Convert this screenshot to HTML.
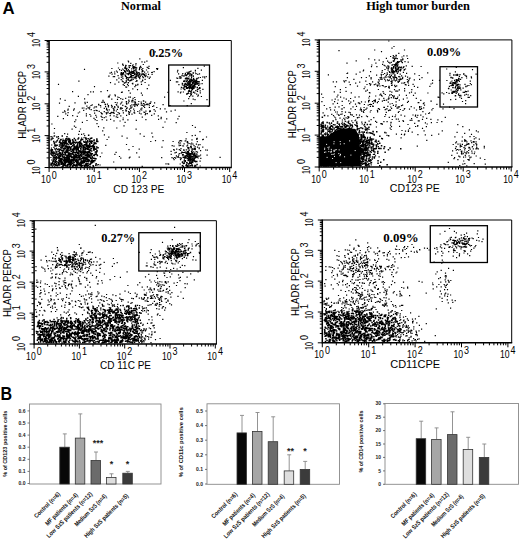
<!DOCTYPE html>
<html><head><meta charset="utf-8"><style>
html,body{margin:0;padding:0;background:#fff;width:520px;height:540px;overflow:hidden}
svg{display:block}
</style></head><body>
<svg width="520" height="540" viewBox="0 0 520 540" font-family='"Liberation Sans", sans-serif'><text x="2.4" y="14.3" font-size="16.8" font-weight="bold">A</text>
<text x="141" y="10.3" font-size="12.2" font-family='"Liberation Serif", serif' font-weight="bold" text-anchor="middle">Normal</text>
<text x="418" y="10.3" font-size="12.4" font-family='"Liberation Serif", serif' font-weight="bold" text-anchor="middle">High tumor burden</text>
<text x="0.5" y="399.9" font-size="18" font-weight="bold" textLength="11.6" lengthAdjust="spacingAndGlyphs">B</text>
<path d="M55.1 149.9h1.2M54.1 145.9h1.2M52.9 160.1h1.2M55.8 159.7h1.2M54.3 162.4h1.2M55.9 148.3h1.2M55.4 151.3h1.2M50.3 157.5h1.2M50.5 164.9h1.2M52.7 155.2h1.2M50.7 150.6h1.2M53.5 157.6h1.2M55.6 165.5h1.2M51.8 163.5h1.2M50.4 165.4h1.2M54.3 153.4h1.2M51.1 151.4h1.2M51 163.4h1.2M54.5 161.5h1.2M55.4 165h1.2M53.4 154.1h1.2M52 152.7h1.2M53.3 151.9h1.2M55.8 163.7h1.2M54.9 164.7h1.2M50.6 152.6h1.2M52.1 162.8h1.2M50.2 153.7h1.2M54.3 153.3h1.2M52.5 158.2h1.2M50.9 152.1h1.2M52 150.1h1.2M52.8 151.8h1.2M55.6 152.1h1.2M54.6 155.7h1.2M53.3 147.3h1.2M54.4 160.2h1.2M50.1 150.1h1.2M52.1 155.3h1.2M53.5 158.1h1.2M55.4 148.8h1.2M52.1 155.1h1.2M54.6 157.3h1.2M55.6 157.7h1.2M55.5 165h1.2M52.2 161.9h1.2M54 148.9h1.2M53.4 163.6h1.2M53.2 157.9h1.2M52.9 160.8h1.2M71.5 129.2h1.2M96.1 151.1h1.2M50.9 148h1.2M56.1 165.1h1.2M81 134.3h1.2M81.8 146h1.2M106.5 139.5h1.2M51.1 150.7h1.2M65.7 145.8h1.2M50.7 154.3h1.2M102.1 130.9h1.2M93.1 144.3h1.2M114.3 154.4h1.2M68.6 161.1h1.2M81.5 144.1h1.2M84.8 144.9h1.2M50.8 164.6h1.2M65.7 143.9h1.2M78.1 134.4h1.2M51.1 145h1.2M62.6 150.7h1.2M92.2 145.3h1.2M80.9 156h1.2M52.5 152.3h1.2M55 160.6h1.2M80.2 150.2h1.2M50.6 151.2h1.2M58.2 157.1h1.2M69.9 141.9h1.2M88.7 157.2h1.2M61.3 161.6h1.2M66.6 146.9h1.2M74.2 142.5h1.2M64.1 148.4h1.2M99.5 165h1.2M67.3 166.1h1.2M71.2 153.8h1.2M87.9 152.9h1.2M115.5 152.4h1.2M50.4 163.1h1.2M64.6 147h1.2M51.6 160h1.2M86.7 158h1.2M89.6 164.5h1.2M71.2 159.4h1.2M58.6 146.5h1.2M91 153.9h1.2M51.6 153.6h1.2M68.7 141.8h1.2M79.8 146h1.2M51.7 138.9h1.2M103.8 134.9h1.2M76 156.1h1.2M83.5 137.7h1.2M66.2 151.4h1.2M86.4 143.6h1.2M51.1 160h1.2M91.9 153.7h1.2M61 154.1h1.2M74 158.4h1.2M51.4 151.2h1.2M69.1 138.9h1.2M75.9 150.3h1.2M64.6 154h1.2M51.9 149.5h1.2M79.8 152.8h1.2M91.4 138h1.2M50.7 152.4h1.2M80.2 164.8h1.2M83.1 141.3h1.2M86.5 141.5h1.2M51.1 164.3h1.2M77.9 157.1h1.2M82.1 165.4h1.2M77.1 162.2h1.2M53.5 136.1h1.2M97.7 164.7h1.2M81.2 152.3h1.2M75 143.1h1.2M99.7 156.6h1.2M81.1 153.8h1.2M90.9 155.1h1.2M85.4 138.3h1.2M81.2 166.1h1.2M62.7 148.7h1.2M88.1 159.6h1.2M83.2 133.8h1.2M81 138.2h1.2M57.2 155.5h1.2M66.7 158.1h1.2M128.7 157.8h1.2M85 141h1.2M60.4 139.4h1.2M62.4 139.1h1.2M60.1 147.9h1.2M54 135.8h1.2M50.5 154.5h1.2M73.1 160.3h1.2M90.8 146.6h1.2M84.1 135.6h1.2M113.1 162h1.2M68.1 138.4h1.2M78.8 131.3h1.2M58 157.5h1.2M73.4 145.1h1.2M89.1 139.6h1.2M77.1 145h1.2M56.7 154.6h1.2M54.1 166.1h1.2M61.5 166.5h1.2M52.3 156.1h1.2M50.4 136.6h1.2M74.9 156.8h1.2M52 161.8h1.2M57.6 151.3h1.2M78.8 155.9h1.2M51.8 166.2h1.2M82.1 145.7h1.2M53.6 133.1h1.2M51.3 155.4h1.2M65.9 138.7h1.2M62.5 165.6h1.2M66 144.2h1.2M96.3 154.6h1.2M72.8 143.9h1.2M52.5 138.3h1.2M63.4 147.8h1.2M78.4 155.5h1.2M76 152.2h1.2M53.9 128.5h1.2M62.6 140.5h1.2M60.3 147.3h1.2M50.7 138.9h1.2M70.2 151.2h1.2M60.2 155h1.2M68 139.8h1.2M72.7 165.6h1.2M59.9 161.7h1.2M96.8 165h1.2M57.2 165.3h1.2M74.1 147.5h1.2M67.9 156h1.2M72.9 148.2h1.2M95.1 142.8h1.2M53.2 157.9h1.2M84.7 160.9h1.2M52.7 160.8h1.2M80.7 166.5h1.2M50.6 152.2h1.2M67 134.1h1.2M59.1 161.3h1.2M63.6 142.8h1.2M87.6 159.9h1.2M89.8 142.1h1.2M71 160.3h1.2M60.2 142.5h1.2M86.9 165.6h1.2M51.3 124h1.2M50.5 139.9h1.2M69.5 156.2h1.2M69.4 143h1.2M74.8 140.4h1.2M71.2 143.6h1.2M120.2 158.2h1.2M57 140h1.2M64.1 133.6h1.2M58.9 142.6h1.2M87.9 145.7h1.2M57.8 136.6h1.2M50.8 149.3h1.2M68.1 161.3h1.2M60.7 160.6h1.2M76.6 150h1.2M51.6 137.1h1.2M85.3 164h1.2M75.7 157.6h1.2M64.7 146.3h1.2M60.1 159.7h1.2M78.2 147.7h1.2M66.1 155.6h1.2M151.1 72.5h1.2M139.2 58.8h1.2M133.4 71.9h1.2M138.8 74.5h1.2M120.6 79.7h1.2M138.9 77.6h1.2M142.1 80.6h1.2M131.8 65.9h1.2M118.2 82.1h1.2M139.1 74.6h1.2M127.7 74.2h1.2M132.2 72h1.2M125 87h1.2M134.3 70.4h1.2M119 69.6h1.2M139.2 78.6h1.2M129.8 74.3h1.2M128.9 67.4h1.2M145 76.2h1.2M156.8 69.5h1.2M130.6 79.3h1.2M129.5 65.7h1.2M122.5 74.6h1.2M135.4 73.4h1.2M142 80h1.2M135.2 74.2h1.2M129.5 77.3h1.2M141.2 74.4h1.2M136.5 72.1h1.2M117.9 68h1.2M139.7 76.7h1.2M147.9 74.3h1.2M140.6 81.9h1.2M141.9 70.3h1.2M130.2 74.8h1.2M122.1 76.8h1.2M142.2 71.1h1.2M151.7 72.3h1.2M130 72.6h1.2M124.9 76.5h1.2M132.2 84h1.2M138.1 77.2h1.2M129.8 65.5h1.2M131.1 68.9h1.2M141.5 73.8h1.2M148.7 78.4h1.2M140.4 75.4h1.2M134.1 77.9h1.2M141.2 69.7h1.2M136.9 89.7h1.2M131.1 72.5h1.2M125.1 65.3h1.2M143.9 74.4h1.2M135 85.1h1.2M157.1 68.7h1.2M142.5 77.7h1.2M136 76.9h1.2M131.8 83.5h1.2M138.2 76.1h1.2M144.5 79.4h1.2M136.6 76h1.2M149.6 77.1h1.2M131.1 68.9h1.2M128.6 67.7h1.2M133.1 75.6h1.2M111.5 74.1h1.2M138.5 75h1.2M122.5 81.6h1.2M125.1 66.6h1.2M121.2 73.9h1.2M141.9 81h1.2M134.1 66.9h1.2M125.5 68.6h1.2M130.2 63.4h1.2M133.1 77.9h1.2M130.5 76.8h1.2M122.6 65.3h1.2M125.6 80.9h1.2M142.3 71.3h1.2M144 72.1h1.2M147.1 76.9h1.2M127.5 78.8h1.2M124.3 68.4h1.2M117.5 75.6h1.2M131.5 73.5h1.2M127.9 82.6h1.2M127.8 69.7h1.2M144.5 82.5h1.2M135.4 63.6h1.2M126 77.7h1.2M132.2 83.3h1.2M118.3 78.1h1.2M125.7 81.9h1.2M131.2 80.2h1.2M125.5 65.5h1.2M120.9 70.4h1.2M121.8 81.2h1.2M145.4 75.6h1.2M121.7 73.3h1.2M125.1 82.7h1.2M135.2 76.9h1.2M128 61.9h1.2M124.3 67.3h1.2M135.7 74.6h1.2M124 71.7h1.2M147.7 68.2h1.2M122.8 72.6h1.2M125 71.4h1.2M137.3 84.4h1.2M114.2 73.9h1.2M132.4 73.5h1.2M130.1 72h1.2M142 71.2h1.2M130.7 74h1.2M133.1 73h1.2M142 73.9h1.2M133.7 73.7h1.2M122 69h1.2M121.5 75.2h1.2M124.9 67.6h1.2M134.4 77.2h1.2M114.4 84.1h1.2M132.3 73.4h1.2M142.7 74.4h1.2M126 87.2h1.2M121.3 73.4h1.2M140.5 67.6h1.2M131 76.3h1.2M156 68.6h1.2M131.5 78h1.2M132.8 66.8h1.2M136.1 74.6h1.2M136.5 80.8h1.2M142.1 76.4h1.2M135.1 67.4h1.2M130.7 75.3h1.2M128 74.6h1.2M123.7 83.2h1.2M153.5 71.7h1.2M136 72.6h1.2M144.6 76.6h1.2M132.8 72.7h1.2M133.3 68h1.2M138.8 69.7h1.2M137.3 74.8h1.2M142.9 73.9h1.2M142.2 68.5h1.2M138.1 72.7h1.2M133.9 74.4h1.2M141.4 61.9h1.2M135.2 65h1.2M144.1 62.2h1.2M122 64h1.2M148.4 66.3h1.2M133.1 70.8h1.2M114 72h1.2M138.6 72.9h1.2M141.4 71.8h1.2M132.1 71.7h1.2M135.4 85.4h1.2M135.6 75.2h1.2M125.8 69.5h1.2M146.6 67.3h1.2M122.9 73.4h1.2M127.7 85.7h1.2M108.3 76.2h1.2M139.1 67.3h1.2M125.6 76.6h1.2M148.3 68.5h1.2M116.2 79.8h1.2M147.2 72h1.2M109.9 82.7h1.2M130 80.7h1.2M131.6 71.7h1.2M127.5 82.8h1.2M146.3 61.2h1.2M122.6 84.7h1.2M128.3 65.8h1.2M132 73.3h1.2M131 71.1h1.2M128.9 71.3h1.2M135.3 69.1h1.2M129.1 73.1h1.2M145.1 76.2h1.2M130.9 77.2h1.2M136.1 80.5h1.2M137.1 84.8h1.2M145.4 73.8h1.2M127.9 79.3h1.2M137.2 73.4h1.2M117.2 63h1.2M135.5 78.6h1.2M140 66.3h1.2M142.4 70.8h1.2M135.9 76.5h1.2M124 70.5h1.2M111.3 68.5h1.2M114 76.6h1.2M132.6 79.5h1.2M135.6 70.2h1.2M135.5 71.7h1.2M138.1 75.9h1.2M122.1 74h1.2M132.6 72.2h1.2M140.9 84.3h1.2M128.3 71.9h1.2M109.5 73.2h1.2M127.6 61h1.2M134.9 77.5h1.2M124.7 71.8h1.2M122.3 78.6h1.2M116.8 72.1h1.2M151.5 74.3h1.2M136.7 73.1h1.2M120.3 73.8h1.2M136.1 67.9h1.2M135.4 81.5h1.2M142.7 64.5h1.2M122.2 64.3h1.2M142.7 77.7h1.2M139 68.7h1.2M120.3 74.5h1.2M133 68.9h1.2M133.4 77.9h1.2M134.3 67.8h1.2M110.9 72.4h1.2M133.6 72.4h1.2M127.7 69.9h1.2M139.2 73.7h1.2M133.2 68.2h1.2M124.9 75.7h1.2M123 70h1.2M126.4 79.8h1.2M129 80.8h1.2M127.3 73.8h1.2M121 72.7h1.2M135.2 76.3h1.2M131.7 77.8h1.2M128 74.2h1.2M128.6 77.7h1.2M130.3 77h1.2M128.8 71.9h1.2M126.7 71.2h1.2M133 66.6h1.2M126.9 84.5h1.2M126.3 70.5h1.2M127.9 80.2h1.2M127.2 77.5h1.2M128.5 73.5h1.2M143.8 75.3h1.2M125.3 73h1.2M129.9 76.6h1.2M131.9 75.6h1.2M120.8 77.1h1.2M126.5 73.9h1.2M120.6 72.7h1.2M124.4 74.9h1.2M120.7 75.2h1.2M128.6 70.5h1.2M124.9 71.6h1.2M132.5 64.9h1.2M126.3 68.4h1.2M125.8 78.4h1.2M124.8 75.6h1.2M123.8 82.8h1.2M140.5 113.8h1.2M102.4 100.4h1.2M143.4 105.8h1.2M120.6 109h1.2M103.7 111.6h1.2M125.3 109.9h1.2M113.6 110.1h1.2M113 112.7h1.2M144.2 112.5h1.2M133.8 110.8h1.2M79 112h1.2M120.3 107.6h1.2M120.2 98.7h1.2M115.8 111h1.2M149.1 103.3h1.2M109.6 115.7h1.2M110 119.4h1.2M125.9 101.7h1.2M141.7 117.2h1.2M100.6 116.4h1.2M120.2 115.9h1.2M118.5 97.5h1.2M133.5 112.6h1.2M160.6 117.3h1.2M136.8 105.6h1.2M116.1 105.2h1.2M110.9 105.4h1.2M81.7 108.1h1.2M124.5 122.4h1.2M137.9 104.1h1.2M134.6 99.6h1.2M114.8 95.8h1.2M149.4 110.6h1.2M105 106.6h1.2M141.1 110h1.2M131.5 101.9h1.2M114.2 107.6h1.2M140.6 102h1.2M105.9 113.9h1.2M109.2 113.5h1.2M129.1 112.3h1.2M154.7 111.1h1.2M138.2 101.5h1.2M113.2 110.9h1.2M151.1 115.4h1.2M164.4 108.9h1.2M128.4 113h1.2M125.3 106.6h1.2M107.2 112.9h1.2M106.8 110.1h1.2M100.9 113.6h1.2M107.5 112.1h1.2M98 104.4h1.2M145 102.2h1.2M126.1 104.1h1.2M85.7 108.8h1.2M132.3 100.4h1.2M134.8 102.2h1.2M107.9 107h1.2M113.4 120.8h1.2M98.6 111.4h1.2M141.8 95.1h1.2M95.5 110.4h1.2M116.8 109.3h1.2M144.4 104.8h1.2M106.9 90.6h1.2M128.5 101.4h1.2M130.3 108.4h1.2M101.5 117.3h1.2M143.4 112.1h1.2M104.9 104.6h1.2M115.7 104.5h1.2M105.9 109.6h1.2M128.9 109.2h1.2M116.4 114.7h1.2M128.2 90.6h1.2M114.1 106.7h1.2M141.4 105.2h1.2M120.7 103h1.2M136.3 104.3h1.2M114.7 102.5h1.2M134.5 103.8h1.2M96.5 110.7h1.2M113.1 109.1h1.2M131.4 114.2h1.2M142.8 103.5h1.2M122.2 99.3h1.2M153.5 109.6h1.2M148.7 105.1h1.2M90.2 116.2h1.2M126.6 107.8h1.2M125.9 110.9h1.2M134.1 97.5h1.2M143.5 103.8h1.2M117.1 117.4h1.2M140.6 105h1.2M93.4 108h1.2M134.2 106.5h1.2M103.8 102.3h1.2M103.7 108.3h1.2M138.9 113.2h1.2M112.6 108.4h1.2M134.4 103.9h1.2M122.5 119.7h1.2M128.5 112.3h1.2M117.6 107.3h1.2M95.9 106.8h1.2M145.3 119.6h1.2M145.3 111.1h1.2M125.9 103.4h1.2M122.3 110.7h1.2M111.7 112.6h1.2M108.3 96.3h1.2M107.8 97h1.2M101.7 113.8h1.2M121.6 108.3h1.2M144.7 114.6h1.2M116.4 115h1.2M131.5 107h1.2M132.5 98.4h1.2M111.6 106.4h1.2M135.4 104.8h1.2M122.8 112.8h1.2M149 111.6h1.2M146.6 104.6h1.2M119.8 108.9h1.2M119.9 104h1.2M153.1 105.8h1.2M108.6 109.9h1.2M156.2 107.5h1.2M145.9 104.4h1.2M116.6 102.9h1.2M122.6 118h1.2M105.4 116.8h1.2M107.9 105.6h1.2M139.2 110.8h1.2M129.8 97.1h1.2M131.2 100.9h1.2M168.7 105.7h1.2M128.2 100.1h1.2M116.9 99.3h1.2M141.7 105.4h1.2M134.6 102.9h1.2M116.5 114.7h1.2M108.5 96.2h1.2M131.9 100.2h1.2M117.5 112.5h1.2M111.1 112.3h1.2M113.4 115.9h1.2M147.5 104.2h1.2M121.4 102h1.2M128.4 113.9h1.2M100.4 112.5h1.2M102.5 101.8h1.2M94.6 119.6h1.2M126 108.5h1.2M113.5 113.4h1.2M89.2 107.2h1.2M162.5 104.7h1.2M125.3 111h1.2M111.2 107.1h1.2M141.3 108.2h1.2M131.3 104.9h1.2M130.4 107.3h1.2M149.7 111.3h1.2M120.9 92.3h1.2M137.2 111.5h1.2M109.4 95h1.2M105.6 112.6h1.2M106.9 104.2h1.2M128.7 114.3h1.2M124.7 106.4h1.2M115.7 116.8h1.2M143.1 106.4h1.2M101.3 102.3h1.2M134.9 102.7h1.2M140.2 109.2h1.2M130 110.9h1.2M133.5 101.9h1.2M119.5 121h1.2M104.5 104.2h1.2M143.1 106h1.2M111.2 99.1h1.2M134.1 113.1h1.2M148.8 107.3h1.2M142.8 100.8h1.2M127.9 102.9h1.2M128 111.5h1.2M143.2 101.1h1.2M146.5 104.2h1.2M107.6 106h1.2M100.1 107h1.2M129.9 105.8h1.2M134.1 105.1h1.2M125.1 98.4h1.2M125.7 101.9h1.2M117.4 106.4h1.2M128.2 97.1h1.2M98.4 105.2h1.2M133.1 109.2h1.2M93.4 118.4h1.2M87.4 107.8h1.2M64.5 100.4h1.2M73 110.1h1.2M83.3 108h1.2M77.7 113h1.2M83.1 110.4h1.2M84.6 103.6h1.2M64.5 111.9h1.2M86.3 106.2h1.2M73.8 126.2h1.2M68.6 106.3h1.2M84 98.8h1.2M81.8 122.4h1.2M94 113.1h1.2M88.9 108.9h1.2M94.4 106.8h1.2M73.7 108.8h1.2M93.6 110.6h1.2M90.1 91.8h1.2M97.9 126.7h1.2M100 105.5h1.2M67.3 110.2h1.2M65.2 113.8h1.2M72.1 115.7h1.2M100.4 91.7h1.2M84.4 102.4h1.2M58.9 103.1h1.2M76.7 116.3h1.2M57.2 116.4h1.2M110.3 112.8h1.2M88.2 107.9h1.2M62.4 112.3h1.2M85.8 113.9h1.2M118.5 113.8h1.2M86.4 120.5h1.2M59.8 98.9h1.2M74.4 102.8h1.2M90.4 105.5h1.2M106.1 120.2h1.2M91.6 104.9h1.2M89.3 114.5h1.2M64 110.8h1.2M90.6 109.7h1.2M103.6 117.7h1.2M67.6 109h1.2M67.5 112.6h1.2M67 115.4h1.2M85.8 115.8h1.2M77.8 96.3h1.2M201.5 83.6h1.2M198.9 88.4h1.2M194.4 99.6h1.2M192.2 96.2h1.2M180.4 92h1.2M188.4 83.9h1.2M190.1 87.8h1.2M200.8 70.2h1.2M190.3 79.3h1.2M197.6 81.6h1.2M193 81.8h1.2M194.3 93.1h1.2M187.4 85.4h1.2M180.8 87.4h1.2M195.6 80.6h1.2M197.3 68.4h1.2M178 73.9h1.2M186.8 85.1h1.2M189.5 84.5h1.2M194.7 81.2h1.2M181.8 75h1.2M203.7 66.2h1.2M188.9 96.7h1.2M193.1 78.4h1.2M190 91.9h1.2M197.9 77.8h1.2M194.9 87h1.2M197.2 96.1h1.2M187.8 73.4h1.2M192.6 99.2h1.2M194.5 86.8h1.2M205.6 76.7h1.2M195.9 80.4h1.2M190.3 85.7h1.2M199.8 77.5h1.2M186.5 72.3h1.2M193.2 81.3h1.2M192.7 76.4h1.2M187.7 93.3h1.2M188.9 90h1.2M193.4 82.2h1.2M179.9 92.9h1.2M191.1 92.9h1.2M176.9 71.8h1.2M176.1 78h1.2M196.8 89.5h1.2M189.8 86h1.2M194.9 82.6h1.2M192.6 86.1h1.2M175.8 81.9h1.2M198.8 81.8h1.2M189.1 80.1h1.2M186.8 94h1.2M188.3 76.8h1.2M169.8 80.4h1.2M177.2 70.4h1.2M195.2 90.7h1.2M177.5 91.8h1.2M193 78.7h1.2M194.8 72h1.2M182.2 73.5h1.2M182.8 92h1.2M181.3 75.8h1.2M183.8 86.6h1.2M187.8 91.9h1.2M185.4 74.7h1.2M186.7 85.3h1.2M183.9 87.2h1.2M201.8 80.3h1.2M190.2 95.7h1.2M185.7 78.1h1.2M182.8 88.1h1.2M193.3 83.7h1.2M190.2 95.1h1.2M195.5 73.6h1.2M189.8 85.7h1.2M194.5 83h1.2M185.6 81.1h1.2M178.3 84.6h1.2M185.9 88.5h1.2M183.1 81.3h1.2M183.4 76.2h1.2M194.3 81h1.2M192.7 75.8h1.2M190.4 71.2h1.2M186.7 80.7h1.2M193.5 86.1h1.2M188.6 91.4h1.2M191 89h1.2M194.7 84.1h1.2M187.8 87.3h1.2M187 87.7h1.2M196.9 91.5h1.2M187.2 74.4h1.2M189.3 83.6h1.2M196.9 81.6h1.2M188.3 90.5h1.2M186.6 83.4h1.2M200.8 96.5h1.2M193.8 86.8h1.2M183.4 89.1h1.2M190.1 86.4h1.2M186.3 84.5h1.2M188.5 87.1h1.2M199 87.5h1.2M178.9 76.9h1.2M179.4 78.3h1.2M193.3 87.8h1.2M185.8 86.7h1.2M184.8 73.3h1.2M180.6 77.8h1.2M198.9 73.9h1.2M197.8 95.2h1.2M188.5 84.2h1.2M185.7 84.4h1.2M193.9 84.7h1.2M196.1 94.1h1.2M191.9 87.2h1.2M189.3 87.4h1.2M182.4 87.8h1.2M191 77.7h1.2M203.6 76.8h1.2M184 86.8h1.2M177.1 78.3h1.2M179.8 76.9h1.2M188.8 87.1h1.2M196.8 91h1.2M197.3 89.3h1.2M186.6 93.5h1.2M186.5 79.7h1.2M199.6 90.9h1.2M191.1 90.6h1.2M195.3 73.7h1.2M189 75.1h1.2M190.4 79.2h1.2M198.5 88.7h1.2M184.4 84.4h1.2M181.8 84.9h1.2M193.2 86.7h1.2M177.1 81.9h1.2M192.9 87h1.2M197.2 74.3h1.2M193 79.3h1.2M190.9 87.8h1.2M194.1 79.9h1.2M190.8 75.2h1.2M180.5 89h1.2M189.3 71.6h1.2M184.1 84.7h1.2M199.7 92.9h1.2M194.8 70.3h1.2M189 88.4h1.2M192.2 87.9h1.2M188.1 98.6h1.2M199.2 83.8h1.2M183.3 101h1.2M186 94.1h1.2M202 77h1.2M191.5 81.8h1.2M193 87.1h1.2M202.3 89.3h1.2M189.6 93.5h1.2M187.9 81.6h1.2M204.2 78h1.2M186.4 84.9h1.2M182.8 67.7h1.2M196.5 78.3h1.2M186.1 81.6h1.2M183.2 75.9h1.2M190.7 103.7h1.2M184.8 157.3h1.2M195.6 151.6h1.2M202.7 139.3h1.2M186.9 165.3h1.2M185.5 138.8h1.2M199.1 156h1.2M179.7 157.8h1.2M181 140.9h1.2M187.5 147.8h1.2M180.4 148.7h1.2M181.1 152.1h1.2M188.5 157.6h1.2M185.2 140.9h1.2M178.7 149.6h1.2M200.2 158.4h1.2M183.8 159.2h1.2M179.9 159.7h1.2M185.8 157.8h1.2M193.3 149.4h1.2M191.1 143.1h1.2M188.1 160.3h1.2M219.5 157.3h1.2M189.3 143.5h1.2M196.6 138.3h1.2M182.6 154.5h1.2M179.6 164h1.2M196.9 147.1h1.2M184.5 141h1.2M178.1 155.2h1.2M193.3 154.5h1.2M190.7 147.1h1.2M191.4 139.8h1.2M188.7 163.5h1.2M198.6 147.9h1.2M186.1 162.7h1.2M202.1 139.6h1.2M185.4 153.5h1.2M197.8 144.9h1.2M193.5 149.2h1.2M206.5 155.1h1.2M187.6 148.9h1.2M196.6 157.1h1.2M180.5 153.4h1.2M178.6 145.6h1.2M178.9 141h1.2M183.5 143.8h1.2M192.6 158h1.2M186.9 142.7h1.2M194.7 135.4h1.2M174.1 157.5h1.2M193.6 159.5h1.2M187 141.5h1.2M184.8 156.2h1.2M182.9 146h1.2M178.2 142.3h1.2M195 155.3h1.2M179.9 143h1.2M184.4 156h1.2M179.9 150.3h1.2M172.5 141.5h1.2M191.8 158.9h1.2M180 145.4h1.2M194.7 148.5h1.2M184.6 155.8h1.2M190.1 160.6h1.2M194.6 147h1.2M187.8 151.2h1.2M178.5 143.8h1.2M196 138.9h1.2M196.2 153.9h1.2M187.6 156h1.2M192.3 161.4h1.2M185.7 149.8h1.2M186.8 166.2h1.2M195.8 144.2h1.2M186.2 146h1.2M188.8 153.4h1.2M205.9 137h1.2M196.4 155.2h1.2M183.4 150.5h1.2M185 152.1h1.2M196.3 139.5h1.2M198.6 148.7h1.2M200 155h1.2M198 156.2h1.2M196.9 152.2h1.2M182.5 157.1h1.2M194.1 166.4h1.2M173.7 150.1h1.2M196.7 141.7h1.2M187 166.3h1.2M199.4 144.7h1.2M199.5 161.2h1.2M194.6 154.8h1.2M190.5 144.8h1.2M184.9 157.6h1.2M189.8 165.5h1.2M186.3 132.5h1.2M186.3 154h1.2M191.7 152.3h1.2M182.6 163.7h1.2M183.8 157.5h1.2M186.6 142.2h1.2M199.4 131.7h1.2M182.4 155.3h1.2M186.1 157.8h1.2M188.1 148.2h1.2M205 150h1.2M187.6 143.1h1.2M183.2 157h1.2M193.1 151.8h1.2M183.6 157.3h1.2M176.1 149.1h1.2M187 145.1h1.2M190 146.5h1.2M182.8 166.3h1.2M194.4 161.5h1.2M189.3 159.6h1.2M194.8 161.6h1.2M206.7 150.1h1.2M190.9 151.5h1.2M162.5 140.7h1.2M189.1 157h1.2M184.6 161h1.2M198.6 148.6h1.2M199.6 166h1.2M192.4 144.1h1.2M200 150.7h1.2M186.1 152.9h1.2M184.9 160.6h1.2M194.8 161.7h1.2M193.4 145.6h1.2M187.8 159h1.2M185.9 164.5h1.2M187.2 147.3h1.2M197.6 158h1.2M188.8 150.2h1.2M192.2 158.7h1.2M194.7 149.6h1.2M192.2 158.8h1.2M194.7 127.3h1.2M182.3 145.8h1.2M187.3 153.4h1.2M195.9 156.9h1.2M188 152.2h1.2M202.2 147.1h1.2M191.3 164.5h1.2M191.6 135.7h1.2M191.8 148.9h1.2M188.2 160.4h1.2M183.5 150.1h1.2M183.7 163.4h1.2M175 158.1h1.2M173.5 159.6h1.2M180.6 158.2h1.2M188.3 159.5h1.2M188.2 160.3h1.2M172.9 158.4h1.2M183.1 149.9h1.2M188.1 157.4h1.2M182.3 152.6h1.2M180.6 158.6h1.2M178.2 157.5h1.2M167.4 163.9h1.2M173.4 146.2h1.2M174.4 152.9h1.2M183.4 152.5h1.2M181.8 152.3h1.2M193.4 159.8h1.2M191.8 152h1.2M184.1 152.3h1.2M183.6 160.5h1.2M170.5 151.4h1.2M173.1 149.6h1.2M175.7 152.3h1.2M171.4 157.6h1.2M183.4 150.5h1.2M176.7 157.1h1.2M178.7 153.6h1.2M184.9 161.3h1.2M184.2 156h1.2M192 165.8h1.2M177.7 156.5h1.2M187.2 153.1h1.2M182.5 157.3h1.2M175.8 155.9h1.2M170.6 154.3h1.2M168.1 164.1h1.2M189.1 163.2h1.2M181.9 162h1.2M179.8 140.6h1.2M167.4 92.4h1.2M150.3 101.8h1.2M93.9 86.6h1.2M150.2 141.5h1.2M87.3 158.8h1.2M186.6 105.6h1.2M118.9 113.3h1.2M169.5 105.5h1.2M96.4 123.7h1.2M62.8 118.6h1.2M175.6 122.7h1.2M162.4 127.4h1.2M160.5 118.6h1.2M106 109.4h1.2M132.4 146.5h1.2M191.9 125.5h1.2M108.7 96.8h1.2M128.4 149.7h1.2M146.7 113.6h1.2M108.2 137.1h1.2M145.1 113.7h1.2M138.6 157.2h1.2M129.4 157.2h1.2M178.5 116.3h1.2M165.9 111.9h1.2M106 108.3h1.2M103.2 127.8h1.2M135.5 129.2h1.2M145.9 70h1.2M140.8 93.1h1.2M138.6 149.1h1.2M75.2 119.8h1.2M132.3 67.7h1.2M157.7 115.9h1.2M117.2 97h1.2M72 91.7h1.2M122.2 105.4h1.2M132.2 88.8h1.2M154 102.9h1.2M87.4 94.6h1.2M121.5 136.2h1.2M152 106.5h1.2M135.7 120.4h1.2M206.4 99.6h1.2M151.3 133.2h1.2M101.6 119.7h1.2M140.7 103.3h1.2M154.9 140.7h1.2M174.6 110.2h1.2M141.6 166.4h1.2M96.4 120.5h1.2M166.1 118.8h1.2M158 119.3h1.2M161.4 147.1h1.2M127.3 119.9h1.2M133.1 104.9h1.2M134.3 86.7h1.2M161.1 157.6h1.2M194.7 146.9h1.2M101.3 153h1.2M110 113.7h1.2M199.6 88.2h1.2M164.4 122h1.2M129.7 93.1h1.2M149.8 103.4h1.2M171.6 145.6h1.2M86.7 102.4h1.2M123.8 85.5h1.2M95.9 117.2h1.2M127.7 73.7h1.2M116.2 128h1.2M92.8 91.9h1.2M190.6 147.9h1.2M78.3 81.2h1.2M148.2 85.2h1.2M126.2 103.7h1.2M154.6 51.8h1.2M57.9 84.3h1.2M170.5 111.1h1.2M75.2 127.3h1.2M159.8 108.9h1.2M123.4 125.9h1.2M177.3 118.8h1.2M153.7 113.8h1.2M121.7 92.1h1.2M144 107.5h1.2M126.5 138.2h1.2M152.1 136.8h1.2M79.9 129h1.2M114.4 94.8h1.2M105.2 145.3h1.2M164 97.1h1.2M95.2 115.3h1.2M118.9 156.5h1.2M83.9 69.3h1.2M126 115.3h1.2M139.6 133.8h1.2M207.6 106.4h1.2M115.9 71h1.2M143.5 136.3h1.2M125.9 144.5h1.2M136.1 152.9h1.2M146.7 88.6h1.2M112.7 76.7h1.2M74.2 121.7h1.2M165.4 163.9h1.2M133.1 109.1h1.2" stroke="#000" stroke-width="1.2" fill="none"/>
<path d="M77 162.9h1.5M95.4 163.8h1.5M86.3 145.6h1.5M70.9 151.4h1.5M68.1 141.7h1.5M91.6 160.1h1.5M53.6 163.9h1.5M85.7 165.6h1.5M87.3 161.8h1.5M72.1 157h1.5M67.4 158.7h1.5M69.5 153.6h1.5M63.9 160.7h1.5M71 157.1h1.5M75.8 146.2h1.5M76.7 153.4h1.5M96.1 139h1.5M86.3 154.3h1.5M77.4 162.1h1.5M89.1 150.1h1.5M64.9 161.2h1.5M60.2 159.5h1.5M79.9 148.5h1.5M53 141.6h1.5M55.3 142.1h1.5M76.6 146.4h1.5M76.4 146.7h1.5M94.1 154.6h1.5M83.4 165.3h1.5M75.7 146.8h1.5M77.4 159.9h1.5M66.2 156.4h1.5M55.5 157.8h1.5M61.3 150.4h1.5M85.2 142.6h1.5M63.6 160h1.5M68.3 147.4h1.5M55.5 145.2h1.5M92.8 160.7h1.5M58.3 155.7h1.5M62.8 142.5h1.5M93.6 147.5h1.5M72.1 166.1h1.5M92.2 146.1h1.5M79.3 157.4h1.5M85.6 145h1.5M62.5 164.2h1.5M80.1 146.5h1.5M77.5 149.6h1.5M89.7 141.7h1.5M69.1 156.6h1.5M78.4 159.7h1.5M61.9 143.9h1.5M71.7 149.4h1.5M71.3 160.7h1.5M55.7 154.1h1.5M86.7 145.7h1.5M71.3 159.3h1.5M93 149h1.5M84.1 161.3h1.5M76.5 148.2h1.5M81.9 157.9h1.5M84.4 155.3h1.5M59.6 159.7h1.5M75.1 148.3h1.5M66.2 158.6h1.5M78.8 156.4h1.5M63.2 149.9h1.5M93.4 142.5h1.5M66.6 165.9h1.5M83 157.1h1.5M66.4 146.6h1.5M91.5 162.5h1.5M82.9 149.9h1.5M64.9 152.6h1.5M85.2 159.4h1.5M89.3 155.6h1.5M89.1 150.6h1.5M79.7 152.2h1.5M64.2 141.7h1.5M63 145.9h1.5M92.6 145.7h1.5M77.5 148.5h1.5M58.8 142.3h1.5M88.2 152.6h1.5M83.1 145.4h1.5M80.2 155.2h1.5M73.4 162.5h1.5M73.6 147.6h1.5M58.9 153h1.5M58 157.1h1.5M90.9 142.6h1.5M70.7 146.8h1.5M81.9 163.1h1.5M68 148.3h1.5M87.5 165.7h1.5M58.8 144.9h1.5M71.9 153h1.5M60.5 159.4h1.5M60.3 163.2h1.5M95.9 141.2h1.5M82.6 151.7h1.5M69.5 149.7h1.5M74.7 156.5h1.5M86.9 140.7h1.5M64.8 143.5h1.5M74.9 161.6h1.5M83.7 157.2h1.5M66.1 150.1h1.5M78.5 164.6h1.5M85 152.6h1.5M90.6 138.2h1.5M58.6 151h1.5M93.2 140.6h1.5M53.7 143.5h1.5M86.8 153.2h1.5M89.2 166.2h1.5M56.9 154.3h1.5M73.4 155.4h1.5M82.4 147.7h1.5M58.4 158.8h1.5M75 166.1h1.5M84.1 157.7h1.5M79.1 163.3h1.5M84.7 151.4h1.5M66.4 143.4h1.5M57.4 162.2h1.5M71.9 157.3h1.5M60.7 148h1.5M73.5 160h1.5M92.9 158.2h1.5M77.9 138h1.5M65 154.4h1.5M64.1 158.7h1.5M92.9 155.3h1.5M76.6 146.9h1.5M97.3 147.7h1.5M75.3 156.4h1.5M73.2 157.2h1.5M87.7 154.8h1.5M89 140.9h1.5M79.2 159h1.5M69.8 160.9h1.5M93.9 148.5h1.5M73.3 144.7h1.5M93.7 143.7h1.5M60.7 162.8h1.5M73.5 165.2h1.5M74.8 140.1h1.5M88.8 147.5h1.5M62.2 144.6h1.5M85 152.5h1.5M83.5 160.4h1.5M81.9 139.5h1.5M82.4 148.7h1.5M96 151.8h1.5M72.6 149.8h1.5M75.3 157.7h1.5M57 158h1.5M61.9 141.1h1.5M64.7 148.7h1.5M92 161.8h1.5M87.1 160.7h1.5M60.9 146h1.5M79.7 165.6h1.5M72.9 148.7h1.5M74.4 157.2h1.5M85 138h1.5M69.3 162.5h1.5M90.9 143.3h1.5M72.9 150.6h1.5M82.4 158.8h1.5M79.3 150.9h1.5M63.9 144.1h1.5M61 150.3h1.5M74.2 147.3h1.5M85.4 139.2h1.5M85.5 143.1h1.5M83.5 142.3h1.5M62.3 151.1h1.5M91.1 146.2h1.5M91.4 156.5h1.5M94.7 149.3h1.5M80.1 140.3h1.5M93.5 155.4h1.5M54.8 162.6h1.5M61.4 147.7h1.5M58.7 153.7h1.5M64.2 160.7h1.5M63.5 148.8h1.5M61.7 162.7h1.5M78.5 165h1.5M53.9 153.1h1.5M82 161h1.5M61.6 146.4h1.5M83.8 144.7h1.5M52.5 153.3h1.5M75.6 150.9h1.5M95.1 165.3h1.5M76.7 147.3h1.5M84.6 158.9h1.5M85.4 151.9h1.5M78.7 143.7h1.5M62.3 166.3h1.5M76.1 160.3h1.5M54.3 145.1h1.5M87 156.9h1.5M93.4 139.9h1.5M88.2 146.4h1.5M55.1 145.9h1.5M72.9 164.7h1.5M72.4 141.7h1.5M58.1 163.7h1.5M83.6 158.3h1.5M87.1 141.9h1.5M67.9 153.3h1.5M94.6 151.9h1.5M84.2 153.4h1.5M62.9 160.8h1.5M85.6 155.9h1.5M90.5 161.6h1.5M60.3 146.1h1.5M77.1 162.1h1.5M84 152.4h1.5M79.8 165.8h1.5M61.5 162.3h1.5M83.7 166.3h1.5M78.4 147.1h1.5M87.7 146.7h1.5M86.9 163.8h1.5M67.6 160.4h1.5M83.2 149.6h1.5M90.1 161.5h1.5M92.5 147.4h1.5M61.7 153.1h1.5M55.3 158.4h1.5M84.1 151.3h1.5M63.6 152.2h1.5M80.7 144.4h1.5M90.7 148.7h1.5M68 141.4h1.5M63.7 142.4h1.5M71.5 159.9h1.5M82.7 152.8h1.5M60.3 161.7h1.5M71.7 159.2h1.5M61 143.6h1.5M82.5 148.3h1.5M86.3 146.7h1.5M73.5 146.6h1.5M71 157.2h1.5M74.9 148.4h1.5M69.8 147.4h1.5M64.3 155.1h1.5M68.5 146.5h1.5M74.3 147.9h1.5M59.7 161.7h1.5M86 161.2h1.5M75 147.4h1.5M67.5 155.9h1.5M53.6 143.1h1.5M84.8 149.4h1.5M60.5 154.5h1.5M62.2 143.4h1.5M58.8 149.8h1.5M59.5 154.9h1.5M89.9 153.3h1.5M66.4 147h1.5M65.3 162.2h1.5M90.6 140.9h1.5M82.1 161.5h1.5M59 142h1.5M71.9 145.8h1.5M89.2 145.5h1.5M65.3 166.1h1.5M80.2 145.8h1.5M58.7 152.8h1.5M80.9 163.2h1.5M86.3 166.2h1.5M89.6 138.6h1.5M80.3 151.2h1.5M71.6 150.5h1.5M61.6 157.1h1.5M74.3 149.6h1.5M88.1 149.4h1.5M66.1 140.4h1.5M69.5 144h1.5M76.7 157.9h1.5M85.6 142.2h1.5M88.7 144.5h1.5M62.8 145.4h1.5M64.8 142.7h1.5M87.9 135.3h1.5M80.9 165.7h1.5M82.2 151.5h1.5M88.9 147h1.5M91 160.6h1.5M84.3 142h1.5M85.7 148.4h1.5M69.1 163.4h1.5M86.6 161.3h1.5M61.4 155.8h1.5M83.1 145.4h1.5M89.9 146.5h1.5M79.8 143.7h1.5M76.1 147.8h1.5M73.6 138.5h1.5M71.9 139.8h1.5M53.8 158.9h1.5M87.2 148.3h1.5M77.3 142.4h1.5M73.1 165.5h1.5M78.6 145.7h1.5M85.1 152.1h1.5M69.6 140.3h1.5M90.9 161h1.5M89.1 156.6h1.5M69.2 155h1.5M61.6 158.9h1.5M87.4 138.7h1.5M95.7 149h1.5M62.9 157.7h1.5M82.4 162.4h1.5M90.5 158.6h1.5M86.5 159.2h1.5M59 152.7h1.5M56.1 137.1h1.5M91.6 162.3h1.5M61.5 136h1.5M64.8 140.4h1.5M75.8 159.7h1.5M73.2 157.3h1.5M89.9 158.3h1.5M64.1 152.3h1.5M95.2 143.5h1.5M67 139.1h1.5M88.8 160.2h1.5M57.7 164.4h1.5M75.3 146.6h1.5M62.9 163.4h1.5M66.2 152.3h1.5M65.2 150.9h1.5M87.1 151.7h1.5M72.2 140.7h1.5M58.2 149.1h1.5M96.2 140.1h1.5M89.6 157.5h1.5M91.1 153.8h1.5M62.5 164.1h1.5M70.9 161.7h1.5M61.4 145.3h1.5M61.8 144.9h1.5M57.4 164.1h1.5M78.2 157h1.5M60.1 139.8h1.5M65.4 142h1.5M92.4 165.8h1.5M77.9 157.2h1.5M65 142.7h1.5M83.1 153.9h1.5M66.9 155.6h1.5M75.3 155.7h1.5M66.8 164.5h1.5M75.9 164.1h1.5M85.6 142.5h1.5M73.7 142.2h1.5M70.6 156h1.5M87.4 164h1.5M87.6 157.1h1.5M64.7 163.5h1.5M59.6 156.5h1.5M61.2 142.9h1.5M94.2 160.6h1.5M86.9 141.9h1.5M66.3 157.1h1.5M90.5 148.8h1.5M64.8 154.8h1.5M79.3 164.1h1.5M77.4 153.4h1.5M91.5 141.3h1.5M57.6 153.9h1.5M68.6 156.8h1.5M78.7 142.3h1.5M56.4 145.3h1.5M65.1 139.1h1.5M73.8 152.5h1.5M95.4 153.2h1.5M86.8 153h1.5M93.8 148.5h1.5M85.5 157.8h1.5M84.4 148h1.5M89.1 164.2h1.5M80.4 164.6h1.5M82.2 157.4h1.5M66.9 152h1.5M64.8 165.5h1.5M82.7 146.7h1.5M59 161.2h1.5M91.6 146.6h1.5M77.6 157.8h1.5M67 150h1.5M96.3 150.8h1.5M61.8 163h1.5M77.3 139h1.5M59.2 158.4h1.5M95.4 154.3h1.5M78 150.8h1.5M86.7 145.2h1.5M68.5 142.5h1.5M86.9 149.2h1.5M86.5 153.5h1.5M79.2 146.4h1.5M96.6 155.6h1.5M70 163.4h1.5M70.9 161.5h1.5M83.1 159.9h1.5M85.5 163.3h1.5M67.4 144.4h1.5M83.7 165.7h1.5M63.3 145.4h1.5M75.5 165.5h1.5M87.6 160.1h1.5M58.6 158h1.5M85.6 158.1h1.5M60 143.9h1.5M93.2 150.3h1.5M74.9 147.9h1.5M78.7 143.5h1.5M78.9 141.7h1.5M76.7 157.7h1.5M82.3 163.1h1.5M60.2 143.3h1.5M75.7 142.3h1.5M76.4 145.6h1.5M88.9 141.5h1.5M59.2 140.9h1.5M73.5 157h1.5M79.7 151.6h1.5M74.7 154.4h1.5M61.6 145.9h1.5M74.7 154.7h1.5M67.1 151.8h1.5M64.4 153.5h1.5M88.7 151.6h1.5M63.7 164.6h1.5M69.9 148.8h1.5M88.6 155.8h1.5M80.2 148.9h1.5M75.9 157.3h1.5M89.5 150.6h1.5M73 158.4h1.5M80.5 160.9h1.5M88.2 154.9h1.5M80.5 143.4h1.5M79.6 142.4h1.5M76 165.8h1.5M79.8 142.1h1.5M72.7 151.5h1.5M85 164.5h1.5M68.5 139.8h1.5M70.8 143.3h1.5M86.8 149.2h1.5M74 142.3h1.5M68.3 150.4h1.5M85.3 155.6h1.5M66.5 148.6h1.5M89 141.2h1.5M84.1 157.6h1.5M78.1 157.6h1.5M87.7 156.1h1.5M56.4 140.7h1.5M73.8 158.4h1.5M87.2 155.6h1.5M81.2 152h1.5M82.8 161h1.5M83.3 147h1.5M87.7 151.5h1.5M73.2 142.7h1.5M72.1 159.4h1.5M62.3 159.9h1.5M68.9 163h1.5M67.3 149.3h1.5M74.1 165h1.5M95.2 158.8h1.5M67.5 154.1h1.5M70 153.7h1.5M72.9 160h1.5M76.8 144h1.5M94.1 158.5h1.5M91.4 161.2h1.5M69.3 154h1.5M62.5 164.6h1.5M90.9 151.1h1.5M78.2 153.8h1.5M75.7 147.5h1.5M55.2 165.3h1.5M96 146.9h1.5M68.4 157.4h1.5M76.2 152.3h1.5M66.9 161.9h1.5M76.3 162.3h1.5M89 143.7h1.5M90.1 163.5h1.5M72.7 154.6h1.5M85.8 144.8h1.5M70.6 154.1h1.5M72.1 142.7h1.5M78.5 158.1h1.5M65.1 147h1.5M69.8 154h1.5M78.8 151.1h1.5M85.4 155h1.5M55.8 156.7h1.5M83.6 162.6h1.5M89.1 144.9h1.5M76.9 155.5h1.5M57.8 138.4h1.5M80.7 146.9h1.5M64.2 165h1.5M80.6 139.6h1.5M70 160.4h1.5M81.2 161.6h1.5M67.6 146.9h1.5M70.5 156.7h1.5M72.2 149.3h1.5M78.7 163.4h1.5M62.4 142.4h1.5M97 141.4h1.5M66.4 157.5h1.5M70.1 149.1h1.5M63.2 140.4h1.5M55.1 154.5h1.5M78.9 145.2h1.5M88.5 154.9h1.5M80.9 158.6h1.5M63 160.6h1.5M66.2 136.8h1.5M69.5 156.2h1.5M84.5 165.9h1.5M77.2 152.3h1.5M93 161.7h1.5M76.5 146.2h1.5M85.9 165.2h1.5M88.5 151.6h1.5M85 161.1h1.5M67.9 162.9h1.5M64 162.3h1.5M68.3 141.1h1.5M75.3 156.8h1.5M59.7 149.8h1.5M70.2 144.3h1.5M78.9 151.4h1.5M66.5 156.2h1.5M59.6 155.3h1.5M65.4 161.9h1.5M70.7 143.9h1.5M93.7 146.6h1.5M58.9 153.3h1.5M60.5 164.2h1.5M61.5 152.4h1.5M74.8 152.8h1.5M54.1 155.8h1.5M71.5 160.7h1.5M67.3 149.2h1.5M69.5 141h1.5M86.7 152.7h1.5M60.5 160.4h1.5M80.3 154.8h1.5M69.2 142.4h1.5M71.6 154h1.5M87.8 149.2h1.5M62.6 154.7h1.5M90.4 154.3h1.5M92.7 166.4h1.5M85.3 144.6h1.5M56.9 149.6h1.5M82.3 154.8h1.5M78.1 165h1.5M86.6 155.4h1.5M67.7 154.7h1.5M73.2 155.8h1.5M87.2 161.3h1.5M70.1 164.8h1.5M80.2 159.6h1.5M75.4 154.7h1.5M63.6 148.7h1.5M82.2 150.5h1.5M76.8 155.8h1.5M60.2 159h1.5M72.7 163.1h1.5M87.7 161.8h1.5M78.8 157h1.5M77.1 160.8h1.5M65.4 159.5h1.5M69.4 161h1.5M74 157.5h1.5M62.6 163.7h1.5M53 156.9h1.5M85.5 146.5h1.5M63.1 163.4h1.5M53.5 164.4h1.5M52.4 164.9h1.5M85.6 164.6h1.5M67.8 161.8h1.5M61 164h1.5M58.8 158.6h1.5M80 154.4h1.5M66.4 160.8h1.5M56.6 165.8h1.5M73.4 152.4h1.5M69.5 156.1h1.5M63.4 160.4h1.5M62.9 164.8h1.5M63 164.9h1.5M69.6 164.3h1.5M64.6 157.5h1.5M58.5 162.9h1.5M79.4 165.6h1.5M82.9 161.2h1.5M67.9 161.9h1.5M69.7 165.6h1.5M79.4 155.8h1.5M63.1 165.3h1.5M73.1 158.8h1.5M81.9 158.1h1.5M67.2 157.7h1.5M50.4 164.3h1.5M57.9 157.2h1.5M62.6 163.6h1.5M69.3 160.1h1.5M53.2 159.6h1.5M55.2 161.5h1.5M73.7 159.9h1.5M90.4 162.6h1.5M76 160.7h1.5M68.1 164.8h1.5M81 153.5h1.5M80.5 162.6h1.5M79.6 162.3h1.5M57.6 154.1h1.5M88.2 161.3h1.5M55.8 161.7h1.5M66.4 150.8h1.5M50.6 152h1.5M72.7 159.8h1.5M67.5 161.4h1.5M76 149.5h1.5M67 155.9h1.5M57.7 157.3h1.5M68.8 158.7h1.5M55.5 157.6h1.5M90.2 154.7h1.5M53.1 161.4h1.5M76 162.3h1.5M58.8 165h1.5M62.1 154.3h1.5M63.9 159.5h1.5M77.1 163.1h1.5M69.8 164.7h1.5M70.8 164.5h1.5M56 152.1h1.5M77.8 153h1.5M67 159.5h1.5M65.1 157.7h1.5M83.9 147.4h1.5M78.8 164.2h1.5M70.2 159.9h1.5M77.3 164.5h1.5M58.1 160.4h1.5M68.1 162.8h1.5M71.6 163.3h1.5M65.8 160.2h1.5M63.3 156.7h1.5M68.6 159.3h1.5M58.3 165h1.5M68.6 153.1h1.5M81 156.3h1.5M75.1 159.9h1.5M72.5 160.9h1.5M64.2 160.2h1.5M90.3 148.8h1.5M70.7 162.2h1.5M59.5 153.1h1.5M91.6 158.1h1.5M90.8 162.7h1.5M70.8 162.4h1.5M76.4 165.9h1.5M74.4 160.7h1.5M71.8 166.5h1.5M78.2 155h1.5M63.6 161.7h1.5M63.8 158.1h1.5M60.4 158.7h1.5M74.2 165h1.5M70.1 164.8h1.5M69.2 166.4h1.5M80 162.5h1.5M65 145.9h1.5M68.4 160.9h1.5M89.2 153.1h1.5M192.4 87.1h1.5M184.5 83.6h1.5M185.7 87.2h1.5M189 83.9h1.5M189.5 81.1h1.5M184.5 86.3h1.5M185 78.4h1.5M188.8 80.6h1.5M190.7 88.3h1.5M190.7 84.6h1.5M189.9 87.6h1.5M183.3 85.4h1.5M186.5 78.2h1.5M189.8 82h1.5M191.8 88.7h1.5M181.7 83.4h1.5M196.6 87.6h1.5M194.9 84.2h1.5M184.8 78.7h1.5M192.3 88h1.5M187.2 82.5h1.5M190.7 75.9h1.5M188.6 91h1.5M197.4 83.2h1.5M196.2 81.4h1.5M187 73.7h1.5M193.1 82.1h1.5M198 85.2h1.5M190.5 75.6h1.5M195 82.1h1.5M189.2 73.8h1.5M193 88.2h1.5M187.7 84.2h1.5M191.2 88.1h1.5M190.2 91.5h1.5M189 81h1.5M188.2 72.3h1.5M187 88.3h1.5M190.7 80.1h1.5M191 74.7h1.5M188.8 86.1h1.5M192.3 80.3h1.5M193 92.2h1.5M188.3 87.1h1.5M184.4 74.9h1.5M192 84h1.5M190.5 81.1h1.5M188.8 87.4h1.5M195.8 82.8h1.5M184 89.5h1.5M191.9 86.8h1.5M190.5 94.2h1.5M190.1 86.1h1.5M183.3 81.2h1.5M187.4 83.6h1.5M191 80.4h1.5M195.9 79h1.5M188.2 84.8h1.5M185.4 86.3h1.5M192 82.5h1.5M196.5 84.1h1.5M190.8 79.4h1.5M184 80.9h1.5M188.7 81.7h1.5M192.5 73h1.5M185.8 75.5h1.5M194.5 81.2h1.5M188 78.8h1.5M193 81.9h1.5M190.6 74.6h1.5M193.9 85.6h1.5M191.8 89.3h1.5M189.1 83h1.5M192.3 85.7h1.5M189 84h1.5M191.6 156.7h1.5M193.1 160.2h1.5M190.4 159.5h1.5M190.9 156.3h1.5M188.4 158.1h1.5M186.7 151.7h1.5M194.6 156.8h1.5M189.9 157.3h1.5M190.1 158.1h1.5M190.2 154h1.5M193.3 154.5h1.5M193.6 148.4h1.5M186.3 163h1.5M189.5 154.6h1.5M191.3 152.8h1.5M190.3 146.9h1.5M188.4 154.8h1.5M191.9 162.4h1.5M187 166h1.5M187.9 147.7h1.5M181.7 165.7h1.5M189.7 154.8h1.5M187.4 152.5h1.5M194.7 157.6h1.5M196.3 157h1.5M181.8 162.2h1.5M188.7 156.8h1.5M195.5 156.7h1.5M194.1 158h1.5M187.4 160.5h1.5M187.9 164.1h1.5M193.4 158.3h1.5M192.1 160.8h1.5M189 162.5h1.5M189.2 161.1h1.5M186.7 158.5h1.5M191.5 154.1h1.5M188.5 155.3h1.5M192.6 154.4h1.5M191.5 165.6h1.5M191.3 150h1.5M190.5 163.2h1.5M189 163.6h1.5M192.2 160.1h1.5M189.1 155.5h1.5M189.1 158.4h1.5M191.9 160.1h1.5M189 158.4h1.5M191.4 149.9h1.5M187.4 154.1h1.5M189.3 156.7h1.5M189.1 153.7h1.5M192.4 159.5h1.5M184.3 158.1h1.5M186.1 165.9h1.5M188.5 156.1h1.5M190.3 157.1h1.5M189.9 165.8h1.5M190.8 162.3h1.5M194 153.2h1.5M196 161.5h1.5M193.4 153.8h1.5M192.9 160.2h1.5M188.2 165.9h1.5M192 156.9h1.5M190.7 162.6h1.5M194 161h1.5M194.3 165.4h1.5M185.7 155.7h1.5M186.8 158.6h1.5M195.1 161.4h1.5M186.4 156.6h1.5M193.7 155.4h1.5M189.7 159.6h1.5M183.7 162h1.5M191.3 160.9h1.5M186.6 154.3h1.5M188 159.4h1.5M190.3 158.7h1.5M196.3 164.6h1.5M187.6 154.8h1.5M196.1 156.5h1.5M194.9 166.1h1.5M188.2 156.8h1.5M190.4 153.8h1.5M186.6 156.1h1.5M193.1 155.9h1.5M189.3 155.8h1.5M185.3 165.5h1.5M181.9 154.8h1.5" stroke="#000" stroke-width="1.5" fill="none"/>
<path d="M49.1 40.5H231.3V167.5" stroke="#000" stroke-width="1" fill="none"/>
<path d="M49.1 40V167.5H231.8" stroke="#000" stroke-width="1.5" fill="none"/>
<path d="M49.1 167.5v4.5M49.1 167.5h-4.5M62.7 167.5v2.5M49.1 157.9h-2.5M70.6 167.5v2.5M49.1 152.3h-2.5M76.3 167.5v2.5M49.1 148.3h-2.5M80.7 167.5v2.5M49.1 145.2h-2.5M84.2 167.5v2.5M49.1 142.7h-2.5M87.3 167.5v2.5M49.1 140.6h-2.5M89.9 167.5v2.5M49.1 138.7h-2.5M92.2 167.5v2.5M49.1 137.1h-2.5M94.2 167.5v4.5M49.1 135.6h-4.5M107.8 167.5v2.5M49.1 126h-2.5M115.8 167.5v2.5M49.1 120.4h-2.5M121.4 167.5v2.5M49.1 116.4h-2.5M125.8 167.5v2.5M49.1 113.3h-2.5M129.4 167.5v2.5M49.1 110.8h-2.5M132.4 167.5v2.5M49.1 108.7h-2.5M135 167.5v2.5M49.1 106.8h-2.5M137.3 167.5v2.5M49.1 105.2h-2.5M139.4 167.5v4.5M49.1 103.8h-4.5M153 167.5v2.5M49.1 94.2h-2.5M160.9 167.5v2.5M49.1 88.5h-2.5M166.6 167.5v2.5M49.1 84.6h-2.5M171 167.5v2.5M49.1 81.5h-2.5M174.5 167.5v2.5M49.1 78.9h-2.5M177.6 167.5v2.5M49.1 76.8h-2.5M180.2 167.5v2.5M49.1 75h-2.5M182.5 167.5v2.5M49.1 73.3h-2.5M184.5 167.5v4.5M49.1 71.9h-4.5M198.1 167.5v2.5M49.1 62.3h-2.5M206.1 167.5v2.5M49.1 56.7h-2.5M211.7 167.5v2.5M49.1 52.7h-2.5M216.1 167.5v2.5M49.1 49.6h-2.5M219.7 167.5v2.5M49.1 47.1h-2.5M222.7 167.5v2.5M49.1 44.9h-2.5M225.3 167.5v2.5M49.1 43.1h-2.5M227.6 167.5v2.5M49.1 41.5h-2.5M229.7 167.5v4.5M49.1 40.5h-4.5" stroke="#000" stroke-width="1" fill="none"/>
<text x="45.9" y="183" font-size="10" text-anchor="middle" textLength="9.6" lengthAdjust="spacingAndGlyphs">10</text>
<text x="54.2" y="178.5" font-size="10" text-anchor="middle" textLength="5" lengthAdjust="spacingAndGlyphs">0</text>
<text x="39.8" y="170.6" font-size="10" text-anchor="middle" transform="rotate(-90 39.8 170.6)" textLength="8" lengthAdjust="spacingAndGlyphs">10</text>
<text x="34.8" y="162.1" font-size="10" text-anchor="middle" transform="rotate(-90 34.8 162.1)" textLength="5" lengthAdjust="spacingAndGlyphs">0</text>
<text x="91" y="183" font-size="10" text-anchor="middle" textLength="9.6" lengthAdjust="spacingAndGlyphs">10</text>
<text x="99.3" y="178.5" font-size="10" text-anchor="middle" textLength="5" lengthAdjust="spacingAndGlyphs">1</text>
<text x="39.8" y="138.7" font-size="10" text-anchor="middle" transform="rotate(-90 39.8 138.7)" textLength="8" lengthAdjust="spacingAndGlyphs">10</text>
<text x="34.8" y="130.2" font-size="10" text-anchor="middle" transform="rotate(-90 34.8 130.2)" textLength="5" lengthAdjust="spacingAndGlyphs">1</text>
<text x="136.2" y="183" font-size="10" text-anchor="middle" textLength="9.6" lengthAdjust="spacingAndGlyphs">10</text>
<text x="144.5" y="178.5" font-size="10" text-anchor="middle" textLength="5" lengthAdjust="spacingAndGlyphs">2</text>
<text x="39.8" y="106.8" font-size="10" text-anchor="middle" transform="rotate(-90 39.8 106.8)" textLength="8" lengthAdjust="spacingAndGlyphs">10</text>
<text x="34.8" y="98.3" font-size="10" text-anchor="middle" transform="rotate(-90 34.8 98.3)" textLength="5" lengthAdjust="spacingAndGlyphs">2</text>
<text x="181.3" y="183" font-size="10" text-anchor="middle" textLength="9.6" lengthAdjust="spacingAndGlyphs">10</text>
<text x="189.6" y="178.5" font-size="10" text-anchor="middle" textLength="5" lengthAdjust="spacingAndGlyphs">3</text>
<text x="39.8" y="75" font-size="10" text-anchor="middle" transform="rotate(-90 39.8 75)" textLength="8" lengthAdjust="spacingAndGlyphs">10</text>
<text x="34.8" y="66.5" font-size="10" text-anchor="middle" transform="rotate(-90 34.8 66.5)" textLength="5" lengthAdjust="spacingAndGlyphs">3</text>
<text x="226.5" y="183" font-size="10" text-anchor="middle" textLength="9.6" lengthAdjust="spacingAndGlyphs">10</text>
<text x="234.8" y="178.5" font-size="10" text-anchor="middle" textLength="5" lengthAdjust="spacingAndGlyphs">4</text>
<text x="39.8" y="43.1" font-size="10" text-anchor="middle" transform="rotate(-90 39.8 43.1)" textLength="8" lengthAdjust="spacingAndGlyphs">10</text>
<text x="34.8" y="34.6" font-size="10" text-anchor="middle" transform="rotate(-90 34.8 34.6)" textLength="5" lengthAdjust="spacingAndGlyphs">4</text>
<text x="138.8" y="192.5" font-size="10.6" text-anchor="middle" textLength="51" lengthAdjust="spacingAndGlyphs">CD 123 PE</text>
<text x="26" y="104.8" font-size="11.2" text-anchor="middle" transform="rotate(-90 26 104.8)" textLength="68" lengthAdjust="spacingAndGlyphs">HLADR PERCP</text>
<rect x="168.7" y="65" width="40.8" height="41" stroke="#000" stroke-width="1.3" fill="none"/>
<text x="149" y="57" font-size="12.4" font-family='"Liberation Serif", serif' font-weight="bold">0.25%</text>
<path d="M320 166V137L328 136L334 132L340 129L350 128L356 130L359 136L361 166Z" fill="#000"/>
<path d="M369.5 159.6h1.2M377.8 146.5h1.2M364.4 155.4h1.2M360.4 148.3h1.2M366.5 143h1.2M366.8 161.8h1.2M358.9 130.4h1.2M364.9 141.5h1.2M365.3 146.8h1.2M366 160.9h1.2M368.5 147.6h1.2M358.6 128.6h1.2M353.7 143.7h1.2M364.9 144.7h1.2M361.4 136.4h1.2M356.2 135.2h1.2M367.4 132.9h1.2M367.7 142.5h1.2M366.9 152.6h1.2M368 161h1.2M360.3 141.7h1.2M362 143.4h1.2M367.4 149.2h1.2M364.1 153.9h1.2M361.7 160h1.2M354.9 152.2h1.2M366.5 143.2h1.2M360.6 158.2h1.2M362.5 132.9h1.2M357.3 159.1h1.2M359.6 161.8h1.2M370.8 148.2h1.2M366.7 142.6h1.2M362 143.8h1.2M366.9 138.5h1.2M363.3 150.4h1.2M366.6 131h1.2M355.1 142.1h1.2M362.9 151.2h1.2M364.9 163.9h1.2M367.2 155.2h1.2M361.5 156.9h1.2M367.4 155.9h1.2M363.4 155.5h1.2M371.5 142.8h1.2M353.2 157.2h1.2M367.6 147.8h1.2M361.7 164.5h1.2M361.6 139h1.2M361.6 154.4h1.2M360.9 146.4h1.2M365.4 146h1.2M364.6 149.5h1.2M358.6 150.5h1.2M358.2 158.2h1.2M359.3 147.7h1.2M354.9 145.9h1.2M357.7 163.2h1.2M363.3 154.5h1.2M355.2 138.8h1.2M363.1 137.7h1.2M369.6 146.2h1.2M364.6 152.5h1.2M363.1 156.7h1.2M360.6 153.1h1.2M369.8 151.7h1.2M364.5 146.8h1.2M364.2 155.8h1.2M362.7 134.8h1.2M364.7 148.5h1.2M366.2 150.1h1.2M371.6 139.1h1.2M359.1 155.6h1.2M358.8 152.7h1.2M363.8 132.3h1.2M367.2 161.9h1.2M364.9 137.3h1.2M367.7 140.5h1.2M363.3 153.4h1.2M360 134.8h1.2M363.2 149.4h1.2M359.7 142.8h1.2M367.5 148.9h1.2M361.5 144.5h1.2M364.7 150.6h1.2M363 137.5h1.2M362 144.2h1.2M364.2 159.9h1.2M368.5 155.4h1.2M364.4 146.9h1.2M365.5 145.5h1.2M362.2 142.3h1.2M363.6 149h1.2M372.8 154.5h1.2M362 156.5h1.2M361.5 158.5h1.2M367.6 164.5h1.2M358.6 149h1.2M363.3 152.3h1.2M367.3 141.2h1.2M360.3 152.3h1.2M368.5 139.9h1.2M356.3 159.7h1.2M367.9 159.2h1.2M359.1 147.9h1.2M364.9 153.5h1.2M363.3 149.3h1.2M368.7 145.9h1.2M361.2 145.9h1.2M361.4 150.8h1.2M362.8 145.9h1.2M370.7 152.3h1.2M362.2 160.7h1.2M361.2 149.7h1.2M363.4 144.7h1.2M362 150.4h1.2M356.9 146.3h1.2M365 152.1h1.2M365.3 164.8h1.2M367 148.5h1.2M363.2 149.7h1.2M365.9 147.1h1.2M371 140.2h1.2M366.8 154h1.2M358.4 155.1h1.2M366.5 144.2h1.2M374.9 155.8h1.2M362.3 145.6h1.2M360.3 151.9h1.2M364.1 137.6h1.2M358.9 143.5h1.2M361.9 146.6h1.2M360.6 155.2h1.2M368.3 150.3h1.2M353.4 148.3h1.2M366.5 149h1.2M365.1 150.5h1.2M356.7 128h1.2M366.8 145.2h1.2M365.8 147.1h1.2M363 161.4h1.2M358.1 149.6h1.2M358.6 150.3h1.2M366.1 155.2h1.2M364.5 137.9h1.2M365 157.3h1.2M368.5 163.7h1.2M366.5 140.9h1.2M361.3 150.4h1.2M368.8 139.9h1.2M368.1 155.2h1.2M359.7 154.8h1.2M360.2 149.6h1.2M362.4 151.7h1.2M358.2 154.1h1.2M353.5 146.2h1.2M361.1 163.1h1.2M366.4 145.5h1.2M359.6 149.9h1.2M360.8 165.1h1.2M350.6 150.2h1.2M352.1 158.5h1.2M360 163.4h1.2M361.2 158.9h1.2M364.8 159.8h1.2M363.9 124.3h1.2M360.4 136.3h1.2M368.3 154.3h1.2M363.8 153.5h1.2M364.7 144.8h1.2M373.1 151.7h1.2M362.9 137.1h1.2M360.9 149.8h1.2M363 145.6h1.2M363.6 140.1h1.2M363.9 136.4h1.2M359.7 143.4h1.2M367.9 153.8h1.2M364.2 139.8h1.2M361.9 156.5h1.2M369.8 137.1h1.2M361.8 150.6h1.2M365.5 149.7h1.2M367 137.3h1.2M371.2 139.9h1.2M364.1 154.2h1.2M369.4 157.4h1.2M368 160.6h1.2M363.1 156.1h1.2M371.2 143.2h1.2M357.2 141.1h1.2M370.6 160.4h1.2M362.2 151.8h1.2M366.1 158.8h1.2M354.9 145h1.2M362.6 152.5h1.2M364.2 147.1h1.2M365.3 127.7h1.2M378.5 156.9h1.2M368.1 144.2h1.2M365.9 163.8h1.2M372.6 150.5h1.2M358 151.2h1.2M362.5 157.2h1.2M357.8 148.2h1.2M365.2 145.8h1.2M368.9 140.1h1.2M358 146.8h1.2M367.9 147.2h1.2M361.1 156.8h1.2M365 145.3h1.2M364.5 147.8h1.2M366.8 151.1h1.2M360.1 145.7h1.2M361.9 153h1.2M365.7 142.7h1.2M363 152.5h1.2M369.2 152h1.2M373.2 150.1h1.2M367.4 147h1.2M359.2 150.8h1.2M366.2 152.6h1.2M364.6 147h1.2M360 147.2h1.2M366.2 158.1h1.2M348.2 155.1h1.2M369.1 160.7h1.2M365.7 155.6h1.2M361.8 149.1h1.2M366.4 140.4h1.2M360.1 151.5h1.2M357.5 150.3h1.2M356.8 151.5h1.2M364 145h1.2M359.4 145.5h1.2M353.2 146.4h1.2M364.5 160.2h1.2M361.5 148.3h1.2M370.6 164.8h1.2M361.6 158.9h1.2M369.5 154.3h1.2M359.2 141.7h1.2M366.7 164.9h1.2M363 163.4h1.2M373 139.1h1.2M361 162.9h1.2M368.6 154.6h1.2M363.9 155.3h1.2M360.9 165.2h1.2M358.4 134.3h1.2M364.6 162.3h1.2M361.5 149.4h1.2M359 149.2h1.2M359 141.2h1.2M356.8 145.1h1.2M372.8 149.3h1.2M364.8 165.3h1.2M360.9 141.2h1.2M366.4 139.2h1.2M365.5 159.8h1.2M325.5 127.9h1.2M349.5 125.9h1.2M328.9 130.8h1.2M332.1 126.6h1.2M348.7 127.7h1.2M337.7 128.3h1.2M332.8 124.6h1.2M342.8 128.3h1.2M345.9 125.4h1.2M330.6 131.8h1.2M335.8 127.4h1.2M333.6 124.9h1.2M335.3 119.7h1.2M336.3 135.1h1.2M342.6 133.2h1.2M331.2 131.8h1.2M331.3 129.6h1.2M334 117h1.2M342.8 131.7h1.2M342.1 126.3h1.2M340.8 131.8h1.2M321.2 123.1h1.2M335.3 127.4h1.2M334.7 127.5h1.2M347.8 122.6h1.2M323 126.2h1.2M323 127.7h1.2M334.6 124.8h1.2M338 135h1.2M344.3 137.7h1.2M344.7 129.8h1.2M350.3 132.7h1.2M351.1 129.2h1.2M322.7 125.4h1.2M336.4 132.1h1.2M333.1 133.8h1.2M324.9 127.2h1.2M343.5 130.2h1.2M335.7 135.4h1.2M344.4 126.9h1.2M336.7 123.4h1.2M334.8 131.5h1.2M322.7 136h1.2M352.3 131.9h1.2M343 135.8h1.2M333.5 134h1.2M338.3 124.1h1.2M327.2 127.8h1.2M344.3 130.4h1.2M343.5 128.2h1.2M323.9 138h1.2M358.6 131.5h1.2M333.3 134.6h1.2M325.4 129.2h1.2M322.6 131.9h1.2M337.2 128.5h1.2M329.4 124.2h1.2M327.9 134.7h1.2M332 134.9h1.2M327.5 129.7h1.2M331 129h1.2M341.7 122.1h1.2M341.4 132.7h1.2M335 130.3h1.2M333.1 132.7h1.2M335.5 126.7h1.2M336.3 133.7h1.2M338.2 130.1h1.2M336.8 128.1h1.2M331 122.8h1.2M333.4 133.8h1.2M331.7 126.5h1.2M342.8 130.6h1.2M336.2 131.8h1.2M341.1 129.8h1.2M327.8 136.7h1.2M335.5 127h1.2M336.6 134.6h1.2M322.8 135h1.2M333.9 137.7h1.2M340.8 129.6h1.2M345.8 134.9h1.2M332 130.9h1.2M330.6 133.5h1.2M322.9 129.3h1.2M320.7 132.3h1.2M321.4 126h1.2M337.3 128.7h1.2M331.2 126.3h1.2M331 123.3h1.2M337.8 133.1h1.2M341.6 129.9h1.2M345.5 131.8h1.2M343.3 131.5h1.2M335.3 127.1h1.2M320.9 132.5h1.2M334.1 137.6h1.2M320.6 133.2h1.2M326.9 130h1.2M327.4 131.3h1.2M334.8 133.4h1.2M336.3 131.8h1.2M346 132h1.2M333.9 134.7h1.2M334.1 131.6h1.2M332.3 127.5h1.2M320.9 132.7h1.2M325.2 132.8h1.2M350.5 125h1.2M342.6 129.7h1.2M339 125.5h1.2M335.3 130.6h1.2M347.3 138.2h1.2M337.8 128.6h1.2M354.1 129.6h1.2M334.6 130.4h1.2M339.1 132.7h1.2M330.2 129.6h1.2M351.2 136.1h1.2M338.9 131.1h1.2M393.6 78.9h1.2M391.7 71.2h1.2M392.1 64.8h1.2M395.4 70.2h1.2M391.2 69.6h1.2M395.6 66.1h1.2M390.7 69h1.2M399.8 79.6h1.2M396.3 67.8h1.2M394.9 86.5h1.2M401.2 62h1.2M394.8 65.6h1.2M392.7 55.7h1.2M395.3 58.5h1.2M391.2 83.1h1.2M401.8 62.7h1.2M388.2 62.4h1.2M382.6 61.8h1.2M393.3 61.2h1.2M400.2 69.7h1.2M391.6 85.1h1.2M399.8 70.8h1.2M407.4 81.4h1.2M390.4 72.9h1.2M392.2 57.9h1.2M407.8 83h1.2M386.7 74.4h1.2M384.2 79.4h1.2M394.8 67.7h1.2M403.5 70.2h1.2M393.4 78h1.2M393.1 77.7h1.2M395.1 77.3h1.2M399.3 77h1.2M388.4 86.4h1.2M394.1 85.3h1.2M391.1 67.8h1.2M393.4 80.1h1.2M392.3 73.8h1.2M384.6 66h1.2M396.6 69.2h1.2M382.6 74.5h1.2M388.6 86.9h1.2M393.9 89.7h1.2M399.6 74.2h1.2M391.9 69.2h1.2M398.2 53.3h1.2M401.8 60h1.2M393.4 46.5h1.2M398.2 76.6h1.2M397 73h1.2M392.6 71.5h1.2M403.3 66.5h1.2M398.5 76.5h1.2M393.5 72.2h1.2M396.6 65.9h1.2M411.6 66.4h1.2M406.7 79.5h1.2M381.4 72.4h1.2M402.1 77.3h1.2M389 72.4h1.2M387 61.1h1.2M393.5 71.8h1.2M406 73.3h1.2M402.3 59.7h1.2M387.3 65.9h1.2M407 58.5h1.2M384.4 69.5h1.2M403.2 55.9h1.2M393.4 58.3h1.2M404.9 76.2h1.2M397 69.7h1.2M393.5 71.3h1.2M390.7 62.4h1.2M387.5 70.2h1.2M389.7 77.8h1.2M380.8 75.1h1.2M398.7 80.8h1.2M393.4 57h1.2M388.8 80h1.2M393 66.5h1.2M391.1 69.5h1.2M393.5 56.5h1.2M391 78.9h1.2M404.9 69h1.2M391.6 82h1.2M393.9 59.8h1.2M394.2 76.2h1.2M405.7 65.8h1.2M398.7 67.2h1.2M402.8 72.4h1.2M396.9 61.5h1.2M392.9 67.3h1.2M370.5 77.6h1.2M395 68.3h1.2M392.6 70.3h1.2M396.7 58.6h1.2M395.9 71.1h1.2M395.3 57.1h1.2M394.1 58.8h1.2M397.4 81.6h1.2M401 67.1h1.2M391.4 65.1h1.2M397.4 64.2h1.2M391.4 48.1h1.2M389.3 63.2h1.2M391.4 80.7h1.2M385.8 58.4h1.2M399.1 61.5h1.2M393.9 71.6h1.2M395.2 63.3h1.2M401.3 83.2h1.2M388.2 67.7h1.2M401.4 68.2h1.2M388.2 66.3h1.2M400.7 61.3h1.2M396.8 73.4h1.2M390.6 75h1.2M399.6 78.8h1.2M401.4 57h1.2M356.3 125.2h1.2M341.2 123.5h1.2M341.6 114h1.2M363.8 104.5h1.2M356.7 129h1.2M343.3 132.7h1.2M360.8 109.6h1.2M356.3 126.7h1.2M341.6 127.8h1.2M358.9 115.2h1.2M327 126.1h1.2M341.6 105.5h1.2M345.7 99.1h1.2M346.3 136.7h1.2M320.3 126.6h1.2M339.4 118.2h1.2M339.6 128.4h1.2M350.1 114.6h1.2M335 118h1.2M363.6 110.4h1.2M355.1 125.5h1.2M326.9 132.9h1.2M349.7 143.9h1.2M370.5 119.7h1.2M348.4 112.4h1.2M334.2 129.9h1.2M347.3 118.3h1.2M348.2 128.8h1.2M361.2 122.2h1.2M347.9 123.2h1.2M374.5 101.9h1.2M336.7 126.8h1.2M351.9 134.2h1.2M365.6 141.5h1.2M340.9 128.2h1.2M347.5 131.7h1.2M352.4 130.9h1.2M341.5 123.8h1.2M344.2 119.7h1.2M344.9 112.1h1.2M363.4 125.1h1.2M363.1 112.5h1.2M327.3 115.9h1.2M348.5 130h1.2M362.7 134.2h1.2M368.4 129.4h1.2M351.6 114.8h1.2M358.4 117.3h1.2M340.8 128h1.2M352.9 130.6h1.2M341.9 133.7h1.2M354.5 120.6h1.2M341.4 111.7h1.2M334.2 136h1.2M333.6 128.4h1.2M347.4 116.6h1.2M344.7 121.3h1.2M361 127.8h1.2M350.3 108.8h1.2M329.3 140.6h1.2M338.4 106.9h1.2M363.5 107.5h1.2M359 131.4h1.2M353.2 131.7h1.2M333.9 110.2h1.2M348 122.2h1.2M349.3 126.8h1.2M341.6 101.3h1.2M355.1 120h1.2M359.9 142.6h1.2M351.2 127.9h1.2M339.7 131.1h1.2M354.3 124.7h1.2M361 111.1h1.2M356.9 126.7h1.2M369 104.5h1.2M349.2 143.7h1.2M345.5 117.9h1.2M371.3 146.8h1.2M351.6 115.2h1.2M343.3 118.3h1.2M340.3 114.3h1.2M352.3 122.6h1.2M355.9 122.5h1.2M336 129.5h1.2M353.1 116.5h1.2M347 125.4h1.2M351.2 120.9h1.2M359.3 132.6h1.2M346.5 122h1.2M358.4 96.8h1.2M395.7 119.1h1.2M388.4 98.5h1.2M367.6 105.1h1.2M358.8 103.2h1.2M384.9 80.9h1.2M392.2 95.8h1.2M398.6 90h1.2M395.8 134.1h1.2M388.7 117.4h1.2M369.3 92.8h1.2M340 97.1h1.2M357.8 102.8h1.2M335.9 81.8h1.2M386.4 108.8h1.2M345.5 91.4h1.2M444.7 117.4h1.2M388.2 41h1.2M362.7 111.6h1.2M389.9 110.1h1.2M406.9 102.4h1.2M404.4 61.7h1.2M443.2 93.9h1.2M369.2 132.7h1.2M398.6 121.3h1.2M369.8 106.4h1.2M401 75.8h1.2M379.2 95h1.2M377.5 85.2h1.2M354.7 109.5h1.2M390 125.1h1.2M382.7 85.8h1.2M350.2 102.1h1.2M377 143.6h1.2M438.1 134.2h1.2M363 70.2h1.2M378.7 81h1.2M417.6 102.7h1.2M374.7 99.9h1.2M413.7 79.9h1.2M395.7 71.7h1.2M379.4 86h1.2M391.6 103.5h1.2M412.4 115h1.2M370 71.7h1.2M365.1 91h1.2M378.8 83.8h1.2M409.6 120.3h1.2M377.8 89.5h1.2M378.6 99.2h1.2M383.6 65.3h1.2M374.1 59.8h1.2M385 114.7h1.2M359.2 103.7h1.2M369.8 85.2h1.2M430.3 119.3h1.2M395.5 90.8h1.2M393.8 96h1.2M394.8 80.8h1.2M382.5 91.6h1.2M350.9 136.5h1.2M403.3 83.1h1.2M349.6 84.5h1.2M364.4 87h1.2M348.6 82.2h1.2M385.6 109h1.2M337.5 100h1.2M360.9 77.6h1.2M376.6 85.3h1.2M400.5 115.2h1.2M376.9 86.2h1.2M426.2 140.4h1.2M393.2 96.8h1.2M407.8 131.4h1.2M371.7 139.1h1.2M380.3 123.7h1.2M371.9 101.5h1.2M373.3 100.6h1.2M408.1 80.6h1.2M377 111.9h1.2M373 144.2h1.2M349.5 155.1h1.2M368.5 121.2h1.2M422.3 111.6h1.2M350.7 92.8h1.2M385.7 112.3h1.2M407.4 124.5h1.2M419 79.4h1.2M407.6 62.1h1.2M387.6 76.8h1.2M341.8 120h1.2M383.3 121.6h1.2M346.4 73.5h1.2M381.7 85.5h1.2M385.7 86.5h1.2M376 75.1h1.2M414.6 93.1h1.2M355.9 114.9h1.2M395.5 104.8h1.2M389.4 91.4h1.2M380.9 51.7h1.2M347 73.2h1.2M390.9 126.7h1.2M380.1 94.2h1.2M410.9 92.1h1.2M399.7 109.5h1.2M352.4 106.9h1.2M388.9 74.9h1.2M359.4 72.2h1.2M416.7 146.2h1.2M400.9 134.3h1.2M351.9 130.8h1.2M431.1 135.4h1.2M361.6 123.8h1.2M381.3 123.6h1.2M368.7 100.3h1.2M370.4 110.5h1.2M381.6 124.4h1.2M403.7 109.2h1.2M383.2 93.4h1.2M384.2 116.5h1.2M387.2 106.4h1.2M383.2 98.4h1.2M368.2 58.9h1.2M397.8 112.3h1.2M360.9 142h1.2M356.2 121.9h1.2M390.1 107h1.2M411.3 120.3h1.2M384.7 76.9h1.2M354.9 104.2h1.2M421.9 119.4h1.2M383.3 107.3h1.2M400.5 137.8h1.2M365.9 116h1.2M390.8 83.4h1.2M359.8 127.9h1.2M392 95.5h1.2M386.5 121.6h1.2M386.4 135.3h1.2M377.9 82.9h1.2M381.4 79.5h1.2M375.8 127h1.2M425 114h1.2M388.9 80.2h1.2M360.1 108.2h1.2M388.1 87.4h1.2M373.4 134.3h1.2M407.8 101.3h1.2M389.6 128.1h1.2M392.8 105.4h1.2M346.4 63.1h1.2M338.4 50.6h1.2M383.8 107.4h1.2M363.3 109.8h1.2M394.7 98.4h1.2M348.8 131.8h1.2M417.1 87.4h1.2M430.6 101.1h1.2M365.3 91.1h1.2M339.7 92.4h1.2M345.8 125h1.2M391.8 69.6h1.2M397.9 62.4h1.2M387.9 110.6h1.2M385.7 75.4h1.2M381.5 96.1h1.2M385.5 132.8h1.2M424.7 134.8h1.2M368.9 83.6h1.2M384.6 109.7h1.2M334.7 86.6h1.2M427.1 72.8h1.2M366.4 84.5h1.2M395.8 98.6h1.2M376.3 66.7h1.2M398.7 100.1h1.2M368.1 100.6h1.2M403 67.6h1.2M346.8 77.6h1.2M369.5 124.5h1.2M376.1 122.4h1.2M322.4 97.5h1.2M417.3 134.6h1.2M372 81.8h1.2M393.3 73.2h1.2M375.3 63.2h1.2M386 100.1h1.2M423.1 107.9h1.2M368.2 98h1.2M353 100.8h1.2M378.9 109.3h1.2M406.4 55.9h1.2M391.9 116.3h1.2M355.2 141.9h1.2M366.7 154.3h1.2M402.9 121.3h1.2M390.5 122.3h1.2M359.1 82.2h1.2M336.8 112h1.2M366.9 116.6h1.2M398.4 70.5h1.2M400.9 105.7h1.2M388.8 110.2h1.2M383.4 100.3h1.2M409.4 78.1h1.2M355.1 83.2h1.2M408.9 92.9h1.2M366.8 90.2h1.2M390.5 129.5h1.2M379.5 77.6h1.2M404.1 134.2h1.2M322.5 112.8h1.2M391.1 81.6h1.2M372.6 106.4h1.2M384.7 94.5h1.2M355.9 106.3h1.2M368 101.9h1.2M369.9 104.4h1.2M402 105.2h1.2M399.8 69.4h1.2M395.1 106.4h1.2M368.9 96.3h1.2M321.3 101.7h1.2M374.1 50h1.2M396.1 85.9h1.2M390.6 94.7h1.2M395.5 101.8h1.2M377 110.8h1.2M403.9 50h1.2M384.5 86.8h1.2M357.3 128.7h1.2M407 77.1h1.2M357 117.9h1.2M368.8 92.7h1.2M336.5 96.9h1.2M411.2 89.7h1.2M381 138.3h1.2M404.9 131.2h1.2M399 126.3h1.2M343.9 81.8h1.2M344.1 148.8h1.2M388.2 97.1h1.2M365.7 77.5h1.2M321.9 149.2h1.2M381.8 101.2h1.2M350 98.5h1.2M392.9 98h1.2M398.7 81.3h1.2M391.6 119.5h1.2M397.3 108.2h1.2M381.3 78.1h1.2M397.1 91.2h1.2M361.1 116.7h1.2M345.2 87.5h1.2M402.4 120.7h1.2M374.8 101.2h1.2M396.8 98.3h1.2M365.3 109.4h1.2M387.7 102.1h1.2M410.6 106.6h1.2M372.8 103.4h1.2M430.4 84h1.2M377.5 82.2h1.2M392.3 72.1h1.2M394.5 116.6h1.2M365.2 81.2h1.2M348.1 100.8h1.2M356.9 86.1h1.2M373.7 84.7h1.2M403.8 134.9h1.2M332.7 81.9h1.2M389.8 76.7h1.2M370.9 104.5h1.2M417.2 125.7h1.2M376.8 102.7h1.2M375.1 96h1.2M355.6 60.9h1.2M375 121.4h1.2M402.2 58.8h1.2M379.2 86h1.2M390.8 75.7h1.2M405.8 95.3h1.2M397.7 119.1h1.2M337.3 95.1h1.2M420.2 100.3h1.2M408.9 109.2h1.2M371.9 106.1h1.2M409.1 128.3h1.2M418.6 75.5h1.2M403.8 69.6h1.2M380.8 95.3h1.2M398.9 106.8h1.2M413.8 86.4h1.2M404.1 108.5h1.2M384 73.5h1.2M397.6 106.8h1.2M402.8 99.1h1.2M377.8 108.5h1.2M395 115h1.2M429.3 86.3h1.2M406.9 81.9h1.2M432 80.4h1.2M409.3 78.2h1.2M356.8 117.6h1.2M404.7 84.6h1.2M441.5 92.9h1.2M421.4 77.7h1.2M360.9 101.9h1.2M359.7 109.9h1.2M332.5 103.8h1.2M370.5 78.9h1.2M389 95.1h1.2M373.2 117.7h1.2M391 108.3h1.2M415.7 98.3h1.2M404 90.8h1.2M398.5 111.5h1.2M370.9 66.7h1.2M353.3 79.3h1.2M397.2 97h1.2M376.8 110.4h1.2M401.4 130.5h1.2M369.7 112h1.2M400.8 79.1h1.2M386.9 79.9h1.2M378.6 109.2h1.2M343.3 80.8h1.2M364.7 102h1.2M366.3 108.1h1.2M363.5 88.7h1.2M398.4 106.9h1.2M387.6 99.1h1.2M407.9 130h1.2M375.1 84.1h1.2M359.1 137.9h1.2M362.6 71h1.2M390.3 122.9h1.2M354.5 97.2h1.2M349.7 84.7h1.2M422.8 103.6h1.2M377.7 101.5h1.2M390.7 97.7h1.2M355.6 74.1h1.2M431.9 83.2h1.2M412.5 84.3h1.2M415 115.2h1.2M389.5 104h1.2M380.8 77.2h1.2M381.7 70.7h1.2M387.7 68.6h1.2M388.1 98.8h1.2M371.2 65h1.2M380.6 74.4h1.2M404 88.6h1.2M397.7 82.4h1.2M420.5 66.5h1.2M378.2 79.7h1.2M394.4 77.2h1.2M382 64.4h1.2M388.7 71.5h1.2M386.2 67.1h1.2M408 85.4h1.2M414.1 73.8h1.2M392.7 77h1.2M392.2 76.9h1.2M390 56.5h1.2M388.7 88.2h1.2M368.8 75.8h1.2M398.8 95.1h1.2M391 85.4h1.2M412.9 95.4h1.2M386.6 72.8h1.2M404.1 82.6h1.2M385.5 77.2h1.2M395.8 77.6h1.2M389 77.2h1.2M374.2 100.7h1.2M406.5 98h1.2M390.4 81.5h1.2M398.8 89.8h1.2M370.2 84.2h1.2M380.1 79.1h1.2M384.1 100.3h1.2M398.4 79.7h1.2M408.6 79.1h1.2M383.4 77.8h1.2M387.6 80.6h1.2M402 78.6h1.2M391.2 92.1h1.2M395.4 91.3h1.2M393.6 64.5h1.2M378.6 60.2h1.2M405.5 84.9h1.2M386.3 68.2h1.2M396.3 78.4h1.2M395.8 70h1.2M328.3 131.4h1.2M329.4 107.7h1.2M345.3 80.7h1.2M340.9 109h1.2M335 112h1.2M327.8 74.9h1.2M349.1 103.7h1.2M342.2 124.5h1.2M338 114.8h1.2M340.9 131.4h1.2M339.4 126.7h1.2M334 101.7h1.2M336.6 114h1.2M339.7 136.9h1.2M341.8 109h1.2M349.8 112.9h1.2M338.5 115.3h1.2M333.7 91.8h1.2M336.9 103.4h1.2M330 109.8h1.2M334.6 99.2h1.2M323.7 105.5h1.2M348.2 121.2h1.2M343.5 107.7h1.2M343.3 98h1.2M332.9 115.7h1.2M326.1 108.9h1.2M338.1 133.1h1.2M331.2 114.3h1.2M331.5 100h1.2M321 94.1h1.2M344 115.7h1.2M337.1 144.6h1.2M339.8 89.7h1.2M334.6 107.2h1.2M436.3 104.4h1.2M425.8 126.6h1.2M414.8 116.1h1.2M404.1 116.2h1.2M402.4 110.5h1.2M437.3 119.9h1.2M422.5 116.9h1.2M441.2 121.6h1.2M431.3 109.9h1.2M418.2 102.7h1.2M420.5 106.8h1.2M430.8 122.7h1.2M421 108.6h1.2M396.3 108h1.2M424.8 122.9h1.2M394.6 86.6h1.2M423.5 102.8h1.2M420.1 109.4h1.2M427.3 93h1.2M417 126.2h1.2M423.9 105.2h1.2M426.1 118.4h1.2M414.1 123.3h1.2M428.1 113.5h1.2M430.4 101.2h1.2M428.9 112.8h1.2M413.7 108h1.2M432.4 108.5h1.2M419 107.3h1.2M415 126.5h1.2M441.7 130.9h1.2M426.6 124h1.2M419 109.2h1.2M411.6 132.1h1.2M419 106.6h1.2M416.4 117.3h1.2M417.2 115.3h1.2M423.5 130.9h1.2M411 118.6h1.2M415.9 110h1.2M436.5 122.5h1.2M418.6 120.9h1.2M421.9 128.3h1.2M417.7 120.9h1.2M420.2 115.2h1.2M455.9 80.6h1.2M457.9 94.8h1.2M452.3 82.6h1.2M460 79.4h1.2M463.9 92.4h1.2M438.9 80.3h1.2M448.5 93.4h1.2M464.5 75.4h1.2M451.7 85.4h1.2M454.2 92.5h1.2M464.8 91.3h1.2M465.7 94.4h1.2M456.5 82.2h1.2M451.3 93.4h1.2M464.1 95.1h1.2M454.5 82.6h1.2M459.2 97.2h1.2M459.9 88.1h1.2M450.6 90h1.2M461.3 77.7h1.2M470.9 78h1.2M464.4 84.3h1.2M458.4 79.1h1.2M452.7 92.3h1.2M455.6 83.1h1.2M464.1 92.4h1.2M458.4 88.2h1.2M470.7 84.6h1.2M460.2 89.9h1.2M446.1 69h1.2M458.1 93.8h1.2M458.7 81.4h1.2M452 93.3h1.2M454.8 71.9h1.2M462.5 88.2h1.2M460.1 95.4h1.2M467.5 91.1h1.2M455.7 67.4h1.2M459.4 84.8h1.2M467.5 97.4h1.2M460.9 98.3h1.2M456.5 85.7h1.2M450.4 83.4h1.2M458.8 95.5h1.2M451.3 93.2h1.2M475.5 74.2h1.2M455.1 86.3h1.2M465 103.7h1.2M466.8 85.8h1.2M450.4 85.6h1.2M456.8 88.3h1.2M450.1 99.6h1.2M451.4 92.2h1.2M458.8 76.4h1.2M457.6 86.3h1.2M455.6 93.3h1.2M453.4 108.7h1.2M466 78h1.2M437.5 97.2h1.2M459.1 86.8h1.2M449.4 73.3h1.2M442.4 108.9h1.2M469.7 81.2h1.2M471.9 69.6h1.2M462.6 92.4h1.2M450.3 82h1.2M448.8 86.4h1.2M467.5 94.9h1.2M460.4 96h1.2M442.9 104.1h1.2M456.7 74.3h1.2M454 80.3h1.2M457.8 88.8h1.2M438.5 97.3h1.2M470.7 76.8h1.2M468.7 97.3h1.2M465.1 100.6h1.2M446 92.5h1.2M449 107.2h1.2M449.3 75.1h1.2M466 91.6h1.2M457.3 87.3h1.2M461.9 101.5h1.2M451.4 81h1.2M452.4 85.4h1.2M457.1 74.5h1.2M459.4 74.7h1.2M454.5 83.8h1.2M455.1 99.3h1.2M470.1 95.7h1.2M469.7 83.5h1.2M468.3 85.5h1.2M458.8 88.5h1.2M446.3 80.5h1.2M455.7 89.3h1.2M466.2 165.9h1.2M468.1 150.5h1.2M457.4 144.2h1.2M467.9 143.5h1.2M483.7 147.9h1.2M459.3 156.9h1.2M461 151.7h1.2M464.3 141.5h1.2M475.4 148.8h1.2M473.2 144.9h1.2M454.3 136.8h1.2M461.1 146.3h1.2M465.4 152.6h1.2M455.7 150.1h1.2M455.9 141.8h1.2M484.2 159.5h1.2M462.3 164.1h1.2M475.6 156h1.2M476 145.8h1.2M464.1 140.3h1.2M469.4 136.7h1.2M461.2 152.1h1.2M461.2 151.1h1.2M478.7 139.1h1.2M475.5 141.9h1.2M458 150h1.2M472.7 141.6h1.2M459.5 144h1.2M459.6 149.7h1.2M459.7 145.7h1.2M467.7 144.2h1.2M473.7 141.9h1.2M459.2 165.5h1.2M476.3 148.6h1.2M471.2 151.1h1.2M461.2 154.1h1.2M467.3 159.5h1.2M451.2 155.3h1.2M466.3 141.8h1.2M461.8 144.4h1.2M455.1 142.8h1.2M470.9 134.3h1.2M462.2 126.7h1.2M460.7 151.5h1.2M464.6 148.4h1.2M456.6 153.1h1.2M458.2 156.2h1.2M466.6 144.5h1.2M476.1 144.4h1.2M472.7 148.9h1.2M465 157h1.2M468.3 147.9h1.2M464.1 149.9h1.2M465.6 145.1h1.2M457.2 124.7h1.2M464.2 145.8h1.2M474.1 152h1.2M473.6 163.6h1.2M464.2 140.4h1.2M471.1 142.6h1.2M463.1 161h1.2M469.2 157.9h1.2M454.9 148.3h1.2M473.4 136.5h1.2M466.5 151.7h1.2M447.7 162.4h1.2M459.7 146.8h1.2M477.6 131.9h1.2M468.5 144h1.2M465.3 140.7h1.2M475.3 137.9h1.2M467.7 152.9h1.2M464.3 145.6h1.2M463 157.2h1.2M468.4 147.3h1.2M456.8 149.5h1.2M469 147.7h1.2M475.8 130.8h1.2M483.7 146.4h1.2M456.5 132.3h1.2M471.5 153.2h1.2M463.4 147.6h1.2M466.3 144.2h1.2M473.7 153.7h1.2M464.1 133.3h1.2M475.3 143.7h1.2M457.3 159.7h1.2M468.8 129.9h1.2M452.6 144.5h1.2M455.6 146.7h1.2M484.7 164.1h1.2M464.7 155.3h1.2M471.7 147h1.2M454 157.7h1.2M463.7 152.2h1.2M470.4 140.8h1.2M477.7 148.8h1.2M466.8 144.2h1.2M470.4 157.2h1.2M460.9 153.3h1.2M461.8 137h1.2M462.6 153.6h1.2M469.2 157.8h1.2M460 145.4h1.2M465.6 153.7h1.2M464.2 139.5h1.2M453.4 158.7h1.2M473.1 142.1h1.2M476.2 147.5h1.2M468.5 159.5h1.2M461.5 141.1h1.2M452 150.9h1.2M468.5 155.9h1.2M469.6 149.1h1.2M473.7 138.9h1.2M468 152.8h1.2M464.2 163.7h1.2M468.4 160.3h1.2M471.9 146.5h1.2M479.7 158.2h1.2" stroke="#000" stroke-width="1.2" fill="none"/>
<path d="M348 154.5h1.5M370.8 143.1h1.5M342.9 137.8h1.5M347 160h1.5M364.7 148.2h1.5M331.6 140.2h1.5M320.7 150h1.5M364.6 122.6h1.5M322.3 164h1.5M320.8 152.3h1.5M322.9 157.2h1.5M355.5 150.5h1.5M356.2 149.2h1.5M352 164h1.5M360.5 141.5h1.5M330.2 146.1h1.5M339.4 149.5h1.5M333.4 155.9h1.5M343.7 152.7h1.5M343.2 155.5h1.5M324 164.7h1.5M348.6 153.7h1.5M352.9 160.7h1.5M354.9 151.4h1.5M340.2 130.7h1.5M346.6 145.4h1.5M338.1 165.3h1.5M321.3 149.4h1.5M362.6 159.4h1.5M363 134.9h1.5M327.8 155.6h1.5M338.5 164.8h1.5M346.9 151h1.5M350.3 145.9h1.5M345.2 141.5h1.5M342.7 143.6h1.5M347.4 133.3h1.5M321.1 154h1.5M346.9 138.3h1.5M339.7 137.4h1.5M376 131.7h1.5M370.8 139.9h1.5M350.1 146.1h1.5M337.3 159.2h1.5M356.4 145.8h1.5M328.8 165.6h1.5M365.9 150.5h1.5M338.7 152.2h1.5M344.7 162.1h1.5M328 149.2h1.5M330.9 163.3h1.5M372.3 148h1.5M352.1 164.4h1.5M338.6 138.7h1.5M360.1 154.6h1.5M340.1 165.1h1.5M347.2 129.4h1.5M349 148.3h1.5M373.5 148.8h1.5M340.2 153.8h1.5M347.4 133.5h1.5M345.4 145.4h1.5M365.9 165.8h1.5M325.6 138.4h1.5M330 141.8h1.5M332.4 149.6h1.5M360.9 134.7h1.5M320.6 128.8h1.5M361.2 163.6h1.5M320.6 131.1h1.5M345.6 161h1.5M359.7 151.2h1.5M354.4 152.6h1.5M334.6 164h1.5M343.5 136.8h1.5M336 132.1h1.5M343.8 161.1h1.5M323.3 161.4h1.5M377 153.2h1.5M325 139.7h1.5M338.2 134.9h1.5M323.5 146.2h1.5M340.6 155.7h1.5M324.3 164.8h1.5M360.5 158.8h1.5M333.1 165h1.5M338 165.9h1.5M360.7 139.2h1.5M336.2 164.8h1.5M359.6 147.3h1.5M346.8 151.2h1.5M331.1 146.8h1.5M333 144.3h1.5M351 138.5h1.5M355.2 150.3h1.5M355.7 158.8h1.5M363.5 156h1.5M354.9 147.1h1.5M352.6 139.1h1.5M339.6 157.3h1.5M342.7 154h1.5M326.6 164.1h1.5M334.3 153.4h1.5M343.2 159.3h1.5M337.4 138h1.5M322.1 145.7h1.5M324.4 154.9h1.5M366.6 124.5h1.5M322.8 152.5h1.5M363.3 152.4h1.5M348.7 154.6h1.5M352.7 163.9h1.5M353.3 135.4h1.5M335.9 151.4h1.5M330.5 146.2h1.5M335.1 141.3h1.5M354.7 144.7h1.5M326 141.1h1.5M344.1 165.6h1.5M347.7 165.4h1.5M351.5 125.3h1.5M349.6 139.6h1.5M321.7 137.1h1.5M372.3 131.6h1.5M333.5 161.8h1.5M354.2 130.1h1.5M341.7 143.3h1.5M340.4 157.3h1.5M334.2 145.5h1.5M367 128.6h1.5M337.5 154.2h1.5M323.4 142h1.5M322.3 150.7h1.5M333.4 157.7h1.5M359.9 149.5h1.5M337.3 151.9h1.5M344.4 135.5h1.5M360.7 151.5h1.5M356.2 133.9h1.5M357.6 164.8h1.5M353.4 132.9h1.5M344 148.3h1.5M347 146.4h1.5M351.4 143.8h1.5M347.1 141.3h1.5M345 160h1.5M335.5 156.4h1.5M329.1 144.8h1.5M339.6 162.8h1.5M331 162.5h1.5M320.4 147.2h1.5M358.1 156.7h1.5M327.1 135.4h1.5M357.6 134.9h1.5M352.7 143.2h1.5M343.2 164.7h1.5M368.4 158.3h1.5M321.1 152.5h1.5M344.2 147.8h1.5M365 129.8h1.5M348.5 150.3h1.5M331.2 165.9h1.5M322.8 149.2h1.5M344.6 124.5h1.5M321 138.1h1.5M356.1 159.4h1.5M352.9 151.6h1.5M320.4 151.3h1.5M335 161.9h1.5M365.1 164.5h1.5M354.8 158h1.5M326.6 149.8h1.5M323.3 158.9h1.5M323.9 146.5h1.5M330 143.6h1.5M350.7 142.6h1.5M346.8 137.7h1.5M365.9 141.7h1.5M359.6 165.7h1.5M321.7 137.8h1.5M339.9 161.9h1.5M335.4 153.1h1.5M331.4 155.1h1.5M323.5 158.2h1.5M322 127.7h1.5M372.7 150.7h1.5M328.6 163.7h1.5M360.3 161.4h1.5M336.3 155.8h1.5M351.4 130.2h1.5M352.8 146.7h1.5M364.1 163.4h1.5M332.7 142h1.5M346.3 156.1h1.5M336.4 147.5h1.5M353.1 153.5h1.5M362.1 151.5h1.5M328.6 129h1.5M356.4 145h1.5M337.4 145.5h1.5M321.9 144.4h1.5M322.6 144.2h1.5M328.4 165h1.5M350.4 146.3h1.5M345.7 157h1.5M330.7 146.2h1.5M337.3 164.9h1.5M344.3 126.6h1.5M356.1 163.6h1.5M327.4 165.9h1.5M342 160h1.5M333.8 145.7h1.5M322.8 136.8h1.5M322 161.6h1.5M324.2 152.9h1.5M348.5 141.4h1.5M343.8 147.6h1.5M334.9 149.3h1.5M343.8 137.1h1.5M321.7 139.1h1.5M345 164.3h1.5M367.2 152.2h1.5M358.6 150.1h1.5M361.2 150.1h1.5M349.4 145.4h1.5M342.9 163.7h1.5M323.2 148.7h1.5M333.2 159.5h1.5M372.9 145.1h1.5M321 155.6h1.5M353.1 129.5h1.5M338.9 147.9h1.5M320.5 156.3h1.5M350.2 151.3h1.5M325.3 140.5h1.5M332.4 154.1h1.5M326.6 165.3h1.5M349.1 123.8h1.5M370.8 150.4h1.5M333.7 149.7h1.5M321.7 150.7h1.5M320.3 136.9h1.5M365.3 163h1.5M337.1 137.5h1.5M358.3 148h1.5M346.3 155.7h1.5M324.9 157.6h1.5M320.9 165.2h1.5M320.4 141.3h1.5M331.6 156.8h1.5M355.1 152.6h1.5M351.7 153.8h1.5M341.5 126.6h1.5M322.3 122.1h1.5M341.9 145.8h1.5M340.3 151h1.5M338.7 137h1.5M321 126.7h1.5M362.9 158.8h1.5M320.4 145.3h1.5M350 165.6h1.5M332.5 150.4h1.5M361.9 128.4h1.5M330.3 147.9h1.5M330.5 164.9h1.5M357 150.6h1.5M326.5 158.3h1.5M353.1 142.4h1.5M335.3 131.5h1.5M341.2 158.3h1.5M359.2 155h1.5M356.3 141.6h1.5M334.6 162.2h1.5M350 139.2h1.5M350.8 157.9h1.5M354.3 149.6h1.5M333.8 152.9h1.5M370.8 150h1.5M331.3 152.2h1.5M321.9 150.9h1.5M337.4 159.3h1.5M344.1 160.3h1.5M380.8 145.8h1.5M328.5 153.6h1.5M340.9 149.9h1.5M332.4 154.6h1.5M343.5 123.5h1.5M338.4 152.1h1.5M362 141.6h1.5M329 161.4h1.5M332.2 149.5h1.5M350.2 156.7h1.5M342.5 135.5h1.5M359.2 143.3h1.5M333.7 166h1.5M357 136.1h1.5M334.3 145.4h1.5M329.9 126.3h1.5M355.7 157.1h1.5M346.4 143.6h1.5M345.9 155.5h1.5M325 144.4h1.5M333 156.2h1.5M346.7 133.4h1.5M332.1 165.2h1.5M326.2 149.9h1.5M331.9 162.4h1.5M341.2 143.2h1.5M322.8 145.4h1.5M356 155.9h1.5M320.3 166h1.5M338.2 136.2h1.5M344.4 141.1h1.5M332.7 141h1.5M340.7 142.5h1.5M321.8 154.1h1.5M333.6 161.8h1.5M351.1 155.2h1.5M345.2 162.9h1.5M336.8 136.8h1.5M347.9 117.2h1.5M336.1 150.6h1.5M335.3 162.4h1.5M353.8 149.4h1.5M335.5 160.6h1.5M330.9 143.4h1.5M354.5 154.9h1.5M375.8 145.6h1.5M321.5 155.6h1.5M362.9 146.2h1.5M367.9 164h1.5M331.1 142.6h1.5M321.4 154.2h1.5M354 154.9h1.5M321.7 139.4h1.5M322.7 129.8h1.5M322 130.1h1.5M339.1 152.9h1.5M352.4 147.8h1.5M331 147.9h1.5M351.5 144.7h1.5M342.9 144.6h1.5M333.4 148.4h1.5M323.6 159.9h1.5M321.5 153.2h1.5M322.3 165.1h1.5M356.3 138.8h1.5M334.6 135.2h1.5M341.1 152.7h1.5M384.1 132.5h1.5M362.5 141.4h1.5M346.5 158h1.5M351 152.8h1.5M338.8 147.9h1.5M344.5 161.6h1.5M322.2 142.4h1.5M321.5 137.1h1.5M328.9 160.4h1.5M377.3 163.3h1.5M322.5 148.8h1.5M323.3 153h1.5M362.9 154.6h1.5M356.3 146.3h1.5M322 125.6h1.5M340.4 154.5h1.5M362.9 144.1h1.5M343.2 150.9h1.5M359.5 147.2h1.5M324 160.2h1.5M348.8 152.3h1.5M321.1 147.9h1.5M320.5 125.3h1.5M338.1 143.1h1.5M351.3 164.3h1.5M341.4 165.4h1.5M332.3 156.6h1.5M321.2 149.4h1.5M336.8 145.6h1.5M351.7 126.7h1.5M343.9 138.8h1.5M343.9 152.4h1.5M335.9 143.8h1.5M323.1 154.2h1.5M330.9 153h1.5M321.4 163.4h1.5M325.2 161.1h1.5M334.6 154.2h1.5M339.6 155.7h1.5M342.1 162.3h1.5M353 155.7h1.5M369.4 140.1h1.5M363.4 148.8h1.5M320.3 153.4h1.5M338.6 166h1.5M333.9 148.6h1.5M345.8 126.5h1.5M350.3 136.8h1.5M365.1 164.2h1.5M341.9 130.1h1.5M345 150h1.5M353.8 144.7h1.5M322.5 146.4h1.5M326.8 163.7h1.5M330.4 140.6h1.5M341.2 134h1.5M334.7 146.5h1.5M334 145.2h1.5M362.4 152.9h1.5M322.3 143.2h1.5M354.2 140.7h1.5M343.3 147.7h1.5M350.7 146h1.5M339.7 138.3h1.5M347.9 137.5h1.5M370.4 147.8h1.5M338.3 156.9h1.5M340.6 149h1.5M341.1 139.8h1.5M326.9 140.1h1.5M360.6 140.9h1.5M335.3 142.9h1.5M353.4 163.5h1.5M326.8 154.2h1.5M344 144.6h1.5M350.3 133.7h1.5M355.6 150.5h1.5M325.7 166h1.5M355.9 161.1h1.5M321.1 144.9h1.5M333.4 155.1h1.5M364.2 126.5h1.5M342.3 146.6h1.5M358.4 147.5h1.5M321.2 145.8h1.5M325 139.2h1.5M342.7 142.6h1.5M346.6 130.9h1.5M380 162.2h1.5M353.7 133.4h1.5M321.3 138.3h1.5M338.2 165.9h1.5M363.4 142.1h1.5M361.8 161.8h1.5M342.3 161.7h1.5M347.4 140.6h1.5M322.8 146.6h1.5M358.3 132.8h1.5M321.1 154.2h1.5M320.6 164h1.5M334.8 156.2h1.5M372.4 131.7h1.5M324.8 163.7h1.5M337.3 146.6h1.5M345.7 159.9h1.5M363.7 149.2h1.5M336.5 147.6h1.5M347 162.7h1.5M344.2 164.1h1.5M328 154h1.5M370.7 162.5h1.5M347.4 138.1h1.5M330.3 146.2h1.5M347.1 145.2h1.5M322.5 139.7h1.5M350.5 157.4h1.5M322 143.9h1.5M321.1 141.7h1.5M400 148.7h1.5M336.4 141.4h1.5M322.2 127.1h1.5M341.3 144.9h1.5M366.2 129.6h1.5M349.1 163.1h1.5M322.3 155.4h1.5M322.1 153.9h1.5M366.1 148h1.5M346.7 140.2h1.5M346.7 160.7h1.5M339 146.4h1.5M348.4 157.3h1.5M321.4 148.7h1.5M330.8 153.6h1.5M359 151.5h1.5M363.1 136.9h1.5M335.3 136.9h1.5M343 149.1h1.5M338.8 134.4h1.5M340.8 143.1h1.5M351.9 145h1.5M361 150.6h1.5M322.6 146.1h1.5M321.8 158.9h1.5M365.5 147.7h1.5M349.3 131.7h1.5M321.1 141.8h1.5M337.8 131h1.5M343.5 151.5h1.5M352.6 165.5h1.5M355.3 143.9h1.5M343.7 154.8h1.5M324.9 163h1.5M356.8 145.5h1.5M331.6 165.8h1.5M355.8 158.6h1.5M371.5 159.1h1.5M345.5 156h1.5M327.1 156.1h1.5M320.8 152.8h1.5M351.2 130.5h1.5M373.5 135.1h1.5M359.2 142.1h1.5M347.2 140.7h1.5M383 159.7h1.5M371.8 156.9h1.5M353.6 149.8h1.5M338.3 155h1.5M344.9 146.5h1.5M321.8 144.7h1.5M352.2 142.9h1.5M348 146.6h1.5M325.4 138h1.5M330.2 145h1.5M338.1 160.9h1.5M324.6 125.2h1.5M353.6 143.1h1.5M340.4 165.2h1.5M366.4 154.9h1.5M357.9 149.6h1.5M358.1 141.4h1.5M330.7 143h1.5M368.4 165.9h1.5M332.5 161.4h1.5M339.8 160.4h1.5M337.3 159.1h1.5M340.7 145.1h1.5M342.1 150.1h1.5M333 132.9h1.5M370.3 143.9h1.5M321.6 122.8h1.5M320.9 141.5h1.5M364.9 129.9h1.5M337.3 127.6h1.5M360.7 152.5h1.5M347.9 163.7h1.5M369.6 160.1h1.5M333.1 133.4h1.5M325.4 128.6h1.5M372.3 146.3h1.5M344.7 150.7h1.5M375.8 142.1h1.5M362.1 151.9h1.5M340.1 126.7h1.5M357.8 140h1.5M335.1 151h1.5M344.2 161.2h1.5M331.6 150.3h1.5M347.3 148.8h1.5M353.9 145.6h1.5M362.5 140.4h1.5M322.2 148h1.5M362.1 142.6h1.5M332.3 144.6h1.5M345.4 146.5h1.5M347.8 129h1.5M367.4 155.1h1.5M328.5 164h1.5M350.1 165.1h1.5M323.3 165.6h1.5M343.4 125.2h1.5M355.1 145.1h1.5M326 146h1.5M321.5 155.1h1.5M339.1 145.4h1.5M366 148.9h1.5M331.8 137.7h1.5M341.7 160.5h1.5M333.1 136.7h1.5M357.9 149.1h1.5M342.3 164.8h1.5M322.7 150.7h1.5M322.7 145.1h1.5M352.4 161.2h1.5M321.7 157.9h1.5M355.6 147.1h1.5M383.2 148.5h1.5M328.2 153.3h1.5M322.6 165.6h1.5M359 143.9h1.5M352.8 154.5h1.5M374.5 141.5h1.5M321.4 125.4h1.5M337.8 130.7h1.5M339.8 153.1h1.5M335.4 137.8h1.5M362.3 146.2h1.5M346.5 159.2h1.5M321.2 138h1.5M383.8 146.7h1.5M325.5 145.6h1.5M333.2 134.5h1.5M335.9 148.2h1.5M342.4 154.5h1.5M321.6 131.5h1.5M355.7 143.4h1.5M362.7 151.9h1.5M321.1 154.5h1.5M326 151.4h1.5M362.9 163.8h1.5M341.5 156.4h1.5M347.6 157.4h1.5M322.1 144.1h1.5M347.4 153.8h1.5M330.3 157.8h1.5M360.8 149.2h1.5M338.9 144.4h1.5M344.9 161.8h1.5M367.3 143.1h1.5M327.4 139.5h1.5M358.9 151h1.5M347.6 153.9h1.5M348.8 147.1h1.5M325.6 141.5h1.5M344.7 152.9h1.5M336.6 143.8h1.5M365.1 143.2h1.5M346.3 144.9h1.5M328.6 131.3h1.5M333.9 139.2h1.5M356.6 135.5h1.5M335.9 155.8h1.5M340.8 154h1.5M356.4 129.8h1.5M335.9 137.6h1.5M364.8 147.1h1.5M350.8 165.8h1.5M336.8 149.3h1.5M349.3 145.5h1.5M363.2 157.6h1.5M359 149h1.5M337.1 144.5h1.5M336.7 130h1.5M348.6 157.6h1.5M342.5 142.9h1.5M343.3 151h1.5M348 164.7h1.5M328.7 152.5h1.5M353.9 149.3h1.5M338.8 137h1.5M333 156.3h1.5M366.3 141.1h1.5M350.3 154.2h1.5M359 151.2h1.5M349.8 158.4h1.5M323.7 148.9h1.5M322.3 126.4h1.5M329.3 131.3h1.5M350.8 159.5h1.5M337.7 146.9h1.5M338.8 145.5h1.5M344.8 152.3h1.5M335.1 139.7h1.5M334.2 157.3h1.5M335.8 164.5h1.5M338.7 163.6h1.5M323.3 140.7h1.5M350.3 153.8h1.5M340 165.6h1.5M343.7 151.6h1.5M333.4 165.2h1.5M356.4 153h1.5M321.8 152.4h1.5M335 152.7h1.5M357.3 140.1h1.5M346 158.1h1.5M345.2 144.7h1.5M325.5 141h1.5M322.1 159.3h1.5M344.2 134.9h1.5M342.4 134.1h1.5M320.5 161.7h1.5M361.3 132.1h1.5M331 150.6h1.5M336.4 138.9h1.5M334.3 145.7h1.5M333.6 150.7h1.5M338.8 139.9h1.5M342.9 130h1.5M365.7 129.1h1.5M341.1 152.1h1.5M349.1 151.2h1.5M362.7 135.9h1.5M341.4 149.9h1.5M334.5 141.8h1.5M363.1 140.5h1.5M334.8 145.3h1.5M339 150.1h1.5M339.1 152.4h1.5M344.6 153.6h1.5M364.3 139h1.5M368.8 143.3h1.5M353.1 150h1.5M337.7 126.7h1.5M368.2 140h1.5M329.8 159.9h1.5M343.6 163.7h1.5M369.2 156h1.5M346.4 156.6h1.5M321.4 150.1h1.5M344.7 143.1h1.5M346.4 132.2h1.5M356.8 162.4h1.5M321.7 149.8h1.5M367 152.8h1.5M325.9 137.4h1.5M355.9 164.7h1.5M325.1 148.6h1.5M330 145.1h1.5M347.3 147.8h1.5M331.4 164.6h1.5M339.8 146.2h1.5M360 148.4h1.5M339.1 158.6h1.5M325.9 156.4h1.5M358.7 155.5h1.5M339.5 148.1h1.5M321.5 146.8h1.5M346.9 157.7h1.5M344.6 144h1.5M329 147.7h1.5M344.4 161.4h1.5M342.4 142.8h1.5M340.6 142.9h1.5M338.6 124.2h1.5M321.5 135.2h1.5M349.7 147.4h1.5M344.6 160.9h1.5M325.8 160.6h1.5M348.4 140.4h1.5M365.9 132.7h1.5M324.5 145.9h1.5M348.7 146.1h1.5M322.2 144.9h1.5M340.9 165h1.5M364 149.5h1.5M325 151.9h1.5M323.8 150.4h1.5M348.1 143.8h1.5M346.2 144.6h1.5M333.2 164.9h1.5M351.4 144.8h1.5M330.1 150.1h1.5M351.2 157.4h1.5M365.5 153.2h1.5M324.6 163.7h1.5M360.6 157.2h1.5M363.4 132h1.5M336.4 142.6h1.5M361 135.4h1.5M337.2 164.6h1.5M352.5 144h1.5M371.9 133.7h1.5M349.4 145.7h1.5M350.3 145.2h1.5M329 150.5h1.5M321.4 153.9h1.5M337.2 158.2h1.5M335.1 140.9h1.5M348.5 161.5h1.5M321.4 149.4h1.5M352.1 132.7h1.5M328.3 155.1h1.5M329.1 141.2h1.5M369.3 137.9h1.5M328.6 123h1.5M324.9 134.8h1.5M369.2 161.3h1.5M322.2 165.2h1.5M354.3 146.2h1.5M354.9 152.2h1.5M330.1 129h1.5M327.8 148h1.5M336.5 140.1h1.5M357.5 136.6h1.5M356.2 142.9h1.5M343.9 135.9h1.5M342 139.6h1.5M321.3 147.9h1.5M341.3 157.1h1.5M346.6 137.1h1.5M332.4 121.1h1.5M324.4 162.2h1.5M366 156.3h1.5M346.9 154.4h1.5M349.8 129.3h1.5M328.3 160.9h1.5M360.7 150.7h1.5M337.2 143.9h1.5M333.5 138h1.5M322.2 149.7h1.5M335 145.7h1.5M369.2 154.5h1.5M331 154.4h1.5M320.7 159.5h1.5M346.2 146h1.5M351.1 163.9h1.5M334.8 137.3h1.5M375.5 148.2h1.5M365.7 140.7h1.5M348.1 141.1h1.5M352.1 145h1.5M331.5 164.9h1.5M347.4 126h1.5M338.3 138.1h1.5M322.8 141.7h1.5M334.5 148.4h1.5M329.5 127.8h1.5M333.6 157.6h1.5M320.4 154.8h1.5M349.3 143.1h1.5M347 139.9h1.5M335.7 136.9h1.5M349.4 163h1.5M331.3 161.1h1.5M320.3 138.4h1.5M326 163.7h1.5M332.6 156.5h1.5M320.7 149.3h1.5M351 147.6h1.5M320.6 149.9h1.5M354.9 162.5h1.5M348.4 129.5h1.5M338.7 157.9h1.5M329 154.2h1.5M334.4 149h1.5M354.1 140.2h1.5M387.7 149.7h1.5M347.5 139.9h1.5M343 145.1h1.5M322.7 131.2h1.5M346.6 147h1.5M320.3 124.5h1.5M337.1 147.2h1.5M351.7 134.4h1.5M351.5 144.6h1.5M333.9 146.4h1.5M357.8 154.1h1.5M356.2 140.4h1.5M337.5 135.2h1.5M333.1 143.6h1.5M334.6 155.8h1.5M348.8 156.4h1.5M344.1 159.8h1.5M343.8 158.6h1.5M350 156.1h1.5M340.9 134.4h1.5M320.4 165.5h1.5M348.2 152.9h1.5M339.3 143h1.5M387.9 135.7h1.5M341 147.4h1.5M323.9 134h1.5M330.7 144.2h1.5M334.2 156.9h1.5M323.1 152.5h1.5M365.5 157.8h1.5M323.8 115.5h1.5M355.5 153.5h1.5M332.6 162.1h1.5M335.5 149.2h1.5M325.4 151.5h1.5M335.1 142.5h1.5M359.3 150.4h1.5M321.4 155.6h1.5M355.4 138.8h1.5M335.7 148.6h1.5M338 149.4h1.5M352.4 142.6h1.5M375.3 140.2h1.5M333.4 166h1.5M380.2 148.4h1.5M339 136.2h1.5M360.3 149.9h1.5M328.5 152.5h1.5M363.9 155.5h1.5M377.3 160.8h1.5M349 147.6h1.5M350.8 161.4h1.5M355.7 159.6h1.5M345.6 156.4h1.5M361.4 146.2h1.5M321.3 164.4h1.5M351.3 143.2h1.5M345.7 145.3h1.5M321.7 146h1.5M320.6 150.2h1.5M340.3 160.5h1.5M340.1 152.1h1.5M337.2 143.8h1.5M321.5 158.9h1.5M344.7 141.6h1.5M345.3 143.4h1.5M330.4 150.7h1.5M361.4 145h1.5M320.4 141.2h1.5M370.8 139.1h1.5M361 145.4h1.5M353.8 146.8h1.5M320.9 143.5h1.5M375.8 146.6h1.5M351 144.3h1.5M339.9 151.5h1.5M349.6 165.2h1.5M341.8 146h1.5M331.4 133.6h1.5M322.2 155.3h1.5M321.4 163.5h1.5M355.8 144.8h1.5M323.6 148.3h1.5M342.4 160.4h1.5M330.2 143.9h1.5M341.2 145h1.5M332.1 129.2h1.5M322.2 140.6h1.5M338.5 159h1.5M379 165.8h1.5M348.4 163.5h1.5M340.2 142.2h1.5M379.1 136.3h1.5M335.4 145.1h1.5M365.4 141.5h1.5M354.6 143.6h1.5M322.5 150.6h1.5M344.8 135.3h1.5M328.2 139.3h1.5M357.5 153.1h1.5M345.9 153.4h1.5M334.5 153.3h1.5M332.4 133.4h1.5M330.8 150.4h1.5M343.5 159.7h1.5M321.7 145.6h1.5M348.4 137.5h1.5M346.1 143.6h1.5M324 160.4h1.5M321.1 159.1h1.5M335.5 137.7h1.5M328 140h1.5M328.6 151h1.5M321.4 161.7h1.5M355.5 163.3h1.5M326.4 122.6h1.5M332.1 146.2h1.5M347 142.4h1.5M340.8 149.7h1.5M322 165.6h1.5M324.2 151h1.5M359.4 139.5h1.5M342.2 165.4h1.5M337.7 159.6h1.5M346.8 150.6h1.5M353.7 145.6h1.5M338.8 158.7h1.5M346.4 153.6h1.5M323.1 148.3h1.5M361.6 158h1.5M347.7 142.5h1.5M332.4 153h1.5M364.9 148.6h1.5M363.1 144.9h1.5M361.4 137.2h1.5M345.2 136.4h1.5M352.8 154.5h1.5M327.1 140h1.5M335.2 131.8h1.5M327.4 138.7h1.5M354.7 163.4h1.5M335.1 145h1.5M345.7 142.4h1.5M337.8 157.4h1.5M345.9 147.2h1.5M333.1 164.3h1.5M332.4 149.5h1.5M325.7 141.6h1.5M343.8 143.8h1.5M350.8 148.9h1.5M322 122.8h1.5M358.1 141.8h1.5M365.9 148.3h1.5M330 154.3h1.5M337.9 148.3h1.5M327.4 155.2h1.5M359.7 142.4h1.5M370.7 141.9h1.5M346.2 130.2h1.5M321.3 165.3h1.5M365 160.8h1.5M321.3 150.6h1.5M348.9 149h1.5M347 138.1h1.5M339.7 135.6h1.5M336.6 152.2h1.5M329.7 145.1h1.5M335.3 148.3h1.5M356.9 150.7h1.5M348.5 132.3h1.5M336.4 157.1h1.5M328.4 143.4h1.5M326.7 162.8h1.5M334.9 140.1h1.5M352 160.2h1.5M350.1 158.9h1.5M345.5 146.7h1.5M335.1 142.5h1.5M332.6 152.1h1.5M340.3 149.1h1.5M351.8 147.5h1.5M320.3 139.4h1.5M324.2 127.1h1.5M343.8 134.9h1.5M321.6 136.2h1.5M356.1 144.7h1.5M358.1 147.1h1.5M335.1 154.3h1.5M351.6 149.3h1.5M325.5 143h1.5M323.2 145.2h1.5M343.6 164.4h1.5M364.7 155.5h1.5M357.3 150.6h1.5M386.4 164.8h1.5M384.4 152.2h1.5M348.7 159.6h1.5M345.1 151.5h1.5M326.3 158.4h1.5M344.2 156.9h1.5M338.5 128.5h1.5M350.1 160.8h1.5M321.6 137.3h1.5M337.2 145.3h1.5M322.1 164.3h1.5M358.2 141.2h1.5M321 152h1.5M373.7 157.1h1.5M360.5 137.7h1.5M345.7 131.5h1.5M373.7 154.3h1.5M321.4 127.7h1.5M349.7 149.5h1.5M337 154.8h1.5M374.1 152h1.5M320.4 146.2h1.5M321 139.1h1.5M347.2 146.1h1.5M324.9 147.7h1.5M328.9 153.8h1.5M338 152.2h1.5M337.6 156.2h1.5M339.7 147.8h1.5M332.8 149.5h1.5M320.9 164.3h1.5M331 149h1.5M334.3 142.5h1.5M348.3 142.3h1.5M335 132.7h1.5M327 135h1.5M370.6 133.2h1.5M324.6 150h1.5M364.6 129.2h1.5M322.3 149.2h1.5M347.2 132.3h1.5M320.4 137.3h1.5M353.7 147.4h1.5M353.7 146.6h1.5M341.2 154.6h1.5M339.8 150.4h1.5M327.1 141.2h1.5M349.2 145.2h1.5M329.7 155h1.5M350.4 147.7h1.5M329.5 157.6h1.5M381.6 138.7h1.5M321.5 139.2h1.5M326.7 133.9h1.5M322.7 157.1h1.5M355.4 164h1.5M353.6 142.5h1.5M359 141h1.5M336.1 134.8h1.5M361.2 158.8h1.5M334.2 144.3h1.5M342.2 149.9h1.5M355.1 148.4h1.5M348 131.2h1.5M336.8 128h1.5M370.1 163h1.5M353 159.9h1.5M373.6 158h1.5M321 145.4h1.5M321.8 138.7h1.5M321.6 147.6h1.5M347.7 137.5h1.5M337 150.7h1.5M339 145.7h1.5M320.6 142.8h1.5M354.1 150.5h1.5M322.4 144.6h1.5M345.7 136.9h1.5M352.2 138.8h1.5M336.1 146.4h1.5M377.1 144.1h1.5M332.3 155.5h1.5M333.9 149.7h1.5M322.3 150.9h1.5M341.1 133.4h1.5M363.1 145h1.5M338.3 133.1h1.5M321.5 141.3h1.5M321.9 153h1.5M355.3 140.6h1.5M322.7 143.2h1.5M324.4 149.4h1.5M344.3 142.9h1.5M342.6 159h1.5M368.6 141.8h1.5M352.9 144.9h1.5M324.4 161.7h1.5M347.6 149.1h1.5M347 145.8h1.5M324.5 166h1.5M355.7 150.4h1.5M356.8 161.7h1.5M338.1 154h1.5M336.2 154.6h1.5M337.3 165.3h1.5M335.6 153.2h1.5M348.7 143.9h1.5M356.3 146.6h1.5M334.7 147.6h1.5M329.3 160.7h1.5M351.3 158.3h1.5M321.6 150.5h1.5M329 148.5h1.5M361.7 150.4h1.5M338.5 159.9h1.5M357.5 164.4h1.5M322.1 151.1h1.5M334.7 137.9h1.5M343.2 134.8h1.5M320.7 137.6h1.5M337.2 164.7h1.5M329.8 134.7h1.5M320.3 143.7h1.5M337.5 149.2h1.5M321.9 139.2h1.5M320.8 149.4h1.5M321.6 117.3h1.5M359.9 153.1h1.5M347 151.4h1.5M324.8 159.4h1.5M324.6 165.2h1.5M345 127.3h1.5M355.2 163.5h1.5M337.3 159.3h1.5M338 140.6h1.5M322.2 161.2h1.5M334.2 151.7h1.5M323.2 137.6h1.5M359.2 143.3h1.5M334.9 133.7h1.5M344.7 156.1h1.5M334 145.5h1.5M321.8 163h1.5M331.5 145.9h1.5M368.4 145.1h1.5M320.5 137.4h1.5M335.7 164.6h1.5M345 145.1h1.5M354.7 162h1.5M329.3 163.4h1.5M355.2 152.6h1.5M321.9 149.8h1.5M363.9 144.6h1.5M378.6 148.5h1.5M325.2 154.2h1.5M346.3 156.9h1.5M338 162.1h1.5M332.6 149.2h1.5M321.5 138.8h1.5M344.8 140.4h1.5M334.3 145.4h1.5M345.7 156.2h1.5M354 159.1h1.5M344.9 141.7h1.5M320.6 143.9h1.5M328.8 127.6h1.5M368.2 127.3h1.5M347.4 153.9h1.5M337.8 165.1h1.5M342 139.2h1.5M370.1 138.9h1.5M322.6 136.6h1.5M331.2 148.3h1.5M347.1 130.8h1.5M347.3 165.2h1.5M330.1 146.3h1.5M352.9 161.2h1.5M330.8 137h1.5M325.3 160h1.5M356.2 123.6h1.5M320.3 134h1.5M321.6 152.3h1.5M345.2 164.4h1.5M354.5 149.1h1.5M360.8 137.8h1.5M320.7 148.1h1.5M356.9 129.7h1.5M356.2 157.4h1.5M333.5 149.6h1.5M337.2 148.7h1.5M354.8 138.8h1.5M358.5 157.5h1.5M356.4 125.8h1.5M321 155.5h1.5M332.1 140h1.5M329.2 132.8h1.5M337 139.7h1.5M331 153.1h1.5M322.4 160.3h1.5M322 165h1.5M320.4 154.3h1.5M356.5 147.7h1.5M353.7 146.5h1.5M322.1 151.6h1.5M360.3 141.6h1.5M321.4 141h1.5M346.9 151.1h1.5M359.6 154h1.5M349.9 125.3h1.5M377.9 148.3h1.5M355.7 143.9h1.5M339.2 148.4h1.5M367.3 164.8h1.5M351.7 164.6h1.5M335.2 153.6h1.5M334.2 162.3h1.5M342.3 158.8h1.5M369.8 124.6h1.5M377.1 151.4h1.5M336.5 126.3h1.5M336.8 122h1.5M343.2 145.9h1.5M371.6 144.2h1.5M359.3 161h1.5M375.5 145.1h1.5M354.2 130.8h1.5M323.7 144.8h1.5M341.4 134.2h1.5M335.1 155.8h1.5M334.4 146.1h1.5M327.3 163.5h1.5M371 150.2h1.5M340 163.9h1.5M349.7 140.4h1.5M320.6 141.3h1.5M377.9 141.2h1.5M389.3 147.9h1.5M338.4 162.9h1.5M337.9 152.2h1.5M324.9 133.9h1.5M329.8 150.5h1.5M331 125.8h1.5M349.7 146.1h1.5M337.3 141h1.5M320.4 165.9h1.5M334.1 153.9h1.5M364.8 160.7h1.5M345.3 148.1h1.5M347 158.2h1.5M351.5 142.9h1.5M349.4 152.2h1.5M353.4 150.3h1.5M364.5 150.3h1.5M356.6 148.5h1.5M332.5 137.3h1.5M339.4 154h1.5M362.8 147h1.5M333.4 142.2h1.5M363.2 149.2h1.5M333.8 156.3h1.5M320.3 149.3h1.5M341.3 146.5h1.5M323 159.1h1.5M369.6 133h1.5M344 155.3h1.5M379 143.3h1.5M326.4 147.9h1.5M375 148.8h1.5M346.3 163.8h1.5M322.4 123.6h1.5M356.9 156.7h1.5M321.1 159.2h1.5M330.4 156.8h1.5M322.6 151.3h1.5M321.9 155.4h1.5M327.9 164.3h1.5M335.8 142.1h1.5M333.8 164.8h1.5M332.6 163.9h1.5M329.7 160.8h1.5M321.4 161.5h1.5M321.7 165.6h1.5M322.3 137.6h1.5M334.9 153.6h1.5M331.1 158.5h1.5M329.7 147.7h1.5M331.9 157.8h1.5M334.5 165.9h1.5M323.2 155.6h1.5M335.2 151.3h1.5M321.2 150.3h1.5M339.8 152.8h1.5M335.6 149h1.5M334.1 149.5h1.5M322.2 155.9h1.5M330.5 164.3h1.5M320.6 159.2h1.5M344.9 164h1.5M326.5 149.4h1.5M325.4 157.5h1.5M331.7 157.9h1.5M335.5 146.2h1.5M322.5 144.9h1.5M320.6 154.2h1.5M332.9 164.2h1.5M334.9 155.1h1.5M343.1 149h1.5M333.1 163h1.5M337.3 158.3h1.5M326.8 144.8h1.5M328.6 150.1h1.5M336.4 153.9h1.5M335.2 141.8h1.5M339 148h1.5M321.9 143.7h1.5M324.2 164.2h1.5M336.6 145.4h1.5M330.8 154.1h1.5M320.3 146.9h1.5M322.7 147.9h1.5M320.8 148.5h1.5M321.4 148.5h1.5M322.4 164.5h1.5M326.8 157h1.5M337 162.4h1.5M336.3 150.5h1.5M322.7 148.6h1.5M325.6 155h1.5M329.2 164h1.5M329 165.5h1.5M339.5 151.1h1.5M337.9 131.5h1.5M342.7 158.4h1.5M333.7 141.2h1.5M353.2 152.9h1.5M328.7 164.2h1.5M328.2 148h1.5M336.1 146.7h1.5M336.8 156.1h1.5M340.4 145.1h1.5M341.5 157.4h1.5M348.2 149.7h1.5M347.1 160.8h1.5M337.3 149h1.5M335.1 160.5h1.5M322.4 145.5h1.5M322.9 166h1.5M331.4 162.7h1.5M332.7 156h1.5M332 151.6h1.5M341.2 156.4h1.5M332.1 143.7h1.5M332.8 149.5h1.5M325.4 163.5h1.5M321.6 153.4h1.5M335.8 164.4h1.5M325.2 157.6h1.5M332.6 145.8h1.5M322.3 139.2h1.5M335.5 155.8h1.5M321 149.8h1.5M326.3 152.1h1.5M329.7 165.7h1.5M322.8 156.2h1.5M322.9 149.9h1.5M321.9 153.1h1.5M324.9 157.8h1.5M332 147.7h1.5M347.6 145.4h1.5M333.3 164.6h1.5M323.4 165.8h1.5M343 157.8h1.5M322.6 164h1.5M330.8 150.5h1.5M341.7 149.1h1.5M339.8 150.5h1.5M334.9 146.2h1.5M326.4 147.5h1.5M323.4 156.5h1.5M328.4 156.5h1.5M341.8 154.1h1.5M321.2 152.6h1.5M330.7 163.3h1.5M339.5 162.8h1.5M327.9 160.3h1.5M321.2 165.6h1.5M334 159.1h1.5M326.5 155.4h1.5M323.8 159.6h1.5M322.6 162.9h1.5M335 165.4h1.5M329.6 154.2h1.5M331.8 155.3h1.5M329 146h1.5M321.4 150.4h1.5M327.3 145.3h1.5M322.5 152.7h1.5M336.8 153.4h1.5M336.2 162.9h1.5M337.1 151.6h1.5M326.3 139.8h1.5M323.7 158.8h1.5M320.3 165.7h1.5M343.2 152h1.5M338.5 143.4h1.5M320.4 152h1.5M330.1 153.5h1.5M322.1 165h1.5M332.7 157.3h1.5M336.3 156.4h1.5M327.9 150.5h1.5M322.2 164.8h1.5M321.5 141.4h1.5M322.6 141.9h1.5M348.3 158h1.5M342.9 163.7h1.5M335.2 159.7h1.5M323.4 154.3h1.5M324.4 155.3h1.5M323.6 165.3h1.5M337 154.1h1.5M322.3 160.6h1.5M338.1 154.4h1.5M322.6 158.5h1.5M339.6 139.3h1.5M335.2 140.2h1.5M330.7 165.6h1.5M330.8 158.9h1.5M327 154.9h1.5M351.6 165.9h1.5M327.1 151.9h1.5M330.2 164h1.5M331.9 164.1h1.5M326.7 144.6h1.5M342.1 154.4h1.5M322.8 149.4h1.5M323.8 150.1h1.5M320.8 164.8h1.5M333.5 162.9h1.5M326.8 157.8h1.5M331.5 164.6h1.5M337.5 157.9h1.5M324 145.2h1.5M322.7 149.8h1.5M325.1 144.9h1.5M345.2 157.2h1.5M322.3 146.1h1.5M321.5 156.9h1.5M339.8 147h1.5M335.7 152.8h1.5M340.5 164.5h1.5M332.8 160.8h1.5M330 152h1.5M322.6 157.7h1.5M329.4 151.9h1.5M329.3 153.5h1.5M320.5 150.7h1.5M340.4 153.1h1.5M342.7 145.6h1.5M320.5 156h1.5M337.1 149.7h1.5M335.7 162.6h1.5M339.8 154.1h1.5M329.5 141.6h1.5M330.2 157.3h1.5M342.9 144.7h1.5M322.3 146.9h1.5M338.2 134.5h1.5M321.9 164.3h1.5M336 144.2h1.5M329.5 161.9h1.5M335 153.2h1.5M322.8 161.7h1.5M329.9 161.6h1.5M333.6 151.2h1.5M343.1 151h1.5M333.9 149.9h1.5M327.9 153h1.5M324 156.9h1.5M341.9 163.5h1.5M343.1 153.6h1.5M343.2 158.4h1.5M346.3 144.8h1.5M343.5 150.2h1.5M340.5 151.2h1.5M338.3 152.7h1.5M320.6 147.2h1.5M327.8 155.2h1.5M320.4 145.3h1.5M323.4 153.3h1.5M332 148.4h1.5M320.3 157.4h1.5M327 162.2h1.5M325.2 160.2h1.5M321.9 157.2h1.5M330.8 158.6h1.5M321.5 154h1.5M322.3 153.7h1.5M335.6 163.9h1.5M330.3 160.8h1.5M331 164.1h1.5M334.2 163.4h1.5M333.2 164.1h1.5M342.5 141.3h1.5M332.7 155.6h1.5M321.5 148.1h1.5M325.9 149.1h1.5M331.2 140.6h1.5M336.8 161.3h1.5M333.2 152.4h1.5M330.1 151.3h1.5M340.4 159.1h1.5M348.1 152.1h1.5M343.2 150.4h1.5M328.5 146.7h1.5M334.8 154.6h1.5M335.7 164.1h1.5M329.5 158.1h1.5M338.2 154.6h1.5M325.1 157.9h1.5M334.6 161.3h1.5M337.6 149.7h1.5M334.1 164.9h1.5M325.9 158h1.5M324.5 156.4h1.5M345.7 156.4h1.5M321.3 157.8h1.5M332 164h1.5M322.6 147.7h1.5M329.4 142.6h1.5M340.3 138.8h1.5M322.6 143.2h1.5M324.1 161.5h1.5M335.5 162.5h1.5M335.5 138.8h1.5M332.8 140.3h1.5M325.5 151.9h1.5M325.2 159h1.5M322.8 164.2h1.5M335.5 164.5h1.5M336.9 162.2h1.5M329.7 164.5h1.5M320.6 158.8h1.5M330.1 153.3h1.5M332.9 149.1h1.5M337.9 161.4h1.5M331 161h1.5M320.7 140.6h1.5M324.8 153.2h1.5M352.6 153.2h1.5M339.4 161.8h1.5M349.1 156h1.5M336 153.5h1.5M322.3 147h1.5M323 165.1h1.5M332.7 153.8h1.5M330.2 150.6h1.5M329.8 154.7h1.5M336 162.4h1.5M321.5 156.9h1.5M342.5 146.9h1.5M327.8 156.4h1.5M340 159.9h1.5M328.1 159.1h1.5M339.4 158.2h1.5M346.8 158.5h1.5M320.6 148.8h1.5M328.9 153.4h1.5M335.7 157.9h1.5M345.6 161.6h1.5M343.5 149h1.5M326.3 160.6h1.5M330.9 160.1h1.5M332.4 150.1h1.5M345.5 164.3h1.5M322 150.2h1.5M330.3 160.6h1.5M329.5 144.2h1.5M337.6 153.5h1.5M341 157.6h1.5M339.2 161.8h1.5M338.1 151.1h1.5M339.4 156.8h1.5M322.5 152h1.5M327.1 158.9h1.5M336.3 146.2h1.5M336.7 154.6h1.5M320.7 161.8h1.5M323.3 145.6h1.5M337 162.4h1.5M324.3 163.6h1.5M339.2 151h1.5M348.2 154.7h1.5M332.2 136.1h1.5M335.9 150.3h1.5M334.2 141.5h1.5M340.6 164.8h1.5M347.2 131.6h1.5M335.5 158h1.5M322.1 149.4h1.5M329.5 165.3h1.5M322.8 156.9h1.5M329.8 158.2h1.5M326.7 162.4h1.5M339 144.4h1.5M340.4 149.3h1.5M327.9 164.3h1.5M331.2 159.9h1.5M337.4 160.1h1.5M325.5 147.7h1.5M336.5 161.4h1.5M333.6 153.8h1.5M338.1 155.2h1.5M320.7 157.6h1.5M335 161.6h1.5M322.4 149.4h1.5M333.4 151.8h1.5M329.9 162.9h1.5M334 165.4h1.5M333.1 165.1h1.5M340.1 164.3h1.5M330.7 154.8h1.5M342.3 151.4h1.5M326.5 157.5h1.5M334 144.4h1.5M332.9 153.1h1.5M330.4 157h1.5M329 164.2h1.5M335.1 154.2h1.5M331.4 164h1.5M337.8 165.8h1.5M329.6 156.8h1.5M348.8 155.4h1.5M345.9 162.5h1.5M327 144.7h1.5M336.6 150.2h1.5M324.6 142h1.5M341.5 156.6h1.5M331.1 158.9h1.5M333.1 156.6h1.5M335.5 153.6h1.5M320.8 161.7h1.5M334.7 156h1.5M345.1 144.7h1.5M321.2 164.3h1.5M334.6 142.8h1.5M327.3 160.8h1.5M320.6 160.2h1.5M349.9 164.8h1.5M330.7 158.4h1.5M322.5 156.9h1.5M328 147.9h1.5M322.7 165.9h1.5M331.7 147.7h1.5M327.2 163.9h1.5M345.4 151h1.5M332.7 162.9h1.5M327.8 146.5h1.5M322.2 155.9h1.5M324 145.5h1.5M328.8 163.2h1.5M337 154h1.5M348 149.6h1.5M330.2 145h1.5M337.9 154.8h1.5M320.4 149.2h1.5M347 161.5h1.5M331.9 162.7h1.5M322.2 149.2h1.5M322.3 149.2h1.5M327.5 160h1.5M397.6 68.9h1.5M397.9 61.9h1.5M397.7 67.8h1.5M391.6 72.2h1.5M392.7 61.1h1.5M396.2 63.1h1.5M396.1 64.8h1.5M395.8 70h1.5M394.9 70.3h1.5M397.5 62h1.5M397.5 69h1.5M395.4 71.5h1.5M399.8 69.7h1.5M390.8 68.2h1.5M394.6 64.7h1.5M396 64.5h1.5M399.8 67.4h1.5M395.1 69.9h1.5M397.4 71.8h1.5M396.9 65.9h1.5M395.4 55.6h1.5M390.8 71.1h1.5M394.1 74.9h1.5M400.3 60h1.5M395.9 80.1h1.5M392.8 68h1.5M394.4 64.9h1.5M394.2 66h1.5M397.3 62.2h1.5M396.5 62.7h1.5M455.6 79.8h1.5M452 84.1h1.5M451.9 78.1h1.5M455.6 84.9h1.5M453.1 75.1h1.5M457 88.1h1.5M454.6 82.1h1.5M447.9 88.5h1.5M452.2 87.6h1.5M453.9 83.3h1.5M455.3 75h1.5M465.6 76.2h1.5M456.4 79.9h1.5M455.2 90.9h1.5M449.5 83.3h1.5M457.7 84.6h1.5M457.4 80.3h1.5M450.3 77.4h1.5M454.6 87.7h1.5M456.3 92h1.5M456.4 85h1.5M456.7 75.3h1.5M458 78.4h1.5M454.7 95.7h1.5M451.7 84.6h1.5M457 84.6h1.5M456 81.2h1.5M463 74h1.5M452.4 91.4h1.5M457.9 80.2h1.5M452.9 82.8h1.5M465.2 86.5h1.5M452.4 85.2h1.5M453.8 91.5h1.5M457 90.3h1.5" stroke="#000" stroke-width="1.5" fill="none"/>
<path d="M332.6 154.4h1M324.2 148.2h1M332.1 158.5h1M326.6 157.4h1M339.9 144h1M330.4 152h1M335.6 162.6h1M334.7 150h1M331.3 154.4h1M339.9 154.3h1M328.2 149h1M326.1 144.4h1M328.7 147h1M339.7 141.5h1M333.6 141.7h1M340 154.7h1M344.1 156.8h1M324 152.3h1M327.5 147.4h1M324.1 149.3h1M333.8 153.9h1M354.7 150.6h1M333.8 151.2h1M330.8 149.4h1M333.5 150.3h1M339.4 155.7h1M325.3 152h1M335.7 149.6h1M331 151.2h1M338.3 153.6h1M328.3 151.6h1M343.7 143.7h1M338.7 149.9h1M365.2 157.5h1M333.5 151.1h1M350.4 155.1h1M330.5 152h1M333.4 143.8h1M334 156.4h1M340.2 162.6h1M349.1 140.9h1" stroke="#fff" stroke-width="1" fill="none"/>
<path d="M319.2 39.9H511.9V167" stroke="#000" stroke-width="1" fill="none"/>
<path d="M319.2 39.4V167H512.4" stroke="#000" stroke-width="1.5" fill="none"/>
<path d="M319.2 167v4.5M319.2 167h-4.5M333.6 167v2.5M319.2 157.4h-2.5M342.1 167v2.5M319.2 151.8h-2.5M348.1 167v2.5M319.2 147.8h-2.5M352.8 167v2.5M319.2 144.7h-2.5M356.6 167v2.5M319.2 142.2h-2.5M359.8 167v2.5M319.2 140h-2.5M362.5 167v2.5M319.2 138.2h-2.5M365 167v2.5M319.2 136.6h-2.5M367.2 167v4.5M319.2 135.1h-4.5M381.6 167v2.5M319.2 125.5h-2.5M390.1 167v2.5M319.2 119.9h-2.5M396.1 167v2.5M319.2 115.9h-2.5M400.8 167v2.5M319.2 112.8h-2.5M404.6 167v2.5M319.2 110.3h-2.5M407.8 167v2.5M319.2 108.1h-2.5M410.5 167v2.5M319.2 106.3h-2.5M413 167v2.5M319.2 104.7h-2.5M415.2 167v4.5M319.2 103.2h-4.5M429.6 167v2.5M319.2 93.6h-2.5M438.1 167v2.5M319.2 88h-2.5M444.1 167v2.5M319.2 84h-2.5M448.8 167v2.5M319.2 80.9h-2.5M452.6 167v2.5M319.2 78.4h-2.5M455.8 167v2.5M319.2 76.2h-2.5M458.5 167v2.5M319.2 74.4h-2.5M461 167v2.5M319.2 72.8h-2.5M463.2 167v4.5M319.2 71.3h-4.5M477.6 167v2.5M319.2 61.7h-2.5M486.1 167v2.5M319.2 56.1h-2.5M492.1 167v2.5M319.2 52.1h-2.5M496.8 167v2.5M319.2 49h-2.5M500.6 167v2.5M319.2 46.5h-2.5M503.8 167v2.5M319.2 44.3h-2.5M506.5 167v2.5M319.2 42.5h-2.5M509 167v2.5M319.2 40.9h-2.5M511.2 167v4.5M319.2 39.9h-4.5" stroke="#000" stroke-width="1" fill="none"/>
<text x="316" y="182.5" font-size="10" text-anchor="middle" textLength="9.6" lengthAdjust="spacingAndGlyphs">10</text>
<text x="324.3" y="178" font-size="10" text-anchor="middle" textLength="5" lengthAdjust="spacingAndGlyphs">0</text>
<text x="309.9" y="170.1" font-size="10" text-anchor="middle" transform="rotate(-90 309.9 170.1)" textLength="8" lengthAdjust="spacingAndGlyphs">10</text>
<text x="304.9" y="161.6" font-size="10" text-anchor="middle" transform="rotate(-90 304.9 161.6)" textLength="5" lengthAdjust="spacingAndGlyphs">0</text>
<text x="364" y="182.5" font-size="10" text-anchor="middle" textLength="9.6" lengthAdjust="spacingAndGlyphs">10</text>
<text x="372.3" y="178" font-size="10" text-anchor="middle" textLength="5" lengthAdjust="spacingAndGlyphs">1</text>
<text x="309.9" y="138.2" font-size="10" text-anchor="middle" transform="rotate(-90 309.9 138.2)" textLength="8" lengthAdjust="spacingAndGlyphs">10</text>
<text x="304.9" y="129.7" font-size="10" text-anchor="middle" transform="rotate(-90 304.9 129.7)" textLength="5" lengthAdjust="spacingAndGlyphs">1</text>
<text x="412" y="182.5" font-size="10" text-anchor="middle" textLength="9.6" lengthAdjust="spacingAndGlyphs">10</text>
<text x="420.3" y="178" font-size="10" text-anchor="middle" textLength="5" lengthAdjust="spacingAndGlyphs">2</text>
<text x="309.9" y="106.3" font-size="10" text-anchor="middle" transform="rotate(-90 309.9 106.3)" textLength="8" lengthAdjust="spacingAndGlyphs">10</text>
<text x="304.9" y="97.8" font-size="10" text-anchor="middle" transform="rotate(-90 304.9 97.8)" textLength="5" lengthAdjust="spacingAndGlyphs">2</text>
<text x="460" y="182.5" font-size="10" text-anchor="middle" textLength="9.6" lengthAdjust="spacingAndGlyphs">10</text>
<text x="468.3" y="178" font-size="10" text-anchor="middle" textLength="5" lengthAdjust="spacingAndGlyphs">3</text>
<text x="309.9" y="74.4" font-size="10" text-anchor="middle" transform="rotate(-90 309.9 74.4)" textLength="8" lengthAdjust="spacingAndGlyphs">10</text>
<text x="304.9" y="65.9" font-size="10" text-anchor="middle" transform="rotate(-90 304.9 65.9)" textLength="5" lengthAdjust="spacingAndGlyphs">3</text>
<text x="508" y="182.5" font-size="10" text-anchor="middle" textLength="9.6" lengthAdjust="spacingAndGlyphs">10</text>
<text x="516.3" y="178" font-size="10" text-anchor="middle" textLength="5" lengthAdjust="spacingAndGlyphs">4</text>
<text x="309.9" y="42.5" font-size="10" text-anchor="middle" transform="rotate(-90 309.9 42.5)" textLength="8" lengthAdjust="spacingAndGlyphs">10</text>
<text x="304.9" y="34" font-size="10" text-anchor="middle" transform="rotate(-90 304.9 34)" textLength="5" lengthAdjust="spacingAndGlyphs">4</text>
<text x="414.8" y="192" font-size="10.6" text-anchor="middle" textLength="50" lengthAdjust="spacingAndGlyphs">CD123 PE</text>
<text x="296.1" y="104.2" font-size="11.2" text-anchor="middle" transform="rotate(-90 296.1 104.2)" textLength="68" lengthAdjust="spacingAndGlyphs">HLADR PERCP</text>
<rect x="440" y="66.7" width="37.5" height="40.3" stroke="#000" stroke-width="1.3" fill="none"/>
<text x="427" y="56.3" font-size="12.4" font-family='"Liberation Serif", serif' font-weight="bold">0.09%</text>
<path d="M139.1 336.5h1.2M152.7 326h1.2M138.1 333.8h1.2M145.7 328.9h1.2M141.2 342.8h1.2M140.5 322.9h1.2M143.1 340.7h1.2M148.6 334h1.2M138.7 333.6h1.2M159.5 338.5h1.2M150.4 323.1h1.2M143.1 330.3h1.2M153.9 332.2h1.2M144.8 330.8h1.2M130.9 342.2h1.2M135.6 330.1h1.2M137.2 330h1.2M142.8 330.6h1.2M152.4 325.7h1.2M143.6 338h1.2M143 330.5h1.2M154.9 339.6h1.2M140.9 336h1.2M140.6 337.4h1.2M137.9 339.8h1.2M147 336.5h1.2M145.1 335.7h1.2M140.7 334.6h1.2M148.1 337.2h1.2M140.4 338.1h1.2M139.1 329h1.2M140.8 329.8h1.2M144.5 338.9h1.2M150.4 337.3h1.2M141.4 339.4h1.2M150 328.7h1.2M139.1 333h1.2M154.8 332h1.2M144.2 339h1.2M139.1 326.5h1.2M144.5 340h1.2M143.5 329.5h1.2M136.6 341h1.2M138.7 342.5h1.2M141.4 342.1h1.2M153.6 327.9h1.2M148 339.2h1.2M151.3 331.9h1.2M151.2 334.8h1.2M140 341.1h1.2M151.4 334h1.2M144.4 339.5h1.2M153.5 325.3h1.2M150.4 342.6h1.2M140.6 338.1h1.2M145.3 336.6h1.2M151.3 322.8h1.2M142.5 324.3h1.2M143.4 341.8h1.2M139.8 330.7h1.2M142 336.9h1.2M143.4 328.5h1.2M141.2 332.9h1.2M138.8 317.1h1.2M150.9 334.9h1.2M142 332.9h1.2M148.7 328h1.2M145.2 330.2h1.2M151.2 316.9h1.2M138 341.9h1.2M40 303.2h1.2M39.3 293.9h1.2M67.5 312.1h1.2M77.7 300.5h1.2M56.5 317.9h1.2M65.1 302.3h1.2M92.2 306.2h1.2M39.1 302.8h1.2M92.9 306.9h1.2M67.4 311.8h1.2M50.2 298.9h1.2M69.3 304.1h1.2M69.5 303.5h1.2M50.9 299.4h1.2M76.9 319.7h1.2M38.7 314.9h1.2M86.9 304.1h1.2M44.3 311.2h1.2M61 306.2h1.2M58.4 319.5h1.2M39.3 310.6h1.2M117.6 309h1.2M123.9 308h1.2M74.3 312.8h1.2M52 308.2h1.2M84.7 304h1.2M81.9 314.7h1.2M40.9 307.3h1.2M80.3 303.7h1.2M95.8 315.5h1.2M56.2 309.6h1.2M54.6 307.4h1.2M82.3 307.2h1.2M74.9 305.4h1.2M100.5 313.8h1.2M55 311.5h1.2M137 305.4h1.2M105.6 324.3h1.2M65.7 313.1h1.2M35.1 316.5h1.2M87.3 313.3h1.2M75.9 314.1h1.2M99.2 312.6h1.2M64.2 307.3h1.2M72.1 307h1.2M50.3 300.6h1.2M68.6 302.7h1.2M62 300.6h1.2M36.8 305.7h1.2M65.2 321.4h1.2M69 314.6h1.2M83.6 310.1h1.2M63.6 312.2h1.2M84.4 299.8h1.2M88 307h1.2M39.6 303.6h1.2M88.8 313.9h1.2M68.1 315.6h1.2M91 298.9h1.2M43.6 310.4h1.2M48.5 304.5h1.2M78.5 306.5h1.2M53.5 299.8h1.2M122.6 299.8h1.2M60.1 314.8h1.2M68.4 302.5h1.2M42.1 315.2h1.2M90.4 296.4h1.2M35.9 312.1h1.2M111.7 304.9h1.2M127.9 292.1h1.2M88.1 293.8h1.2M121 301.2h1.2M124.4 291.2h1.2M138.7 298.1h1.2M153.8 301.4h1.2M86 299.9h1.2M100.5 308h1.2M116.8 306.5h1.2M101.2 296.2h1.2M115.6 300.5h1.2M99.2 302.8h1.2M131.2 298.3h1.2M105.7 297.6h1.2M121.5 299.5h1.2M120 305.7h1.2M108.6 298.7h1.2M108.7 307.6h1.2M111.4 300.4h1.2M108.6 304.6h1.2M119.4 294.2h1.2M127.6 302.1h1.2M131.5 302.7h1.2M112.3 294.9h1.2M128.2 306.4h1.2M99.7 299.7h1.2M120.3 299.4h1.2M119.1 298.1h1.2M103.3 306.2h1.2M87.1 303.3h1.2M101 300.2h1.2M102.8 300.8h1.2M103.6 301.4h1.2M91.3 294.6h1.2M110.9 303.2h1.2M100.2 309.9h1.2M107.2 304h1.2M85.2 294.9h1.2M97.6 294h1.2M88.8 297.8h1.2M99.9 308.2h1.2M111.8 301.4h1.2M81 307.6h1.2M136.5 294.3h1.2M96.6 296.1h1.2M134.6 293.2h1.2M97.2 291.9h1.2M117.1 304.3h1.2M98 305.8h1.2M115.3 295.7h1.2M79.9 269.7h1.2M90.2 265.2h1.2M90.8 262h1.2M76.5 273h1.2M70.4 257.1h1.2M54.7 258.8h1.2M45.3 256.3h1.2M55.6 260.9h1.2M52.5 261.3h1.2M71.9 266.9h1.2M86.9 271.6h1.2M68.5 253.6h1.2M83.2 264.5h1.2M65.9 267.1h1.2M100.2 264.4h1.2M66.3 263.4h1.2M59.2 274.3h1.2M55 255.9h1.2M86.8 260.9h1.2M54.7 267.9h1.2M88.8 252.2h1.2M81.6 268.2h1.2M98.7 265.1h1.2M83.1 262.8h1.2M82.5 272.7h1.2M82.6 258.4h1.2M71.4 274.2h1.2M54.6 258.5h1.2M62.9 270.2h1.2M59.9 259.6h1.2M71.5 265.6h1.2M81.2 255.2h1.2M56.1 253.4h1.2M88.7 260.6h1.2M74.9 262.2h1.2M51.2 252.1h1.2M56.3 274h1.2M66.8 265.2h1.2M57.9 278h1.2M73.6 252.5h1.2M65.3 264.1h1.2M86.6 260h1.2M81.7 263.9h1.2M75.3 259.6h1.2M77.7 268.9h1.2M72.2 260.1h1.2M111.8 266.3h1.2M81.6 253.2h1.2M87.8 252.4h1.2M89.2 264.1h1.2M65.4 257.9h1.2M74.6 259.7h1.2M47.8 268.6h1.2M50.6 261h1.2M65.4 271.5h1.2M50.5 268.1h1.2M78.7 244.5h1.2M52.1 257.8h1.2M57.2 263.4h1.2M80.1 268.4h1.2M61.7 265.2h1.2M68.8 265.1h1.2M71.2 261.9h1.2M67.4 265.1h1.2M73.7 256.1h1.2M42.5 268.1h1.2M82.9 261.5h1.2M88.7 261.7h1.2M70.4 259.5h1.2M90.2 273.1h1.2M69.3 258.3h1.2M87.3 267.5h1.2M81.3 253.4h1.2M76.5 263.3h1.2M68.2 264.9h1.2M70.1 264.5h1.2M72.1 260.4h1.2M96.5 261.9h1.2M81.1 267.9h1.2M59 261.1h1.2M60.1 261.1h1.2M55.8 267.4h1.2M72.4 254.7h1.2M79 256.1h1.2M52.1 264.7h1.2M73.1 257.8h1.2M82.5 264.9h1.2M74.9 268.3h1.2M76.6 269.7h1.2M77.3 264.2h1.2M40.5 260.1h1.2M99.4 258.8h1.2M70.6 259.5h1.2M47.1 265.8h1.2M99.1 272.3h1.2M69.2 256.8h1.2M64.7 265.3h1.2M66.9 266.9h1.2M76.4 254.8h1.2M56.3 267.3h1.2M84.4 262.3h1.2M93.2 261.8h1.2M68.4 262h1.2M80.2 248.4h1.2M74.4 263.1h1.2M60.6 257.1h1.2M89.8 259.4h1.2M68.2 267.8h1.2M55.1 277.1h1.2M62 258.3h1.2M52.1 258.5h1.2M58.9 259.4h1.2M56.8 247.7h1.2M88.9 266.7h1.2M81.6 265.4h1.2M80.7 257.9h1.2M112.8 258.5h1.2M55.2 274.4h1.2M66.7 262.4h1.2M58.1 260.5h1.2M79 264.1h1.2M55.1 266.7h1.2M61.3 252.7h1.2M85 264.1h1.2M69 257.4h1.2M83 260.5h1.2M62.5 265.5h1.2M76.2 254.8h1.2M89.8 252h1.2M60.8 264.3h1.2M70.9 266.9h1.2M80.3 247.8h1.2M90.9 259.1h1.2M72.2 257.5h1.2M57 266h1.2M78.9 263.6h1.2M63.1 271.6h1.2M77.6 265.7h1.2M73.5 263.9h1.2M88.6 268.5h1.2M88 262.9h1.2M74.3 255.2h1.2M69.7 258.8h1.2M60.7 262.2h1.2M73.4 257.9h1.2M48.6 260.6h1.2M72.4 264h1.2M59.9 254.3h1.2M46.4 262h1.2M64 265.6h1.2M52.2 270h1.2M69.5 260.8h1.2M74.2 266.3h1.2M83.3 251h1.2M64.1 264.7h1.2M80.2 263.4h1.2M59.7 264.6h1.2M69.6 262.1h1.2M89.2 261.4h1.2M78.5 270.8h1.2M86.2 254.5h1.2M57.2 250.1h1.2M86.9 261h1.2M64.5 261.5h1.2M55.7 265.4h1.2M59.6 267.5h1.2M75.8 261.7h1.2M79.9 260.6h1.2M71.7 269.3h1.2M95.6 265.4h1.2M91.7 252.6h1.2M74.1 262h1.2M65.7 265.3h1.2M99.1 265.2h1.2M88 270.4h1.2M90.9 262.6h1.2M64 269h1.2M84.7 259.5h1.2M95.1 257.3h1.2M55.6 261.9h1.2M54.3 261.3h1.2M71.8 258.8h1.2M73.6 254.8h1.2M41.2 267.1h1.2M85.4 267.3h1.2M66.9 265h1.2M68 269.3h1.2M56.3 264h1.2M66.2 266.5h1.2M73.6 251.7h1.2M68.2 256.5h1.2M79 267.4h1.2M56.1 264.8h1.2M58.7 259.3h1.2M74.8 269.5h1.2M79.1 266.1h1.2M66 261.4h1.2M81.2 263.2h1.2M74.9 264.6h1.2M95.6 270.4h1.2M92.4 264.6h1.2M62.1 255.4h1.2M74.8 256.5h1.2M46 260.6h1.2M103.6 262.4h1.2M74.9 262h1.2M75.1 254.5h1.2M76.6 267.1h1.2M76.5 264.1h1.2M73.4 266.7h1.2M57.3 250.7h1.2M66.2 262.3h1.2M81.4 258h1.2M75.3 262.1h1.2M82.9 259.6h1.2M81.5 266.8h1.2M69.1 261.5h1.2M66.6 258.2h1.2M64.2 256h1.2M82.8 264.8h1.2M71.1 263h1.2M73.3 271.2h1.2M84.9 260.4h1.2M82.3 252.7h1.2M66 257.8h1.2M77.2 259.1h1.2M61.9 258h1.2M53 254.5h1.2M59.2 264.4h1.2M76.2 266.7h1.2M40.1 290.3h1.2M72 288.2h1.2M88.8 310h1.2M64.7 285.7h1.2M82.7 296h1.2M65.9 297.3h1.2M97.8 281h1.2M95.6 278h1.2M96 276.6h1.2M50.1 271h1.2M61.5 286.4h1.2M64.9 282.6h1.2M62.7 281h1.2M59.6 288.4h1.2M55.7 288.6h1.2M44.5 271.1h1.2M84.1 277.4h1.2M69.7 274.9h1.2M35.3 270.6h1.2M48.5 301.8h1.2M52.1 289.3h1.2M58.9 287.8h1.2M41.2 299.3h1.2M71.6 281.1h1.2M84.6 268.5h1.2M51.8 290.6h1.2M101.2 280.6h1.2M106.4 300.5h1.2M48.3 292.7h1.2M91.9 275.3h1.2M99.6 268.4h1.2M97.4 300.2h1.2M103.6 296.7h1.2M73.8 268.2h1.2M106 294.5h1.2M86.2 280.1h1.2M40.5 292.6h1.2M48.8 286.5h1.2M80.1 271.6h1.2M77.8 277.9h1.2M55.6 295.9h1.2M36.3 280.1h1.2M62.7 298.8h1.2M66.1 294.7h1.2M44.1 269.1h1.2M64.4 305.2h1.2M79 281.7h1.2M54.2 302.6h1.2M81.5 269.9h1.2M35.2 309.6h1.2M71.2 287h1.2M75.6 285.8h1.2M64.6 286.1h1.2M39.9 282.9h1.2M57.6 299.4h1.2M89 282.3h1.2M65 287.7h1.2M110.4 299.4h1.2M53.3 303.9h1.2M47.6 300.1h1.2M70.1 273h1.2M58.4 284.6h1.2M91.1 302.3h1.2M40.2 281h1.2M91.2 292.8h1.2M79 294.5h1.2M84.4 302.2h1.2M59.4 260.4h1.2M78.3 279.3h1.2M37.1 287.4h1.2M51.5 286h1.2M40 293h1.2M66.5 288.9h1.2M51.8 277.2h1.2M88.3 294.2h1.2M61.9 272.5h1.2M78.6 280.8h1.2M85.8 278.4h1.2M71.4 290.9h1.2M55.7 293h1.2M38 302.1h1.2M58.5 281.7h1.2M63.6 282.4h1.2M52.3 288.9h1.2M54.1 283.1h1.2M71 284.2h1.2M50.2 295.9h1.2M109.5 279.6h1.2M86.2 278.3h1.2M61.7 273.9h1.2M55 277.8h1.2M65.3 282.8h1.2M114.1 276.5h1.2M80.8 296.4h1.2M35.4 266.7h1.2M86.2 273h1.2M60.9 255.8h1.2M44.6 283.9h1.2M92 310.7h1.2M54.6 303.9h1.2M68 284.3h1.2M63.5 284.2h1.2M35.6 286.1h1.2M44 291.1h1.2M126.5 271.8h1.2M103.8 274h1.2M61.2 299.1h1.2M79.3 301.1h1.2M97.4 283.9h1.2M57.1 294.5h1.2M79.4 307.2h1.2M35.3 299.2h1.2M79.3 283.8h1.2M51.1 278h1.2M51.8 306.1h1.2M69.2 284.1h1.2M69.8 293.9h1.2M84.8 287.1h1.2M64.4 278.2h1.2M67.8 285.7h1.2M55.5 283.7h1.2M95.6 296.6h1.2M74.8 301.4h1.2M71.4 300.9h1.2M68.5 304.3h1.2M80.5 283.8h1.2M43.4 289h1.2M72 274.6h1.2M64.3 280.4h1.2M74.8 272.4h1.2M68.5 309.8h1.2M89.7 287.1h1.2M101.8 283h1.2M86.8 291h1.2M59.7 293.2h1.2M119.8 277.4h1.2M50 307.4h1.2M55.1 286.1h1.2M59.2 278.7h1.2M79.4 275.6h1.2M46.7 284.5h1.2M80.7 304.3h1.2M68.4 298.3h1.2M98.5 293h1.2M87.2 285.1h1.2M39.4 296.7h1.2M44.6 294.1h1.2M51.3 273.6h1.2M66.4 272.5h1.2M70.7 285.2h1.2M162.9 306.5h1.2M164.8 282.6h1.2M168.8 286.6h1.2M143.6 290h1.2M159.3 315.5h1.2M160.3 297.2h1.2M173 268.4h1.2M153.8 264.8h1.2M129.7 293.5h1.2M156.1 294.6h1.2M142.9 299.4h1.2M195.3 260.2h1.2M157.2 282.1h1.2M147.5 305.4h1.2M151 297.2h1.2M141.6 287.1h1.2M162.1 291h1.2M167.5 291.7h1.2M176.5 269h1.2M167.3 300.2h1.2M158.7 306.1h1.2M147.3 297.6h1.2M141.8 307h1.2M193.7 279.8h1.2M160.7 296.3h1.2M164 273.1h1.2M149.9 298.3h1.2M127.8 312.8h1.2M146.3 300h1.2M139.2 282.7h1.2M158.4 285.6h1.2M165.5 292.2h1.2M164.9 307.8h1.2M134.1 315.5h1.2M165.7 302.4h1.2M157.9 299.1h1.2M170.9 304.9h1.2M145.9 293h1.2M152.1 303.3h1.2M158.8 261.7h1.2M148.4 319.6h1.2M145.7 295.1h1.2M144.3 294.7h1.2M142.7 308.4h1.2M156.8 314.9h1.2M127.6 329.3h1.2M157.4 313.9h1.2M146.4 310.1h1.2M179.8 277.4h1.2M146.6 301.3h1.2M167.4 301.2h1.2M161.4 296.6h1.2M142.1 308.8h1.2M169.7 276.9h1.2M147.1 298.2h1.2M173.5 283.1h1.2M156.1 284.8h1.2M140.1 323.4h1.2M155.5 305.3h1.2M158.5 284.2h1.2M147.6 314.2h1.2M114.1 306.5h1.2M170.1 269.5h1.2M164.6 298.9h1.2M175.6 261.7h1.2M159 302.5h1.2M150.3 289.6h1.2M156.7 271.7h1.2M167.6 281.8h1.2M151 290.2h1.2M158.9 304.3h1.2M165.6 298.5h1.2M160.3 284.8h1.2M152.2 298.3h1.2M158.5 309.1h1.2M151.6 320h1.2M140.9 297.8h1.2M146.8 286.8h1.2M186.7 283.9h1.2M184.6 287.6h1.2M159.6 267.1h1.2M159.3 281.6h1.2M164.5 281.9h1.2M143.8 294.4h1.2M169.6 294.2h1.2M144 310.7h1.2M160.3 288.1h1.2M160.3 304.6h1.2M176.7 282.5h1.2M169.1 290.4h1.2M147.6 301.5h1.2M150 288.2h1.2M177.4 296.4h1.2M179.7 267.4h1.2M144.4 295.4h1.2M163.6 285.4h1.2M163.2 273h1.2M153.6 288.7h1.2M157.3 289.9h1.2M137.3 323.1h1.2M157.2 294.9h1.2M148.4 289.6h1.2M160.8 299h1.2M177.9 274.8h1.2M156.1 308.7h1.2M151.4 295.6h1.2M159.2 298.5h1.2M141 310.5h1.2M152.1 292.4h1.2M166.8 263.4h1.2M156.4 296.2h1.2M167.5 301.2h1.2M127.1 318.7h1.2M135.7 296.6h1.2M150.5 304.6h1.2M164.1 310.2h1.2M138.5 315.7h1.2M160.2 291.4h1.2M162.2 284.9h1.2M160.7 286.5h1.2M144.1 294.7h1.2M155.2 304.1h1.2M154.5 305h1.2M153.8 296.6h1.2M165.2 270.8h1.2M160.9 300.9h1.2M165.9 289.5h1.2M171.2 274h1.2M169.2 303.6h1.2M145.8 312h1.2M166.4 288.6h1.2M157.2 283.5h1.2M158.4 291.3h1.2M162.9 290.3h1.2M186.5 277.2h1.2M190.1 273.8h1.2M167.6 293.1h1.2M169.1 272.4h1.2M130.3 303.4h1.2M165 282.2h1.2M154.8 298.1h1.2M165.1 281.5h1.2M144.6 300.8h1.2M165.9 283.2h1.2M171.3 292.7h1.2M149.2 292h1.2M139 305.7h1.2M145.8 307.9h1.2M142.2 311.1h1.2M156.9 303.9h1.2M144.1 308.1h1.2M156 275.3h1.2M157.8 286.3h1.2M136.1 296.1h1.2M153.7 289.6h1.2M156.5 303.3h1.2M124.5 337.2h1.2M184.2 265.6h1.2M150.8 298.4h1.2M182.7 298.3h1.2M127.3 285.5h1.2M159.5 290h1.2M152.9 294.9h1.2M131.1 323.2h1.2M149.1 305h1.2M144.6 294.7h1.2M142.2 325.5h1.2M157.4 297.5h1.2M178.5 278.2h1.2M144.9 276.9h1.2M175.9 285.5h1.2M132.8 298.7h1.2M159.8 288.5h1.2M165.9 268.1h1.2M159.2 299.1h1.2M154 281h1.2M135.4 309.2h1.2M177.6 262.8h1.2M155.7 305.4h1.2M170.3 297.2h1.2M143.4 298.7h1.2M164.8 282.7h1.2M149.5 288.1h1.2M141.5 299.1h1.2M143.8 297.7h1.2M149.9 296.1h1.2M180.3 292h1.2M161.6 308.2h1.2M148.2 274.4h1.2M150.5 282h1.2M166.4 277.5h1.2M184.4 283.6h1.2M143.9 294.4h1.2M164 275.6h1.2M161.2 301.5h1.2M159 300.3h1.2M182.3 272.4h1.2M161.3 282h1.2M124 328.5h1.2M159.9 297.4h1.2M171.1 251h1.2M164.4 256.7h1.2M158.7 251.1h1.2M174.6 252.8h1.2M177.5 249.2h1.2M168.4 250.2h1.2M168 259.4h1.2M191.7 246h1.2M175.8 248.8h1.2M153.1 257.1h1.2M168.2 253.5h1.2M162.2 257.9h1.2M184.3 247.1h1.2M177.3 255.1h1.2M184.5 253.1h1.2M183.6 250.5h1.2M154.7 254h1.2M164.8 251.2h1.2M162.2 256h1.2M170.7 252.2h1.2M178.7 261.5h1.2M159.1 255.3h1.2M159.4 263.7h1.2M180.2 244.5h1.2M175.3 245.7h1.2M176.4 252.6h1.2M169.8 245.6h1.2M174.3 254.1h1.2M187.7 249.5h1.2M170.2 251h1.2M179.5 255.7h1.2M182.2 255.2h1.2M167.9 248.2h1.2M175.1 260.4h1.2M185.8 246h1.2M198.7 252.3h1.2M180.6 246.2h1.2M181.7 255.7h1.2M197.8 243.5h1.2M170.7 260.6h1.2M187.3 253.6h1.2M165.3 253h1.2M176.1 255.2h1.2M182.1 247.1h1.2M155 265.2h1.2M171 253.7h1.2M181.6 243.7h1.2M171.5 252.5h1.2M177.7 252h1.2M178.4 245.5h1.2M165.8 251.7h1.2M187.1 255.7h1.2M174.4 256.9h1.2M168.8 251.9h1.2M188.6 248.2h1.2M192.3 259.8h1.2M159.3 261.3h1.2M169.2 257.1h1.2M145.7 265.8h1.2M162.7 258.7h1.2M179 256.2h1.2M173.2 255.4h1.2M166.8 248.2h1.2M164.4 254.1h1.2M168.8 256h1.2M176.9 258h1.2M194.7 241.5h1.2M175 255.5h1.2M170.6 258.1h1.2M146.6 265.9h1.2M167.2 246.1h1.2M172.3 263.9h1.2M174.4 264h1.2M199.6 246.8h1.2M170.1 258.4h1.2M192.9 256.7h1.2M175.6 248.7h1.2M188.4 239.7h1.2M170.2 255.2h1.2M178 249.3h1.2M176.1 257.7h1.2M172.2 250h1.2M182.6 251.7h1.2M160 254.6h1.2M195.3 245.9h1.2M178.7 249.7h1.2M171 254.4h1.2M168 259.6h1.2M187 253.7h1.2M167.2 252.7h1.2M150.4 266.9h1.2M167.3 249.6h1.2M160.2 262.3h1.2M170.6 258.7h1.2M176.6 257.7h1.2M171.7 239.7h1.2M187.4 242.7h1.2M191.4 248.8h1.2M162.7 254.7h1.2M163.5 259h1.2M177.1 245.8h1.2M152.5 267.3h1.2M175.5 246.4h1.2M186.9 255.6h1.2M179.5 254.6h1.2M161.9 242.4h1.2M180.4 247.5h1.2M196.5 244.2h1.2M178.6 248.2h1.2M154.3 257.3h1.2M198.6 245.8h1.2M150.3 266.7h1.2M186 245.5h1.2M174.1 253.6h1.2M163.4 257.5h1.2M153.9 262h1.2M183.6 246h1.2M182.1 255h1.2M181.8 258.6h1.2M171.5 250.4h1.2M183.1 253.4h1.2M146.3 263h1.2M162.7 255.3h1.2M176.1 260.9h1.2M176.6 249.2h1.2M165.9 257.3h1.2M181.7 265.3h1.2M159.9 255.2h1.2M183.9 248.5h1.2M172.2 245.6h1.2M153.4 263.8h1.2M161.2 261.7h1.2M167.1 257.4h1.2M185.9 245.5h1.2M164.6 262.6h1.2M172.5 253.3h1.2M182 245.8h1.2M170.1 248.2h1.2M157.1 262.4h1.2M187.6 250.1h1.2M154.2 259.3h1.2M176.4 252.6h1.2M185.4 245.5h1.2M175.7 251.1h1.2M170.8 252.7h1.2M176.5 246.3h1.2M169.1 256.9h1.2M184.6 255.6h1.2M176.4 258.7h1.2M187.8 248.4h1.2M198.9 253.4h1.2M168.6 254.6h1.2M166.4 255.3h1.2M177.1 253.9h1.2M168.2 257.9h1.2M188.5 253.5h1.2M179.9 249.8h1.2M171.2 263.1h1.2M171.8 250.3h1.2M186 258.2h1.2M156.5 267.8h1.2M161.7 262h1.2M172.4 250.8h1.2M159.2 253h1.2M156.5 257.2h1.2M184.3 248.8h1.2M195.6 245.2h1.2M163.8 256.7h1.2M191.4 244h1.2M173.7 258.8h1.2M167 258.4h1.2M169.9 253.7h1.2M170.3 253.4h1.2M179 243.6h1.2M155.8 256.8h1.2M152 255.6h1.2M157.1 258.2h1.2M150.8 259.3h1.2M165.4 261.4h1.2M149.7 252.6h1.2M39.3 304.5h1.2M58.5 326.7h1.2M174 227.4h1.2M137.1 284.9h1.2M150.6 249.7h1.2M50.7 311.7h1.2M36.1 282.3h1.2M141.7 306.9h1.2M137.3 340.7h1.2M179.4 280.7h1.2M113.6 263.7h1.2M130.1 342.5h1.2M155.2 282.5h1.2M116.6 262.7h1.2M138.7 252.3h1.2M157 278.4h1.2M90 294.2h1.2M96.9 283.9h1.2M83.7 298.9h1.2M37.3 282.1h1.2M147.8 310.7h1.2M146.9 323.4h1.2M132.3 341.1h1.2M94.7 225.4h1.2M35.2 229.1h1.2M118.5 234.3h1.2M47.2 305.2h1.2M39.9 286.6h1.2M162.2 319.3h1.2M130.9 243.4h1.2M70.5 327h1.2M197.5 271.9h1.2M162.3 306.9h1.2M102.2 315.6h1.2M75.3 302h1.2M149.2 280.2h1.2M91.6 330.5h1.2M80.2 258.3h1.2M50.3 278h1.2" stroke="#000" stroke-width="1.2" fill="none"/>
<path d="M38.3 325.9h1.5M63.6 323.2h1.5M49.4 320.5h1.5M43.5 320h1.5M37.5 322.2h1.5M61.5 321.9h1.5M53.8 323.4h1.5M59.5 326h1.5M77.1 336.4h1.5M60.5 338.7h1.5M55 335.5h1.5M65.3 321.9h1.5M61.6 338.5h1.5M73.7 332.6h1.5M68.2 338.1h1.5M59.5 337.8h1.5M86.1 326.6h1.5M87.2 340.8h1.5M68.8 336.9h1.5M79.2 329.3h1.5M44.3 336.5h1.5M85.6 329.6h1.5M81.6 322.2h1.5M63.1 337.1h1.5M50.8 342.3h1.5M66.9 338h1.5M75.5 341.5h1.5M63.2 324.7h1.5M66 333.5h1.5M55.7 324.4h1.5M68.4 342.2h1.5M74.7 323.1h1.5M77.8 318.9h1.5M47.9 334h1.5M78 329.8h1.5M69.6 325.8h1.5M54.1 340.3h1.5M82.2 327.3h1.5M46.4 322.4h1.5M43 335.8h1.5M76.7 341.4h1.5M86.4 326.9h1.5M52.3 337.6h1.5M62 321.1h1.5M53 338h1.5M68.9 330h1.5M81 336.6h1.5M81 329.9h1.5M70 318.4h1.5M71.5 326.9h1.5M53.7 322.8h1.5M56.5 324.1h1.5M40.7 340.2h1.5M44.8 327.8h1.5M45.9 338.5h1.5M69.7 338.6h1.5M70.8 333.6h1.5M40.8 331.4h1.5M52.1 321.4h1.5M74.6 338.6h1.5M78.6 321h1.5M71.2 328.6h1.5M65 341.4h1.5M39.3 338.6h1.5M59 335h1.5M86.6 334.5h1.5M44.5 339.6h1.5M50.2 336.1h1.5M77.4 334.5h1.5M73.8 325.9h1.5M79.7 321.8h1.5M60.2 339h1.5M37.4 339.2h1.5M75.8 333.9h1.5M84 338.8h1.5M62.5 318.1h1.5M58.2 325.1h1.5M45.9 332.7h1.5M50.4 341.4h1.5M63.6 342.9h1.5M76.1 334.6h1.5M37.3 322.8h1.5M59.3 332.1h1.5M38.4 334.2h1.5M65.9 340.1h1.5M58.9 340.2h1.5M64 338.5h1.5M48.6 331.3h1.5M43.9 338.8h1.5M81.4 328h1.5M83 332.8h1.5M65.6 331.5h1.5M83.5 328.4h1.5M58.5 342.1h1.5M59.2 326h1.5M54.9 333.3h1.5M41.9 324.1h1.5M55.1 342h1.5M59.1 326.5h1.5M74.6 333.6h1.5M50.7 341.3h1.5M57 335.8h1.5M76.9 335.1h1.5M65.6 321.6h1.5M69.9 325.8h1.5M61.2 330.1h1.5M48.7 335.6h1.5M58.3 332h1.5M64.3 325.3h1.5M76.6 333h1.5M55.8 328.3h1.5M45.3 339.3h1.5M38.7 327.9h1.5M87.1 330h1.5M70.2 335.6h1.5M77.3 332h1.5M81.1 328.6h1.5M67.4 321.6h1.5M44.5 331.5h1.5M65.2 340.5h1.5M39.9 342h1.5M63.9 342.2h1.5M85.1 318.9h1.5M59.6 341h1.5M60.2 330.5h1.5M50.6 338.5h1.5M78.3 333.2h1.5M83.9 330.4h1.5M64.3 324.6h1.5M60.3 328.5h1.5M43.7 330.2h1.5M70.4 335.2h1.5M44.4 322h1.5M51 321.8h1.5M54.1 339.6h1.5M50.7 333.2h1.5M68.9 333.4h1.5M70 323.7h1.5M80.2 323.7h1.5M75.8 333.4h1.5M77.6 324.6h1.5M50 340.7h1.5M66 324.7h1.5M82.7 333.8h1.5M66.8 327.3h1.5M50.4 325.4h1.5M73.3 329.4h1.5M55.7 323.4h1.5M70 330h1.5M81.1 339h1.5M65.7 331.3h1.5M60.1 325h1.5M60.3 330.2h1.5M68.3 342.3h1.5M84.1 330.8h1.5M63.3 329.8h1.5M69 340.2h1.5M70.5 323.5h1.5M76.8 328h1.5M42.3 328.7h1.5M65.6 328.5h1.5M41.9 331.2h1.5M39.7 337.3h1.5M44.6 329.1h1.5M86.5 335.4h1.5M67.5 329.5h1.5M74.9 339.7h1.5M67 330.1h1.5M68.3 332.2h1.5M54.2 336.5h1.5M70.5 321.3h1.5M51.3 339.8h1.5M62.6 331.7h1.5M61.3 327.6h1.5M66.9 323h1.5M43.5 322.4h1.5M63.5 330.4h1.5M51.6 338.6h1.5M37.6 334.6h1.5M76.6 341.5h1.5M44.8 341.8h1.5M88 332h1.5M61.3 326.2h1.5M55.8 342.9h1.5M38.2 326.4h1.5M36.1 333.2h1.5M69.8 327.7h1.5M72.1 337.2h1.5M57 339.1h1.5M82.7 330.4h1.5M52.6 342h1.5M63.5 336.4h1.5M44 334.1h1.5M57.1 334.4h1.5M74.1 341.4h1.5M59.3 330.5h1.5M47.9 337.8h1.5M61 327.9h1.5M79.4 336.1h1.5M66.6 331.7h1.5M51.7 340.4h1.5M81.6 331.7h1.5M41.8 329.6h1.5M73.6 321.5h1.5M60.8 320.5h1.5M62.8 339.6h1.5M49 334.4h1.5M52.6 342.5h1.5M42.4 329.5h1.5M63.5 320.9h1.5M70.7 336.4h1.5M36.6 326.4h1.5M49.6 334.9h1.5M60.7 317.6h1.5M84.9 341.8h1.5M64.5 322.6h1.5M64.8 329.3h1.5M65.7 328.9h1.5M46 331.6h1.5M61.3 342.9h1.5M45.1 340.6h1.5M77.3 327.4h1.5M76.1 329.1h1.5M74.3 339.3h1.5M51.7 324.3h1.5M60.4 324.7h1.5M42.5 341.9h1.5M66.3 338.6h1.5M47.4 331.6h1.5M79.4 322.6h1.5M64.4 331.5h1.5M47.5 327.9h1.5M69.2 326.8h1.5M57.6 330.9h1.5M71.8 323.8h1.5M84 328.6h1.5M37.2 331.7h1.5M52.3 331h1.5M81.8 330.6h1.5M42.9 335.3h1.5M66 318.6h1.5M86.9 338.5h1.5M46.8 341.2h1.5M83.5 342h1.5M50.6 339.7h1.5M66.9 321.3h1.5M69.7 326.7h1.5M40.5 323.3h1.5M78.7 321.3h1.5M78.7 324.1h1.5M41.8 321.1h1.5M63.2 342.6h1.5M86.1 336.2h1.5M55.9 326h1.5M59 327.9h1.5M56.6 322h1.5M44.1 321.8h1.5M40.8 335h1.5M71.6 332.4h1.5M52.1 326h1.5M87.4 330h1.5M83.4 329.6h1.5M75.2 337h1.5M61.7 332.6h1.5M77.3 329h1.5M35.9 316.4h1.5M85.4 331.3h1.5M86.8 338.4h1.5M66.7 325.2h1.5M67.4 326.5h1.5M73.3 337.6h1.5M38.3 322.4h1.5M73.3 333.5h1.5M57 331.5h1.5M37.4 337.8h1.5M59.5 339.6h1.5M84 336.1h1.5M67 326.3h1.5M50.7 337.9h1.5M63.1 335.9h1.5M78.1 327.3h1.5M42.8 320.1h1.5M86.1 334.8h1.5M43.9 328.3h1.5M45 337.7h1.5M37.2 334.7h1.5M82 322.5h1.5M68.3 335h1.5M67.6 321.1h1.5M56.3 323.5h1.5M42.9 336.7h1.5M54.7 340.9h1.5M43.3 335h1.5M67.8 341.5h1.5M73.4 324.4h1.5M63.6 321.1h1.5M53.3 332.9h1.5M51.8 331.4h1.5M74.8 326.8h1.5M44.7 321.7h1.5M83.9 326.7h1.5M60.3 338h1.5M65.7 327.8h1.5M80.1 329.4h1.5M44.6 322.2h1.5M82.1 331.6h1.5M81.1 333.3h1.5M57.7 328.9h1.5M43.8 331.2h1.5M77.5 326h1.5M37.6 323.9h1.5M76.3 326.8h1.5M69.9 317.7h1.5M44.9 341h1.5M36.6 340.3h1.5M43.6 322.9h1.5M75.1 340.5h1.5M60.5 330.5h1.5M86.9 340.2h1.5M46.5 335.7h1.5M87.7 330.6h1.5M88.4 331.3h1.5M53.4 329.5h1.5M39.9 340.5h1.5M79 327.4h1.5M69.9 321.3h1.5M72.5 341.6h1.5M46.6 328.8h1.5M41.2 324.3h1.5M51.1 327.8h1.5M80.4 337.5h1.5M39.1 338.4h1.5M77.2 341.9h1.5M49 341.8h1.5M54.5 342h1.5M67.3 326.3h1.5M79.7 324.7h1.5M60.2 340.9h1.5M63.8 341.2h1.5M74.8 332h1.5M71.5 326.8h1.5M82.5 323h1.5M50.3 342.4h1.5M86.8 334.6h1.5M85.8 334.5h1.5M73.3 325.7h1.5M39.3 323.3h1.5M57.5 328.4h1.5M78.3 338.8h1.5M47.4 339h1.5M60.6 327.5h1.5M53.5 321.8h1.5M42.3 334.9h1.5M66.1 334h1.5M55.9 341.8h1.5M77.7 333h1.5M39.3 325.8h1.5M82.8 331.9h1.5M59.3 336.2h1.5M74.4 322.1h1.5M48.5 342.3h1.5M39.8 326.5h1.5M38.6 320.4h1.5M49.9 326.1h1.5M43.7 339h1.5M65.9 334.9h1.5M66.8 325.6h1.5M86.8 326.1h1.5M68.1 329.8h1.5M65.2 339.2h1.5M52.8 338.4h1.5M38.6 336.8h1.5M69.8 322.1h1.5M45.6 342.8h1.5M88.4 341.9h1.5M69.9 335.2h1.5M38.7 337.2h1.5M60.2 318.7h1.5M42.3 333.4h1.5M35.7 331.6h1.5M58 341.4h1.5M82 342.6h1.5M42.1 331.4h1.5M89.4 340.2h1.5M57.5 338.6h1.5M54.1 336.2h1.5M83.8 330.3h1.5M53.5 337.4h1.5M46.3 321.6h1.5M87.9 322.8h1.5M84.2 325.5h1.5M76.3 327.2h1.5M74.3 321.7h1.5M59.8 337.5h1.5M81.9 338.8h1.5M58.2 337.4h1.5M61.4 337.8h1.5M47.2 342.2h1.5M64 323.5h1.5M73.9 332.7h1.5M50.7 327.9h1.5M43.6 329.2h1.5M40.7 334.7h1.5M63 329h1.5M43.9 340.2h1.5M59.8 323.2h1.5M67.8 323.1h1.5M39.1 339.6h1.5M77.5 325.8h1.5M44.9 329h1.5M43.5 330.4h1.5M69.2 335.5h1.5M85.6 338.6h1.5M45.4 337.7h1.5M70.5 327.2h1.5M62.7 341.3h1.5M48.4 329.9h1.5M64.8 321.3h1.5M59.9 320.9h1.5M54.4 340.5h1.5M82.8 331.8h1.5M66.1 327.1h1.5M75.1 320.7h1.5M37.9 342.2h1.5M83.3 336.4h1.5M48.9 340.2h1.5M61.4 331.9h1.5M41.9 326.2h1.5M49.8 327.8h1.5M63.2 332.9h1.5M74.1 335h1.5M77.6 320.5h1.5M58.2 340.5h1.5M50.1 334.7h1.5M67.9 331.1h1.5M57.7 336h1.5M45.7 336h1.5M76.3 341.5h1.5M77 320.8h1.5M44 331.9h1.5M38.7 336h1.5M72.3 341h1.5M77.7 337h1.5M41.3 323.8h1.5M58.1 328.7h1.5M73.8 341.8h1.5M53.8 324.6h1.5M77.2 338.7h1.5M39.4 330.9h1.5M65.9 320.3h1.5M48.9 337.5h1.5M72 325.7h1.5M38.7 328.4h1.5M73.9 333.5h1.5M61.1 328.9h1.5M71.4 340.3h1.5M41.8 340.5h1.5M79.3 342.3h1.5M70.5 334h1.5M39.9 338.8h1.5M81.6 325.4h1.5M45.7 331h1.5M59.3 330.7h1.5M54.8 328.9h1.5M76.7 322h1.5M76.2 340.9h1.5M41.7 339.1h1.5M80.5 328.9h1.5M45.2 328.8h1.5M77 325.3h1.5M44 329h1.5M58.6 325.3h1.5M41.3 339.9h1.5M69.5 322.8h1.5M57 323.7h1.5M66.3 334h1.5M90 327.5h1.5M78.5 328.6h1.5M46.3 340.8h1.5M60.8 322.9h1.5M66.8 326.6h1.5M50.9 331.3h1.5M37.2 325.6h1.5M51.6 329.7h1.5M50.3 333.8h1.5M46.9 324.6h1.5M44.1 324.6h1.5M43.5 341.4h1.5M79.9 336.8h1.5M61 322.5h1.5M73.7 334.1h1.5M77.8 337.3h1.5M80 326.1h1.5M67.5 331.8h1.5M82.6 339.9h1.5M42.1 328.8h1.5M45.6 335.1h1.5M71.7 329h1.5M53.6 334.5h1.5M47.5 335.2h1.5M53.8 322.9h1.5M56.3 336.6h1.5M80.5 336.8h1.5M56 323.1h1.5M84.2 322.2h1.5M46.6 334.2h1.5M81.8 332.9h1.5M79.6 330.3h1.5M46.3 341h1.5M77.9 322.4h1.5M78.9 332.9h1.5M74.4 340h1.5M83.1 339.2h1.5M58.7 336.9h1.5M60.5 324.8h1.5M49.8 324.6h1.5M62.9 329h1.5M84.1 339.1h1.5M71.4 322.6h1.5M79.4 322.2h1.5M83.9 342.4h1.5M67.2 329.6h1.5M65.7 336.4h1.5M44.1 340.4h1.5M64.1 324.3h1.5M69.1 330.2h1.5M40.2 339.7h1.5M37.9 323.6h1.5M83.7 341.1h1.5M39.6 335.7h1.5M77.4 331h1.5M67.8 337.1h1.5M80.6 332.1h1.5M62.8 338.4h1.5M63.7 342.3h1.5M49.2 335.7h1.5M67.2 335.1h1.5M81.6 326.5h1.5M47.8 322.5h1.5M83.9 329.2h1.5M50.4 325.6h1.5M72.5 333.6h1.5M82 324.3h1.5M77.4 335h1.5M51 332h1.5M66.1 324.5h1.5M75.4 318.8h1.5M84.2 335.3h1.5M74.4 342.8h1.5M86.3 340.6h1.5M64 341.9h1.5M68.8 326.8h1.5M49.3 340.8h1.5M57.3 320.1h1.5M54.6 321.4h1.5M86.1 324h1.5M87.1 320.8h1.5M84.3 322.8h1.5M56.8 332.2h1.5M86.4 341.1h1.5M73.3 338.2h1.5M48.2 332.5h1.5M62.7 323.6h1.5M42 332.9h1.5M62 336h1.5M86.2 339.4h1.5M55.7 331.7h1.5M53.9 326h1.5M40 325.6h1.5M64.3 329.4h1.5M70.7 325.1h1.5M84.3 341.8h1.5M53.3 319.6h1.5M49.1 336h1.5M83.1 330.6h1.5M40.7 328.4h1.5M54.9 335.2h1.5M63.1 327.9h1.5M83.7 334.9h1.5M66.7 336.5h1.5M83.6 331.3h1.5M81.9 327.3h1.5M74.7 333.9h1.5M78.2 337.4h1.5M46.3 324.7h1.5M78.3 324.5h1.5M78.2 324.8h1.5M53.9 328.3h1.5M49.3 330.3h1.5M51.6 329.2h1.5M79.6 338.2h1.5M71.9 333.5h1.5M60 333.4h1.5M41.5 332.6h1.5M82.5 340h1.5M37.8 322.1h1.5M45.9 329.5h1.5M84.4 328h1.5M65.2 342.3h1.5M52.4 327.1h1.5M62.9 330h1.5M67.8 336.6h1.5M75.1 328.9h1.5M67.3 321.8h1.5M39.8 325.6h1.5M46.5 331.9h1.5M49.4 328.8h1.5M58.5 329.5h1.5M64.1 327.9h1.5M78.7 340.8h1.5M48.4 325.5h1.5M41.2 329.2h1.5M78.2 332.8h1.5M65.7 338.2h1.5M53.4 340.5h1.5M39.6 334.5h1.5M49.3 339.6h1.5M79.4 336.8h1.5M63.9 327.6h1.5M40 332.2h1.5M62 326.8h1.5M59.3 339.6h1.5M76.9 332.5h1.5M41.6 332.4h1.5M56.6 327.6h1.5M82.3 335.7h1.5M74.5 326.4h1.5M69.8 330.4h1.5M57.3 321.2h1.5M50.2 321.8h1.5M42.8 329.2h1.5M52.5 328.3h1.5M59.9 328.5h1.5M59.1 335.9h1.5M79.9 324.9h1.5M58.2 323.6h1.5M69.6 334.5h1.5M47.9 336.8h1.5M55.2 342h1.5M85.5 329.9h1.5M133 338.2h1.5M90.7 315.5h1.5M101.9 319.9h1.5M97 334.5h1.5M113.9 340h1.5M92.5 322.3h1.5M114.5 341.6h1.5M92.6 314.7h1.5M125.9 306.7h1.5M104.5 340.8h1.5M108.8 320.5h1.5M130.7 310.4h1.5M95.2 338.9h1.5M115 320h1.5M125.5 335.6h1.5M113.4 340.9h1.5M134.2 322h1.5M136.7 320.7h1.5M89.5 330h1.5M135.1 314.9h1.5M131.5 338.8h1.5M94.2 343h1.5M123.9 309.6h1.5M103.9 337.4h1.5M103.2 318.6h1.5M114.2 321.2h1.5M94.2 318.1h1.5M123.7 337.8h1.5M135.7 326.2h1.5M105.8 331.4h1.5M141.3 331.1h1.5M134 318.2h1.5M110.1 334.9h1.5M110.5 311.5h1.5M121.2 327.4h1.5M91.5 326h1.5M98.1 322.3h1.5M116.8 327.4h1.5M104.3 329.3h1.5M115.7 314.6h1.5M95 327.7h1.5M136.8 320h1.5M106.6 340.7h1.5M99.7 335.4h1.5M92.3 308.1h1.5M113.4 305h1.5M108.1 317.3h1.5M122.6 333.1h1.5M121.2 342.1h1.5M91.7 337.9h1.5M94.6 308.7h1.5M110.4 315.6h1.5M107.9 340.8h1.5M108.8 322.3h1.5M117.2 329.3h1.5M111.4 328.1h1.5M132.9 331.1h1.5M116 314.5h1.5M102 336.6h1.5M108.5 322.6h1.5M99.6 327.8h1.5M119.3 315h1.5M128.7 312.7h1.5M121 317h1.5M134.8 327.2h1.5M125.8 310.4h1.5M118.4 336.3h1.5M133.3 317.2h1.5M121.8 341.1h1.5M89.8 338.1h1.5M119.5 341.3h1.5M129.6 329.3h1.5M125.6 327.1h1.5M100 318h1.5M96.4 307.7h1.5M88.6 334.6h1.5M97.7 329h1.5M92.6 319.7h1.5M101.9 331.1h1.5M92.1 338.8h1.5M95.4 318.3h1.5M94.8 313.7h1.5M99.3 324.2h1.5M106.1 315h1.5M128.1 339h1.5M135.2 339.6h1.5M119.8 310.6h1.5M112.4 320h1.5M113.7 331h1.5M134.5 327.3h1.5M132.6 340.8h1.5M117.6 339.8h1.5M106.7 310.3h1.5M126.8 341.9h1.5M134.7 310.4h1.5M116.4 315.7h1.5M95.4 331.9h1.5M112.6 328.7h1.5M104 314.1h1.5M89 341.9h1.5M120.9 323.3h1.5M118.8 330.7h1.5M117.6 312.1h1.5M94.4 337.4h1.5M121.8 337.6h1.5M109 315.8h1.5M106.2 326.6h1.5M104.7 310.8h1.5M109.4 337.4h1.5M115.6 309.5h1.5M126.5 335.2h1.5M117 312.3h1.5M88.2 325.4h1.5M111.5 341.1h1.5M125.4 314.3h1.5M109.3 318.4h1.5M89 321.9h1.5M134.3 330h1.5M115.4 310.1h1.5M97.5 321h1.5M134.1 316.3h1.5M90.9 310.4h1.5M91.9 317.5h1.5M93 333.2h1.5M99.1 333.8h1.5M114.6 316.2h1.5M134.9 315.8h1.5M101.7 332.3h1.5M133.1 339.1h1.5M103.9 323.8h1.5M105.5 341.9h1.5M120.5 329.7h1.5M132.6 316.9h1.5M119.9 342.3h1.5M109.4 313.6h1.5M104.4 339.4h1.5M105.1 339.8h1.5M132 319.6h1.5M103.8 309.7h1.5M95.1 334h1.5M102.4 324.4h1.5M108.7 318.3h1.5M136.4 328.2h1.5M111.1 340.7h1.5M132.5 330.9h1.5M135.1 331.3h1.5M118 333.5h1.5M126 329h1.5M97.9 321.5h1.5M108.4 340.9h1.5M89.1 324.3h1.5M93 326.1h1.5M110.5 318.7h1.5M130.3 336h1.5M94.1 337.3h1.5M91.2 322h1.5M130 334.4h1.5M114 342.8h1.5M94.7 327.7h1.5M130.6 319.8h1.5M117.1 317.3h1.5M127.8 309.8h1.5M134.4 322.4h1.5M99.3 321.1h1.5M95.4 320.2h1.5M135.1 322h1.5M104.3 314.9h1.5M118.1 332.8h1.5M117.6 324.8h1.5M96.5 335.8h1.5M104.2 312h1.5M90.6 336.5h1.5M114.7 320.6h1.5M120 318.9h1.5M89.9 330.2h1.5M131.3 335h1.5M100.8 329.7h1.5M112 325.7h1.5M89.4 316h1.5M107.5 313.1h1.5M91.5 318.5h1.5M116.3 317.5h1.5M105.6 326.3h1.5M133.8 333.3h1.5M92.6 329.1h1.5M114.9 315h1.5M135.7 328.5h1.5M102 340.8h1.5M134.9 326.9h1.5M140.3 313.3h1.5M89.9 336.8h1.5M114.6 315.6h1.5M111.4 341.8h1.5M110.1 333.7h1.5M128.6 311.8h1.5M128.4 308.6h1.5M97.6 321.4h1.5M115.7 339.6h1.5M135.4 341h1.5M103.8 328.5h1.5M99.3 315h1.5M120.2 320.9h1.5M109.6 338.6h1.5M102.6 330.3h1.5M128 307.5h1.5M136.1 326.4h1.5M102.7 338.5h1.5M95.4 311.4h1.5M112 318h1.5M110.5 338.1h1.5M132 331.8h1.5M137.6 340.5h1.5M118.1 314.9h1.5M118.3 327.6h1.5M116.1 327.3h1.5M87.9 330.5h1.5M114.7 314.1h1.5M119.5 332h1.5M102.9 338.6h1.5M118.7 317.2h1.5M111.3 338.9h1.5M137 328.1h1.5M112.1 336.6h1.5M116.6 338.1h1.5M97.7 335.7h1.5M125.1 338h1.5M111 324.8h1.5M94.6 317.9h1.5M113.6 319.4h1.5M98.1 313.9h1.5M104.4 311.6h1.5M105.3 341.8h1.5M115.4 328.1h1.5M114 319.3h1.5M124.4 326.2h1.5M115.7 318.5h1.5M131.8 338.6h1.5M128 339h1.5M91.9 319.3h1.5M103.8 341.1h1.5M90.6 310.9h1.5M134.1 337.7h1.5M86.9 312.3h1.5M98.7 340.4h1.5M117.3 310.4h1.5M91.6 323.1h1.5M134 332.8h1.5M101.6 317.3h1.5M93.8 336.5h1.5M93.6 333.9h1.5M104.4 337.1h1.5M112.1 340.8h1.5M116.9 312.3h1.5M91.1 313.6h1.5M96.9 320.5h1.5M101.5 326.3h1.5M89.7 338.6h1.5M95.8 339h1.5M106.1 340.7h1.5M107.7 317.2h1.5M122.6 328.2h1.5M141.3 341.2h1.5M95.9 328.1h1.5M128.7 333.5h1.5M91.4 337.1h1.5M93 314.8h1.5M92.4 331.8h1.5M91 317.3h1.5M97.3 326.2h1.5M116.5 342.6h1.5M126.9 321.7h1.5M134.1 340.6h1.5M135.1 336.5h1.5M102 305.9h1.5M131.2 313.1h1.5M120.2 327.3h1.5M123.3 330.5h1.5M122.1 340.4h1.5M99.7 321.9h1.5M137.5 323.4h1.5M107.1 340.9h1.5M93.8 309.1h1.5M112.8 328.2h1.5M117.1 340h1.5M118.8 319h1.5M116.5 340.6h1.5M137.5 334.1h1.5M115.9 318.6h1.5M124.8 332.5h1.5M124.9 328.2h1.5M116.7 309.8h1.5M116.7 315.7h1.5M132.8 308.7h1.5M102.1 315h1.5M127.8 337.6h1.5M108.1 322.3h1.5M124 313.3h1.5M138.1 326.1h1.5M108.5 311.7h1.5M130.4 317.1h1.5M111.1 333.1h1.5M99.4 322.5h1.5M94.6 310.1h1.5M132.4 310.7h1.5M133.6 325.1h1.5M124.7 326.1h1.5M104.4 331.4h1.5M136.3 331.7h1.5M113 320.2h1.5M111.3 341.4h1.5M130.2 320.8h1.5M86.9 318.1h1.5M126.5 311.5h1.5M106.7 328.7h1.5M123.9 330.3h1.5M105.4 335.3h1.5M95.1 330.8h1.5M120.4 336.7h1.5M116.7 340h1.5M106 323.1h1.5M108 341.2h1.5M135.3 335.8h1.5M93.7 315.2h1.5M121 319.7h1.5M107.9 333.1h1.5M136.5 315.2h1.5M140.3 340.4h1.5M126.1 335.5h1.5M118.8 328.9h1.5M108.2 319h1.5M94 325.9h1.5M113.9 335.2h1.5M126.1 330.3h1.5M125.8 320.1h1.5M106.6 341.2h1.5M96.6 326.5h1.5M113.4 340.1h1.5M86 331.5h1.5M116.3 342.6h1.5M122.3 320.3h1.5M87.2 308.3h1.5M126.8 340.8h1.5M105.5 331.1h1.5M118.2 321h1.5M120.7 320.6h1.5M134.7 327h1.5M136.3 340.3h1.5M121.3 313.8h1.5M108.2 338.9h1.5M124.5 317.5h1.5M129.5 339.6h1.5M105.5 316.1h1.5M135.5 329.1h1.5M92.5 331.4h1.5M88.8 340.2h1.5M97.8 342.5h1.5M119.6 332.4h1.5M137.9 335.9h1.5M107.4 322.1h1.5M94.8 316.8h1.5M125.6 328.3h1.5M138.9 312.7h1.5M90 317.1h1.5M124.4 328.9h1.5M113.5 312.5h1.5M120.6 312.5h1.5M102.7 333.2h1.5M100.5 329.6h1.5M128.8 313.3h1.5M92.3 328.9h1.5M127.3 334.3h1.5M111.7 325h1.5M115.3 314.2h1.5M135.9 314.6h1.5M122.2 336.1h1.5M131.3 313.5h1.5M113.3 341.1h1.5M128.3 337.3h1.5M107.9 313.1h1.5M111.9 318.1h1.5M131.4 342.5h1.5M120.9 341.2h1.5M129.3 337.2h1.5M115.7 333.3h1.5M115.3 320.9h1.5M128.6 319.9h1.5M107.9 311.2h1.5M128.3 330h1.5M117.9 333.3h1.5M97.1 336.4h1.5M122.7 318.1h1.5M125.5 335.9h1.5M95 330.9h1.5M103.5 320.8h1.5M115.8 313.2h1.5M100.2 340.3h1.5M124.9 333.2h1.5M130.5 334.7h1.5M109.4 308.9h1.5M88.5 328.5h1.5M105.7 327.5h1.5M123.4 324.4h1.5M118.2 330.6h1.5M112.2 337.3h1.5M126.1 338.5h1.5M136.2 312.8h1.5M113.7 311.2h1.5M105.4 318.4h1.5M127.3 333.3h1.5M97.5 311.4h1.5M94.2 316.6h1.5M118.4 317.6h1.5M97.7 322.7h1.5M127.4 339.5h1.5M105.7 327.1h1.5M111.9 327.2h1.5M106.6 325.9h1.5M94.6 331.4h1.5M102.7 335.5h1.5M120.3 326.4h1.5M100.4 331.3h1.5M121.7 337.7h1.5M110.6 321.2h1.5M99.6 320.9h1.5M131.5 311.1h1.5M102.6 314.7h1.5M138.5 328.8h1.5M121.7 339.6h1.5M126.3 320.8h1.5M136.6 331.2h1.5M109.4 328.1h1.5M123.5 326.7h1.5M91.3 332.7h1.5M125.7 312.9h1.5M95 317.2h1.5M101.6 340.2h1.5M125.7 327.6h1.5M122.4 305.5h1.5M106.3 325.8h1.5M92.3 341h1.5M90.7 340.3h1.5M127.6 341.8h1.5M101.5 321.5h1.5M101.8 314h1.5M84.5 339.4h1.5M116.1 341.5h1.5M124.7 311.3h1.5M133.9 319.8h1.5M134.4 318h1.5M97.2 318h1.5M89.6 340.9h1.5M107.1 324.8h1.5M101.6 304.5h1.5M91.7 331.8h1.5M131.4 326.6h1.5M103.6 336h1.5M126 336.4h1.5M104.1 342.6h1.5M100.2 325.8h1.5M104.9 323.8h1.5M121 341.8h1.5M104 314.6h1.5M126 318h1.5M110.8 342.2h1.5M124.8 341.3h1.5M104.3 334.4h1.5M123.3 332.1h1.5M114.4 336.5h1.5M138.9 337.6h1.5M119.5 331.5h1.5M109.9 326h1.5M118.6 328.3h1.5M103.2 318.6h1.5M117.4 321.9h1.5M97.9 333.6h1.5M138.5 308h1.5M131 338.9h1.5M98.8 318h1.5M97 328.6h1.5M115.3 318.3h1.5M123.2 338.2h1.5M106.3 329.1h1.5M130.1 312.4h1.5M94.6 325.9h1.5M117.2 326.8h1.5M109.6 328.5h1.5M133.9 310.6h1.5M124.5 337.6h1.5M132.3 331.8h1.5M126.8 330.9h1.5M95.5 315.5h1.5M102.8 328.4h1.5M105.2 327.5h1.5M95.5 318.4h1.5M131.7 325.1h1.5M131.9 342.9h1.5M126.8 319.6h1.5M88.9 326.7h1.5M136.3 321.6h1.5M129 333h1.5M97.1 324.4h1.5M101.2 342.9h1.5M116.1 313.7h1.5M108.5 318.6h1.5M95.3 341.8h1.5M122.4 333.6h1.5M128.7 335.4h1.5M98.8 324.9h1.5M111.3 309.9h1.5M130.3 308.1h1.5M99.2 334.2h1.5M93.7 340.4h1.5M131.6 327.5h1.5M136.4 336.8h1.5M114.3 322.2h1.5M88.7 333.5h1.5M91.5 319h1.5M107 323.3h1.5M137.4 334.3h1.5M109.5 322.2h1.5M131.2 328.5h1.5M133.2 313h1.5M106 316.8h1.5M128.1 316.9h1.5M121.9 321.7h1.5M118.2 314.5h1.5M102.1 342.4h1.5M125.2 336.4h1.5M124.4 338.5h1.5M108.2 320.1h1.5M103.7 329.9h1.5M95.6 317h1.5M85.3 320h1.5M112.2 337.1h1.5M119.8 335.7h1.5M113.6 339.4h1.5M116.9 327.5h1.5M101.4 332.5h1.5M119.1 342.6h1.5M94.2 329.4h1.5M100.7 317.4h1.5M97.3 313.9h1.5M97.1 338.9h1.5M129.8 317.3h1.5M109.8 309.8h1.5M122.3 325.6h1.5M127.8 312.9h1.5M109.4 323.7h1.5M99.7 323.4h1.5M89.1 319.8h1.5M113.5 334.9h1.5M133.7 315h1.5M132.1 338.6h1.5M118.9 333.4h1.5M116.2 335h1.5M135.5 319.3h1.5M102.6 317.1h1.5M102.2 316.1h1.5M134.8 320.7h1.5M127.1 317.6h1.5M136.4 321.9h1.5M125.3 333.8h1.5M89.3 328.7h1.5M117.4 336.5h1.5M108.2 337.5h1.5M101.9 322.6h1.5M124.5 338.7h1.5M131.3 318.5h1.5M126.1 316.7h1.5M126.8 318.7h1.5M99.4 313.9h1.5M109.7 321.1h1.5M119.6 315.5h1.5M92.4 337.3h1.5M114.6 317.4h1.5M93 342.4h1.5M111.9 340.6h1.5M102.6 342.8h1.5M118.7 322.4h1.5M111.9 306.1h1.5M103.1 334.9h1.5M97.1 337.6h1.5M133.8 342.3h1.5M94.4 328.1h1.5M114.5 337.5h1.5M115.8 321.3h1.5M92.8 308.6h1.5M103.6 316.3h1.5M137.4 338.3h1.5M130.8 335.5h1.5M93.8 313.6h1.5M129.6 318.7h1.5M107.6 325.8h1.5M116.7 339.8h1.5M91.9 335.7h1.5M119.6 317.8h1.5M122.3 315.4h1.5M103.7 342h1.5M109.6 335.6h1.5M125.1 334.6h1.5M96.1 323.5h1.5M110.3 339.8h1.5M117 314.9h1.5M134.9 305.5h1.5M121 340.8h1.5M104 310.1h1.5M133.9 308.6h1.5M102.6 340.5h1.5M113.9 326h1.5M98.4 341.9h1.5M101.5 327.3h1.5M130 330.5h1.5M97.4 324.9h1.5M132.9 329.3h1.5M122.1 317.2h1.5M130.4 311.4h1.5M127 326.8h1.5M107.9 322.6h1.5M114.3 329.4h1.5M108.4 311.2h1.5M112.5 317.2h1.5M120.1 312.4h1.5M86.5 307.5h1.5M112.3 311.6h1.5M115.2 312.8h1.5M119 316.1h1.5M112.7 326.8h1.5M90.2 326.3h1.5M123.5 320.1h1.5M126.9 312.8h1.5M115.2 339.9h1.5M132.2 340.6h1.5M135.8 324.1h1.5M91.3 329.1h1.5M136.2 314.9h1.5M109.1 330.1h1.5M119.6 314.9h1.5M137.3 327.9h1.5M93 337.9h1.5M88.3 336.5h1.5M110.2 319.8h1.5M120.3 337.8h1.5M137.7 318.1h1.5M135.4 333.2h1.5M121.9 319.4h1.5M117.3 339.1h1.5M126.1 313h1.5M107.5 316.9h1.5M117 330.4h1.5M117.2 308.1h1.5M95.1 334.2h1.5M104.3 322.2h1.5M89.7 336.7h1.5M109.6 319.3h1.5M112 330.5h1.5M91.5 325.3h1.5M97.1 333.3h1.5M95.1 321.7h1.5M135.5 308.3h1.5M92.4 337.3h1.5M89.7 320.3h1.5M108 338.5h1.5M107.4 320.7h1.5M127.1 319.1h1.5M98.8 318.2h1.5M89.4 337.4h1.5M104.9 315.4h1.5M129.8 331.3h1.5M106.4 328.9h1.5M121.5 325.8h1.5M115.1 336.5h1.5M130.5 308.3h1.5M90.7 331.5h1.5M116.9 329.5h1.5M129.2 314.3h1.5M127.6 309.9h1.5M128.6 335.5h1.5M105.8 325.1h1.5M129.1 341.9h1.5M119.2 330.5h1.5M132.4 321.7h1.5M133.6 336.4h1.5M115.2 342.8h1.5M90.2 316.8h1.5M135.7 340.6h1.5M95.7 320.4h1.5M123.9 322.7h1.5M88.1 329.2h1.5M87.6 308.1h1.5M127.7 317.4h1.5M139.5 320.2h1.5M102.6 321h1.5M111.8 311.9h1.5M92.8 333.5h1.5M91.2 340.4h1.5M92.4 317.9h1.5M134.8 306.3h1.5M93.4 331.8h1.5M95.4 325.1h1.5M115.6 308.9h1.5M95.1 338.2h1.5M134 329.8h1.5M127 336.1h1.5M124.7 313.2h1.5M104.7 324.7h1.5M121.8 330h1.5M117.7 319.1h1.5M87.2 338.6h1.5M125.5 341.1h1.5M136.4 332.9h1.5M98.9 319.8h1.5M130.8 316.9h1.5M100.8 325.7h1.5M90.9 315.5h1.5M112.3 329h1.5M117.8 336.1h1.5M109.8 311.6h1.5M99 335.2h1.5M90.1 329.7h1.5M108.7 335.2h1.5M91.7 312.9h1.5M97.3 338.5h1.5M128.9 316.6h1.5M124.3 323.4h1.5M128.7 337.8h1.5M111.6 336.3h1.5M115.8 323.1h1.5M136.2 339.2h1.5M127.9 314.2h1.5M95.1 312h1.5M126.2 337.4h1.5M100.3 322.8h1.5M115.7 336.5h1.5M87.9 309.6h1.5M112.2 312.9h1.5M107.2 324.2h1.5M117.4 324.4h1.5M108.6 333.2h1.5M95.1 321.7h1.5M133.8 338.8h1.5M109.8 308h1.5M91.9 321.3h1.5M126.6 332.8h1.5M128.3 311.6h1.5M92 338.4h1.5M94 333.9h1.5M83.5 320.8h1.5M114.7 331.5h1.5M119.1 320.9h1.5M135.7 325.1h1.5M102.3 312.6h1.5M95.1 310.1h1.5M135.6 312.1h1.5M97 333h1.5M121.5 323h1.5M91.3 330.8h1.5M129.2 341.5h1.5M91.1 312.6h1.5M92.2 331.2h1.5M100 323.6h1.5M132 328.1h1.5M116 337.5h1.5M116.7 334.3h1.5M97.9 334.1h1.5M132.4 315.1h1.5M134.2 337.1h1.5M108.3 343h1.5M127.3 341.1h1.5M133.6 339.4h1.5M112.2 334.6h1.5M110 332.6h1.5M120 341.1h1.5M86.4 331.9h1.5M94.2 310.5h1.5M114.8 322.1h1.5M108.7 312.2h1.5M102.3 339.9h1.5M114.6 310.2h1.5M110.5 326.2h1.5M110.9 332.4h1.5M131.9 326.4h1.5M97 341.5h1.5M137 319.4h1.5M126.4 320.9h1.5M102.6 309.5h1.5M117.4 340.6h1.5M126.1 330.6h1.5M115.4 330.5h1.5M98.1 328.5h1.5M107.2 322.9h1.5M119.3 309.4h1.5M123.3 334.5h1.5M110.1 342.4h1.5M121 315.4h1.5M120.3 329.2h1.5M130.6 329.1h1.5M126.5 306h1.5M110.1 325.6h1.5M133.1 332.8h1.5M97.4 338.9h1.5M115.7 330.2h1.5M96.4 310.1h1.5M98.8 325.5h1.5M115.7 341h1.5M117.7 327.4h1.5M132.4 330.9h1.5M128 305.9h1.5M124.6 336h1.5M109.4 321.5h1.5M108.4 309.7h1.5M123 336.7h1.5M131.6 316.5h1.5M102.1 340.3h1.5M95 316.2h1.5M102.4 317.2h1.5M107.3 340.5h1.5M136.1 309.5h1.5M124.8 326.1h1.5M129.1 328.2h1.5M137.8 335.7h1.5M78.4 262.8h1.5M61.3 258.3h1.5M77.6 260.6h1.5M72 260.7h1.5M63.4 261.3h1.5M69.4 257.2h1.5M72 265.1h1.5M69.3 256.3h1.5M69.5 257.5h1.5M58.3 258.6h1.5M72 257.3h1.5M69.6 259.7h1.5M67.9 258.9h1.5M68.5 259.2h1.5M69.4 261.5h1.5M67.7 257.6h1.5M72.4 258.1h1.5M80.5 259.3h1.5M79.7 260.8h1.5M71.6 262.7h1.5M72.1 259.7h1.5M68.4 257.3h1.5M65.4 262.5h1.5M58.3 265h1.5M74.6 259.1h1.5M78.5 265.5h1.5M75.5 252.9h1.5M60.2 261.9h1.5M64.2 261.2h1.5M67.9 261.1h1.5M68.3 260h1.5M61.6 259.8h1.5M65.5 263h1.5M66.6 261.2h1.5M72.7 259.4h1.5M65.7 260.3h1.5M69.1 262.1h1.5M65.2 256.4h1.5M73.1 260.6h1.5M75.5 263.8h1.5M168.1 248.6h1.5M171.3 253.6h1.5M171.8 251.2h1.5M175.1 253.5h1.5M168.8 249.4h1.5M175.6 255.8h1.5M172.4 249.6h1.5M179.2 252h1.5M175.7 257.2h1.5M172.1 254h1.5M185 250.5h1.5M186.9 254h1.5M177.4 256.2h1.5M176.9 244.5h1.5M177.1 251.4h1.5M168.7 254h1.5M173.2 249.3h1.5M186.7 255.3h1.5M183.5 257.2h1.5M169.6 257.5h1.5M170.9 248.9h1.5M177.7 251h1.5M184.4 250.9h1.5M179.2 251.9h1.5M172.3 251.2h1.5M173.9 252.5h1.5M175.3 254.5h1.5M174.6 252.8h1.5M184.1 253.4h1.5M189.7 252.4h1.5M177.6 253.8h1.5M181.8 254.3h1.5M175.9 251.5h1.5M174.1 252.1h1.5M168.6 248.4h1.5M170.4 256.2h1.5M177.3 255.1h1.5M174.9 253h1.5M172 246.3h1.5M174.8 250.5h1.5M173 247.9h1.5M178.9 254.3h1.5M178.7 255.2h1.5M172 253.7h1.5M175.7 250.6h1.5M176.1 249.2h1.5M174.4 251.9h1.5M167.3 256.4h1.5M180.8 254.3h1.5M184.4 254h1.5M179 256.8h1.5M173.7 248.1h1.5M180.6 251.3h1.5M181.1 253.9h1.5M172.6 251.8h1.5M170.6 252.2h1.5M175.2 254.4h1.5M185.3 252.8h1.5M174.7 252.4h1.5M175.6 250.7h1.5M177.2 248.7h1.5M172 252.8h1.5M180.7 253.6h1.5M174.7 255.3h1.5M177.6 257.1h1.5M178.5 252h1.5M170.2 255.8h1.5M180.9 256.1h1.5M173.4 248.9h1.5M182.8 252h1.5" stroke="#000" stroke-width="1.5" fill="none"/>
<path d="M34.1 220.7H216.4V344" stroke="#000" stroke-width="1" fill="none"/>
<path d="M34.1 220.2V344H216.9" stroke="#000" stroke-width="1.5" fill="none"/>
<path d="M34.1 344v4.5M34.1 344h-4.5M47.7 344v2.5M34.1 334.7h-2.5M55.7 344v2.5M34.1 329.2h-2.5M61.4 344v2.5M34.1 325.4h-2.5M65.8 344v2.5M34.1 322.4h-2.5M69.4 344v2.5M34.1 319.9h-2.5M72.4 344v2.5M34.1 317.8h-2.5M75 344v2.5M34.1 316h-2.5M77.3 344v2.5M34.1 314.5h-2.5M79.4 344v4.5M34.1 313.1h-4.5M93 344v2.5M34.1 303.7h-2.5M101 344v2.5M34.1 298.3h-2.5M106.7 344v2.5M34.1 294.4h-2.5M111.1 344v2.5M34.1 291.4h-2.5M114.7 344v2.5M34.1 289h-2.5M117.7 344v2.5M34.1 286.9h-2.5M120.3 344v2.5M34.1 285.1h-2.5M122.6 344v2.5M34.1 283.5h-2.5M124.7 344v4.5M34.1 282.1h-4.5M138.3 344v2.5M34.1 272.8h-2.5M146.3 344v2.5M34.1 267.3h-2.5M152 344v2.5M34.1 263.5h-2.5M156.4 344v2.5M34.1 260.5h-2.5M160 344v2.5M34.1 258h-2.5M163 344v2.5M34.1 255.9h-2.5M165.6 344v2.5M34.1 254.1h-2.5M167.9 344v2.5M34.1 252.6h-2.5M170 344v4.5M34.1 251.1h-4.5M183.6 344v2.5M34.1 241.8h-2.5M191.6 344v2.5M34.1 236.4h-2.5M197.3 344v2.5M34.1 232.5h-2.5M201.7 344v2.5M34.1 229.5h-2.5M205.3 344v2.5M34.1 227.1h-2.5M208.3 344v2.5M34.1 225h-2.5M210.9 344v2.5M34.1 223.2h-2.5M213.2 344v2.5M34.1 221.6h-2.5M215.3 344v4.5M34.1 220.7h-4.5" stroke="#000" stroke-width="1" fill="none"/>
<text x="30.9" y="359.5" font-size="10" text-anchor="middle" textLength="9.6" lengthAdjust="spacingAndGlyphs">10</text>
<text x="39.2" y="355" font-size="10" text-anchor="middle" textLength="5" lengthAdjust="spacingAndGlyphs">0</text>
<text x="24.8" y="347.1" font-size="10" text-anchor="middle" transform="rotate(-90 24.8 347.1)" textLength="8" lengthAdjust="spacingAndGlyphs">10</text>
<text x="19.8" y="338.6" font-size="10" text-anchor="middle" transform="rotate(-90 19.8 338.6)" textLength="5" lengthAdjust="spacingAndGlyphs">0</text>
<text x="76.2" y="359.5" font-size="10" text-anchor="middle" textLength="9.6" lengthAdjust="spacingAndGlyphs">10</text>
<text x="84.5" y="355" font-size="10" text-anchor="middle" textLength="5" lengthAdjust="spacingAndGlyphs">1</text>
<text x="24.8" y="316.2" font-size="10" text-anchor="middle" transform="rotate(-90 24.8 316.2)" textLength="8" lengthAdjust="spacingAndGlyphs">10</text>
<text x="19.8" y="307.7" font-size="10" text-anchor="middle" transform="rotate(-90 19.8 307.7)" textLength="5" lengthAdjust="spacingAndGlyphs">1</text>
<text x="121.5" y="359.5" font-size="10" text-anchor="middle" textLength="9.6" lengthAdjust="spacingAndGlyphs">10</text>
<text x="129.8" y="355" font-size="10" text-anchor="middle" textLength="5" lengthAdjust="spacingAndGlyphs">2</text>
<text x="24.8" y="285.2" font-size="10" text-anchor="middle" transform="rotate(-90 24.8 285.2)" textLength="8" lengthAdjust="spacingAndGlyphs">10</text>
<text x="19.8" y="276.7" font-size="10" text-anchor="middle" transform="rotate(-90 19.8 276.7)" textLength="5" lengthAdjust="spacingAndGlyphs">2</text>
<text x="166.8" y="359.5" font-size="10" text-anchor="middle" textLength="9.6" lengthAdjust="spacingAndGlyphs">10</text>
<text x="175.1" y="355" font-size="10" text-anchor="middle" textLength="5" lengthAdjust="spacingAndGlyphs">3</text>
<text x="24.8" y="254.2" font-size="10" text-anchor="middle" transform="rotate(-90 24.8 254.2)" textLength="8" lengthAdjust="spacingAndGlyphs">10</text>
<text x="19.8" y="245.7" font-size="10" text-anchor="middle" transform="rotate(-90 19.8 245.7)" textLength="5" lengthAdjust="spacingAndGlyphs">3</text>
<text x="212.1" y="359.5" font-size="10" text-anchor="middle" textLength="9.6" lengthAdjust="spacingAndGlyphs">10</text>
<text x="220.4" y="355" font-size="10" text-anchor="middle" textLength="5" lengthAdjust="spacingAndGlyphs">4</text>
<text x="24.8" y="223.3" font-size="10" text-anchor="middle" transform="rotate(-90 24.8 223.3)" textLength="8" lengthAdjust="spacingAndGlyphs">10</text>
<text x="19.8" y="214.8" font-size="10" text-anchor="middle" transform="rotate(-90 19.8 214.8)" textLength="5" lengthAdjust="spacingAndGlyphs">4</text>
<text x="125.5" y="369" font-size="10.6" text-anchor="middle" textLength="51" lengthAdjust="spacingAndGlyphs">CD 11C PE</text>
<text x="11" y="283.1" font-size="11.2" text-anchor="middle" transform="rotate(-90 11 283.1)" textLength="68" lengthAdjust="spacingAndGlyphs">HLADR PERCP</text>
<rect x="138.8" y="232.7" width="61.5" height="38.3" stroke="#000" stroke-width="1.3" fill="none"/>
<text x="101.2" y="241.5" font-size="12.4" font-family='"Liberation Serif", serif' font-weight="bold">0.27%</text>
<path d="M396.7 326.4h1.2M402.4 339.9h1.2M395.7 335.7h1.2M402.2 327.4h1.2M407 340.9h1.2M407.7 332.3h1.2M405.6 326.5h1.2M410 332.8h1.2M398.2 325.9h1.2M403.4 320h1.2M395.4 318.9h1.2M414.8 339.6h1.2M404.5 322.2h1.2M398.9 341.5h1.2M407.7 339.6h1.2M424.1 341.3h1.2M411.4 333.4h1.2M397.3 330.8h1.2M408.5 339.5h1.2M404.3 331.1h1.2M407.1 340.3h1.2M406.8 318.8h1.2M401.4 332.9h1.2M412.1 322.8h1.2M394.9 322.1h1.2M415.9 332.4h1.2M408.6 337.8h1.2M399.4 315.9h1.2M418.3 316.3h1.2M402.9 334.6h1.2M398.5 333.1h1.2M402.5 332.7h1.2M405.1 316.5h1.2M384.2 339.3h1.2M388.3 332.4h1.2M415.9 332.9h1.2M388.8 331.1h1.2M399.8 329.4h1.2M405.7 325.3h1.2M403.9 340.7h1.2M397 334.6h1.2M415.1 334.7h1.2M395.9 312.9h1.2M387 333.8h1.2M398.8 330.9h1.2M434.7 335.6h1.2M395.8 340.2h1.2M415.5 331.2h1.2M406 333.3h1.2M399.4 323.1h1.2M413 338.5h1.2M392.7 333.6h1.2M394.1 321.9h1.2M406.2 330.2h1.2M400.3 332.3h1.2M406.3 335.7h1.2M393.1 331.3h1.2M407.7 320.4h1.2M402.9 320.8h1.2M400.3 336.5h1.2M403.4 330.5h1.2M401.2 322.7h1.2M412 321.7h1.2M381.9 327h1.2M392 333.9h1.2M396.8 321.8h1.2M389.4 320.8h1.2M384.2 329.5h1.2M416.2 322.8h1.2M391.2 327.7h1.2M397.6 329.3h1.2M413.1 329h1.2M399.7 329.8h1.2M388.7 321.8h1.2M377.5 324.5h1.2M392.1 329.1h1.2M410 312.8h1.2M407.2 340.7h1.2M399.2 330.6h1.2M416.6 335.7h1.2M404.3 323.2h1.2M394.5 336.1h1.2M409.8 331.1h1.2M413.6 340.1h1.2M381.8 327.9h1.2M395.3 333.1h1.2M425.7 323.6h1.2M392.7 336.2h1.2M390.9 327.4h1.2M411.5 340.8h1.2M417 339.4h1.2M397.9 329.9h1.2M413.2 326.9h1.2M407.8 325.9h1.2M410.5 336.3h1.2M387.6 326.8h1.2M395.6 337h1.2M397.5 313h1.2M399.7 332h1.2M388 340.7h1.2M411.9 319.1h1.2M401.1 310.5h1.2M391.3 319.8h1.2M398.3 331.4h1.2M402.2 325.8h1.2M394.8 333.9h1.2M394.7 340.4h1.2M399 328.9h1.2M406.6 327.5h1.2M410.3 337.1h1.2M403.2 320.8h1.2M399.1 328.3h1.2M403 332h1.2M398.1 329.4h1.2M399 323.4h1.2M397.9 324.8h1.2M400.1 319.7h1.2M418.5 338.9h1.2M403.5 326h1.2M405.3 327.4h1.2M410.6 331h1.2M399.7 313.9h1.2M392.1 332.2h1.2M388.1 328.4h1.2M408.8 341.8h1.2M394.9 305.5h1.2M400.3 334.8h1.2M384.2 340.1h1.2M399 339.8h1.2M399.4 331.4h1.2M389.5 335.8h1.2M402.8 324.5h1.2M406.2 326.4h1.2M416.3 334.5h1.2M400.1 328.6h1.2M418.4 330.9h1.2M404.9 321.9h1.2M407.8 330.9h1.2M392.6 322.3h1.2M410.6 330.2h1.2M406.4 336h1.2M415.5 340.9h1.2M395.7 328.1h1.2M379.7 330.2h1.2M402.9 317.2h1.2M400 330.2h1.2M399 331.1h1.2M388.3 330h1.2M421 329.2h1.2M394.6 327.6h1.2M414.8 318.8h1.2M418.8 325.3h1.2M405.1 336h1.2M391.3 327.3h1.2M407.7 328.9h1.2M384 333.6h1.2M388.1 333.9h1.2M399.4 317.6h1.2M408.5 331.1h1.2M411.2 330.7h1.2M392.9 314.3h1.2M399.2 320.5h1.2M394.5 311.7h1.2M380.5 329.9h1.2M402.3 340.8h1.2M412.6 321.2h1.2M408.5 327.7h1.2M381.3 334.1h1.2M391.5 320.7h1.2M389.3 329h1.2M341.5 303.8h1.2M348.6 309h1.2M335.8 303h1.2M351.3 307.5h1.2M361.8 313h1.2M325.7 311.4h1.2M356.6 311.3h1.2M330.6 306.7h1.2M378.6 313.6h1.2M374.3 307.3h1.2M331.1 305.3h1.2M325 304h1.2M323.5 304.2h1.2M342.7 308.4h1.2M362.6 307.9h1.2M357.9 307.3h1.2M382 304.8h1.2M339.8 301h1.2M351.6 309.9h1.2M385.4 304.6h1.2M366.8 304.8h1.2M366.7 299.9h1.2M358.7 309.1h1.2M325.3 304.8h1.2M329.7 306.5h1.2M357.5 306.4h1.2M362.9 307.3h1.2M362.1 304.7h1.2M363.9 299.8h1.2M364.1 302.7h1.2M344.2 307h1.2M355.6 311.2h1.2M341.1 307.5h1.2M327.2 299h1.2M382.3 305.2h1.2M364.3 306.3h1.2M325.1 310.5h1.2M366.2 310.4h1.2M381.9 305.1h1.2M352.5 302.7h1.2M342.1 302.2h1.2M333.4 303.3h1.2M352.4 302h1.2M337.6 302h1.2M323.3 301.9h1.2M345.5 307.8h1.2M370.2 310h1.2M346.3 303.8h1.2M344.1 305.5h1.2M325.8 308.7h1.2M349.5 304.8h1.2M330.8 312.3h1.2M381.7 300.5h1.2M385.1 304.4h1.2M364.4 297.4h1.2M351.7 311h1.2M348.4 311.3h1.2M354.1 311.3h1.2M390.7 301.5h1.2M352.8 301.2h1.2M323.8 300.9h1.2M358.1 310.2h1.2M362.4 307.2h1.2M346.5 301.9h1.2M349.6 304.4h1.2M325.1 311.1h1.2M339.4 298.6h1.2M360.5 307.7h1.2M386 303.1h1.2M331.3 311.2h1.2M341.5 311.5h1.2M359.7 297.7h1.2M326 299.5h1.2M375.4 309.5h1.2M360.7 299.2h1.2M355.4 287.5h1.2M350.5 305.4h1.2M371.7 308.4h1.2M328.2 305.4h1.2M325.1 303.6h1.2M335.2 320.5h1.2M333.8 303h1.2M350.6 315.5h1.2M327.8 312.2h1.2M368 301.3h1.2M340.7 315.6h1.2M325.6 298.3h1.2M323.4 301.1h1.2M348.9 300.1h1.2M356.1 306.7h1.2M361.8 304.6h1.2M345.3 302.2h1.2M372.4 306.3h1.2M370.9 301.3h1.2M350.6 305.4h1.2M326.5 303.1h1.2M324 301h1.2M393 306.1h1.2M325.7 309.3h1.2M372.2 315.8h1.2M361.4 310.6h1.2M352.8 301.4h1.2M354.2 304.4h1.2M323.6 314.9h1.2M344.5 300.8h1.2M341.1 310.9h1.2M344.8 302.1h1.2M376.4 301.8h1.2M365.5 306.1h1.2M337.4 311.3h1.2M364.5 310h1.2M350.1 305h1.2M325.3 304.2h1.2M343.4 310.7h1.2M399.3 306.1h1.2M400.9 305.4h1.2M372.8 312.1h1.2M324.3 315h1.2M326.5 305.2h1.2M330.9 302.3h1.2M324.6 303.9h1.2M380.1 299.7h1.2M371.4 308.3h1.2M365.4 308.4h1.2M367.5 309.8h1.2M328 298.1h1.2M370.8 308.6h1.2M383.7 306.3h1.2M345.7 301.1h1.2M323.9 307.5h1.2M393.5 266.2h1.2M379.6 276.4h1.2M331.9 270.8h1.2M341.5 269.8h1.2M375.2 265h1.2M362.4 279.2h1.2M404.2 257.5h1.2M356.1 260h1.2M342.5 273h1.2M351.5 279.6h1.2M386.6 266.6h1.2M342.7 268.5h1.2M362.8 260.9h1.2M388.4 266.1h1.2M342.2 274h1.2M334.2 279.1h1.2M359 282.6h1.2M365.2 252.1h1.2M350.4 270.7h1.2M353 265.3h1.2M373.5 252.1h1.2M353.3 256h1.2M363.3 274.3h1.2M360 256.8h1.2M352.3 261.9h1.2M370 272.6h1.2M369.1 274.2h1.2M344.2 255.6h1.2M332.9 275.5h1.2M366 257.2h1.2M375.7 262.7h1.2M351.8 257.3h1.2M365.5 270.5h1.2M366.5 264.6h1.2M358.3 265.9h1.2M355.2 239.9h1.2M352.6 262h1.2M367.1 262.8h1.2M356.9 262.5h1.2M344.7 249.9h1.2M349.5 267.7h1.2M365.9 278.6h1.2M391.4 267.2h1.2M365.9 262.4h1.2M363.1 257.1h1.2M353 267.8h1.2M374.6 260.5h1.2M352.4 276.4h1.2M357.7 270h1.2M380 268.2h1.2M355.3 280.2h1.2M355.6 270.4h1.2M345 284.6h1.2M353.1 283.6h1.2M355.7 264.5h1.2M336.4 255.6h1.2M363.8 276.1h1.2M349.5 266.6h1.2M379.3 266.4h1.2M350.3 268.4h1.2M360.1 263.5h1.2M377.1 247.9h1.2M393 269.6h1.2M340.6 271.8h1.2M364.2 278.4h1.2M379.1 266.1h1.2M374.2 282.3h1.2M391.5 272.3h1.2M364.3 260.2h1.2M371.3 274.5h1.2M366.9 247.6h1.2M356 261.7h1.2M365.2 265.5h1.2M361.4 265.4h1.2M378 258.9h1.2M366.8 259.6h1.2M375.8 271h1.2M366.7 276.5h1.2M374.3 279.5h1.2M337.5 268.1h1.2M350 281.3h1.2M372.8 264.9h1.2M380.8 266.4h1.2M366.3 265.1h1.2M384.5 268.4h1.2M388.3 260.1h1.2M365.8 258.8h1.2M380.1 266.5h1.2M344.5 275.6h1.2M380.5 267.7h1.2M351.2 270.9h1.2M394.1 258.8h1.2M332 267.5h1.2M338.3 251.5h1.2M368.7 272.1h1.2M379.2 271.6h1.2M375.8 268.8h1.2M392.1 264.7h1.2M351.5 283h1.2M376.5 267.3h1.2M366.8 262.6h1.2M348.6 250.4h1.2M331.2 272.6h1.2M355.6 260.7h1.2M353.7 273.9h1.2M390.5 267.5h1.2M346.2 262.3h1.2M359 274.5h1.2M366 275.3h1.2M339.1 271.2h1.2M396.3 272h1.2M358.3 271.2h1.2M382.3 271.1h1.2M383.7 252.7h1.2M369.6 270.5h1.2M371.5 267.8h1.2M361.8 271.6h1.2M341.2 262.6h1.2M359.4 271.4h1.2M363.1 261h1.2M380.6 270.7h1.2M366.1 272.6h1.2M367.1 280.2h1.2M361.3 258.2h1.2M371.7 273.2h1.2M379.3 273.9h1.2M362.2 283.2h1.2M353 261.6h1.2M376.9 261.4h1.2M386.3 259.4h1.2M367.8 269.9h1.2M355.4 250.6h1.2M369.3 270.7h1.2M363.9 263.3h1.2M340.2 261.6h1.2M330.7 284.8h1.2M357.8 280h1.2M361.7 282.8h1.2M353.2 261.1h1.2M349.5 269h1.2M347.7 254.3h1.2M391.9 281.1h1.2M352 276.9h1.2M325.2 270.3h1.2M401.1 287.5h1.2M378.6 279.3h1.2M369.1 283.1h1.2M357.6 245.3h1.2M385 269.6h1.2M365.2 274.5h1.2M377.2 255.3h1.2M367.1 261.6h1.2M359.4 279.5h1.2M363.3 262.5h1.2M366.8 267h1.2M365.9 276.7h1.2M365.1 264.4h1.2M360.9 258.4h1.2M391.1 274.6h1.2M330.3 267.2h1.2M387.8 252.6h1.2M357.7 285.8h1.2M372.1 276h1.2M346.7 283.7h1.2M375.1 281.9h1.2M347 263.1h1.2M347.6 272.1h1.2M347.1 269.2h1.2M392.8 276.6h1.2M353.2 273.4h1.2M347 276.3h1.2M343.2 275.5h1.2M383.4 255.7h1.2M382.7 281.7h1.2M394.1 282.7h1.2M378.2 275.7h1.2M354 287.5h1.2M368 278.9h1.2M378.1 269.4h1.2M345.7 275.5h1.2M369.2 260h1.2M395.4 273h1.2M358.3 264.2h1.2M391.2 265.5h1.2M359.7 250.5h1.2M362.1 263.4h1.2M383.9 282.5h1.2M386.8 254.4h1.2M372.6 283.6h1.2M362.3 267.7h1.2M365.7 255.3h1.2M359.5 267.7h1.2M370.8 270.3h1.2M367.3 265.6h1.2M402.9 282.1h1.2M381.1 271.9h1.2M394.4 261.8h1.2M382 277.1h1.2M364.9 252.6h1.2M338.7 282.2h1.2M346.3 276.6h1.2M363.8 265.5h1.2M373.1 282.5h1.2M381.5 282.2h1.2M347.9 263.9h1.2M389.3 269.6h1.2M361.3 255h1.2M358.6 264.4h1.2M376.7 268.4h1.2M334.2 250.3h1.2M386.8 255.8h1.2M338.4 256.4h1.2M355.3 272.3h1.2M365.2 262.6h1.2M357.3 261h1.2M360.8 262.1h1.2M367.5 258.6h1.2M358 271.2h1.2M348.2 264h1.2M375 266.3h1.2M359.4 266.6h1.2M367.1 242.8h1.2M370.3 266.4h1.2M398.8 253.6h1.2M387.8 266.9h1.2M358.3 269.4h1.2M364 255.7h1.2M371.1 273.5h1.2M344.3 275.1h1.2M366.7 274h1.2M373.9 269.1h1.2M397.3 268h1.2M336.9 275.9h1.2M333.6 268.6h1.2M358.5 246.1h1.2M332.6 288.8h1.2M349.2 245.2h1.2M344.2 263.1h1.2M379 251.3h1.2M361.9 266.6h1.2M357.4 277.4h1.2M358.2 246.4h1.2M359.9 259.7h1.2M357 271.4h1.2M325.3 266.7h1.2M365.5 255.7h1.2M325.3 279.6h1.2M378.4 251.7h1.2M348.8 259h1.2M357 255.1h1.2M373.8 268.6h1.2M379.5 266.7h1.2M392.6 256.9h1.2M376.5 273.8h1.2M361.7 271.6h1.2M357.2 254h1.2M359.1 276.2h1.2M324.1 283.6h1.2M336.7 274.4h1.2M340.6 274.1h1.2M348.6 269.7h1.2M365.1 268.2h1.2M371.3 266.6h1.2M357.2 280.1h1.2M355.6 267h1.2M374 259.8h1.2M356.1 268.6h1.2M364.2 266.3h1.2M354.8 270.2h1.2M374.8 253.8h1.2M343.4 261.2h1.2M351.2 266.4h1.2M353.3 258.9h1.2M341.9 263.8h1.2M344.1 255.8h1.2M356.1 257.8h1.2M346.3 262.9h1.2M331.4 277h1.2M360.7 273.1h1.2M348.8 262.4h1.2M357.2 262.4h1.2M352.1 259.2h1.2M342.7 269.2h1.2M354.2 262.6h1.2M345.1 275h1.2M346.8 250h1.2M353.5 248.2h1.2M359.9 258.2h1.2M349.6 261.9h1.2M347.4 253.7h1.2M353.7 263.3h1.2M343.2 266.1h1.2M354.7 256.1h1.2M349.8 252.1h1.2M328.6 266.8h1.2M349.6 269h1.2M351.3 263.7h1.2M352.9 265.3h1.2M354.8 255.3h1.2M353.2 249.4h1.2M352 274.7h1.2M366.2 270.9h1.2M344.7 265.7h1.2M342.9 267.8h1.2M348.4 258.3h1.2M352.9 268.3h1.2M338.2 260.4h1.2M351.7 263.5h1.2M343.6 261.5h1.2M344.5 267.4h1.2M352.8 271.3h1.2M344.6 257.5h1.2M351.9 269h1.2M352.1 260.4h1.2M336.6 259.8h1.2M352 268.6h1.2M338.8 265.2h1.2M352.8 274.9h1.2M359.3 252.8h1.2M345.6 260.8h1.2M354.6 290h1.2M340.4 290.4h1.2M350.8 291.8h1.2M357.8 295.3h1.2M368.9 294h1.2M363.8 283.3h1.2M363.7 303.8h1.2M367.2 294.3h1.2M377.2 294.3h1.2M355.8 291.6h1.2M348.8 285.7h1.2M367.4 290h1.2M346 295.2h1.2M379.4 292.6h1.2M356.5 308.5h1.2M370.4 289.8h1.2M386.5 305.8h1.2M342.3 285h1.2M362 299h1.2M344.6 304h1.2M372.5 307.5h1.2M370 297.8h1.2M384.7 290.6h1.2M344.9 291.5h1.2M336.6 283.5h1.2M365.9 297h1.2M385.3 304.7h1.2M353.9 282.7h1.2M396.1 294.9h1.2M369.8 282.5h1.2M345.9 299.5h1.2M353.8 303.7h1.2M347.6 304.5h1.2M342 281.7h1.2M361.9 288.5h1.2M352.5 298.2h1.2M382.9 284.2h1.2M384.4 304.9h1.2M392.7 292.9h1.2M358.9 293.7h1.2M374.2 287.1h1.2M337.9 295.5h1.2M373.5 294.6h1.2M342.4 280.4h1.2M359.9 296.9h1.2M386.5 289.8h1.2M337.8 284.8h1.2M356.5 298.9h1.2M332.6 289h1.2M352.5 293.1h1.2M361 286h1.2M384.4 303.4h1.2M385.6 297.9h1.2M383.4 297.7h1.2M370.5 280.7h1.2M371.4 297.9h1.2M357.4 301.1h1.2M368.6 285.1h1.2M388.7 287.2h1.2M375.8 285.3h1.2M343.1 297.8h1.2M355.1 290.5h1.2M360.9 296.1h1.2M399.2 291.4h1.2M372.2 291.5h1.2M401.2 295.6h1.2M352 289.7h1.2M400.7 295h1.2M407 287h1.2M383.4 292.4h1.2M369.2 295.8h1.2M385.8 292.9h1.2M377 289.3h1.2M359 298.8h1.2M385.1 295h1.2M403.2 288.2h1.2M343.3 303h1.2M377.6 289.3h1.2M399.6 293.3h1.2M418.5 281.4h1.2M355.6 300.3h1.2M395.4 307.2h1.2M359.9 294.9h1.2M379.6 301.8h1.2M361.4 293.9h1.2M337.6 303.4h1.2M351.6 299.2h1.2M375.2 297.5h1.2M364 300.2h1.2M382.6 287.1h1.2M368.6 296.4h1.2M351 297.3h1.2M392.1 304.7h1.2M364.2 270.5h1.2M385.1 300.9h1.2M368.5 295.7h1.2M359.1 287.9h1.2M384.8 305.1h1.2M373.8 287h1.2M338.5 300.1h1.2M383.1 305.1h1.2M364.3 290.4h1.2M357.9 303.1h1.2M407.1 288.1h1.2M361.4 292.4h1.2M384.3 288.9h1.2M388.4 299.1h1.2M374.9 302.5h1.2M352.4 288.8h1.2M399.6 294.2h1.2M356.6 292.6h1.2M350.3 301.7h1.2M355 301.8h1.2M386.2 294.2h1.2M409 295.6h1.2M378.9 302.1h1.2M356.4 285.4h1.2M377.8 288.7h1.2M346.4 287.1h1.2M387.6 310.1h1.2M371.3 294.5h1.2M377.7 301.3h1.2M371.5 290.9h1.2M386.1 291.3h1.2M355.8 288.9h1.2M357.9 293.1h1.2M368.6 299.4h1.2M360.5 294.5h1.2M362 295.2h1.2M393.6 291.6h1.2M337.7 302.1h1.2M379.3 298.7h1.2M324.5 286.2h1.2M377 293.5h1.2M364.4 303.2h1.2M348.3 290.7h1.2M374.7 287.9h1.2M355.2 293h1.2M356.2 292.7h1.2M390.9 284.6h1.2M357.1 289.5h1.2M363.2 298.2h1.2M402.1 305.4h1.2M421.5 282.2h1.2M355.8 314.6h1.2M373.9 297.2h1.2M367.2 291.7h1.2M399.4 296.1h1.2M359.2 295.9h1.2M370.8 300h1.2M416.1 251.2h1.2M402.2 251.2h1.2M403.4 247.7h1.2M407.1 246.7h1.2M406 248.5h1.2M437.2 251.8h1.2M398.7 249.5h1.2M423.9 248.1h1.2M435 253.9h1.2M419 249.5h1.2M419.2 249.8h1.2M370.1 248.2h1.2M428.5 250h1.2M395.5 253.8h1.2M416.6 252.3h1.2M413 247.3h1.2M404 246.6h1.2M426.8 248.3h1.2M448.6 247.1h1.2M382.4 252.8h1.2M367.1 249.8h1.2M407.9 256.9h1.2M410.6 251.3h1.2M402.1 249.8h1.2M389 251.3h1.2M396.2 249.5h1.2M368.3 251.7h1.2M404.5 249.5h1.2M405.8 253.6h1.2M351 252.4h1.2M394.9 249.2h1.2M413.8 252.1h1.2M376.6 253.3h1.2M389.7 253.8h1.2M400.7 257.7h1.2M379 250.8h1.2M434.1 248.4h1.2M411.4 244.5h1.2M368.2 246.6h1.2M396 246.2h1.2M445.1 281.8h1.2M425.6 293.1h1.2M450 295h1.2M447.6 280.4h1.2M440.6 286.8h1.2M444.1 295.8h1.2M454.6 300.6h1.2M441.3 255.6h1.2M432.6 288.9h1.2M435.7 308.8h1.2M440.2 282.2h1.2M445.2 277.9h1.2M441.6 301.5h1.2M450 308.1h1.2M452.2 302.3h1.2M432.4 284.6h1.2M438.3 284.5h1.2M445.1 293.1h1.2M446.7 299.9h1.2M447.7 302.8h1.2M435.2 274h1.2M444.3 294.2h1.2M433.5 262h1.2M448.4 282.3h1.2M446.9 296.4h1.2M445.7 276.2h1.2M448.3 281.4h1.2M448 268.3h1.2M445.8 285.4h1.2M440.8 293.9h1.2M445.1 287.3h1.2M445.1 275.5h1.2M444.9 273.1h1.2M436.1 286.8h1.2M444.6 276.1h1.2M436.6 271.9h1.2M439.8 277.7h1.2M452.8 270.4h1.2M441.5 298.3h1.2M444.3 285.8h1.2M451.6 300.1h1.2M450.2 280.5h1.2M447.4 294.1h1.2M439.2 296.8h1.2M444.6 279.8h1.2M444 289.7h1.2M443.6 284.5h1.2M432 283h1.2M442.5 262.2h1.2M446.6 284.4h1.2M446.9 289.6h1.2M441.2 263.2h1.2M440.6 270.4h1.2M438.1 278.6h1.2M439.8 291.1h1.2M465.8 243.9h1.2M447.4 244.6h1.2M467 253.8h1.2M451.4 242.8h1.2M452.2 246h1.2M465.5 238.9h1.2M452.9 243.4h1.2M476.1 240.4h1.2M473.3 248.2h1.2M459.6 246.9h1.2M456.7 243.9h1.2M444.2 244.2h1.2M454.5 250.6h1.2M453.5 240.5h1.2M462.4 240.3h1.2M454 240.6h1.2M467.5 240.2h1.2M460.9 237.9h1.2M448.9 228.5h1.2M469.1 255.6h1.2M441.7 260.1h1.2M474.5 246.7h1.2M455.9 243.3h1.2M472.6 238.6h1.2M445.2 244.7h1.2M462.1 243.4h1.2M457.6 245.9h1.2M481.4 241.6h1.2M463.1 237.8h1.2M456.4 252.5h1.2M466 247h1.2M455.2 237.3h1.2M456.5 243.6h1.2M476.7 233.9h1.2M456 257.6h1.2M456.2 242.5h1.2M468 238.7h1.2M458.8 243.4h1.2M466.1 241.3h1.2M460.8 238h1.2M455.2 246.6h1.2M453.3 250.4h1.2M455.8 232.8h1.2M477.9 237.5h1.2M469.9 246h1.2M461.2 247.5h1.2M463.5 238.6h1.2M466.8 236.6h1.2M471.4 238h1.2M463.5 243.1h1.2M466.1 241.1h1.2M455.5 244.3h1.2M464.7 251.1h1.2M444.3 231.4h1.2M457.1 242.6h1.2M462.3 244.5h1.2M454.5 244.9h1.2M456.9 240.2h1.2M446.4 241.9h1.2M444 248.3h1.2M470.9 249.5h1.2M453.4 248.9h1.2M448.4 247.4h1.2M458.8 255.4h1.2M453.6 242.7h1.2M447.1 241.5h1.2M470.1 251.1h1.2M450 239.6h1.2M449.6 238.1h1.2M458.9 253.8h1.2M448.8 247.3h1.2M460.6 235.2h1.2M454.8 237.7h1.2M464.2 244.5h1.2M453.8 231.3h1.2M451.5 247.5h1.2M452.9 250.2h1.2M462.8 246.9h1.2M460.4 248.8h1.2M453.3 243.8h1.2M464.3 236.3h1.2M442.3 253.2h1.2M470.9 245.5h1.2M482.4 239.2h1.2M439.8 246.8h1.2M436.5 249.2h1.2M463.4 253h1.2M478.5 240.8h1.2M475.2 245.5h1.2M452.7 242.9h1.2M441.1 247.9h1.2M455.1 240.7h1.2M457.7 241.4h1.2M477.2 230.8h1.2M469.1 238.3h1.2M456 247.9h1.2M436.2 247.5h1.2M463.7 234.5h1.2M439.5 234h1.2M450.7 237.3h1.2M453.7 241.9h1.2M464.2 251.3h1.2M440.3 244.9h1.2M452.6 256.2h1.2M453.2 240.1h1.2M441.1 251.3h1.2M443.4 243.6h1.2M466.3 243.3h1.2M461.1 246.8h1.2M448.3 240.1h1.2M452.2 240.4h1.2M469 245.2h1.2M459.2 246.4h1.2M454.2 244.4h1.2M466 233.2h1.2M463.5 250.6h1.2M449.5 246.7h1.2M458.9 243.2h1.2M468 244.4h1.2M459.3 242.8h1.2M448.1 251.6h1.2M455.6 241.5h1.2M458.8 256h1.2M453 252.1h1.2M446.2 241.9h1.2" stroke="#000" stroke-width="1.2" fill="none"/>
<path d="M343.8 321.2h1.5M339.1 329.8h1.5M354.6 319.6h1.5M343.3 330.9h1.5M330.4 322.9h1.5M351.1 329h1.5M344.4 328.4h1.5M362.3 323.9h1.5M346.5 319h1.5M353.3 330h1.5M341.3 326.8h1.5M353.1 337.7h1.5M350.1 334.3h1.5M332.3 327.3h1.5M340.2 339h1.5M329.8 319h1.5M363.3 336.1h1.5M339.1 329h1.5M357.7 321.6h1.5M324.1 314.3h1.5M359 313.3h1.5M350.8 318.6h1.5M330.2 316.7h1.5M327.6 317h1.5M356 331.8h1.5M336.5 325.7h1.5M329.7 321.8h1.5M345 339.6h1.5M340.8 326.8h1.5M332.5 332.9h1.5M370.2 337.4h1.5M364.4 328.6h1.5M353.9 333.6h1.5M324.2 320h1.5M360.5 336.2h1.5M352.3 318.9h1.5M330.2 334h1.5M330.3 326h1.5M341.3 331.4h1.5M349.1 339.1h1.5M335.8 318.3h1.5M341 312.8h1.5M339.4 325.9h1.5M323.6 320.2h1.5M368.5 328.9h1.5M335.3 322.2h1.5M338 329h1.5M329.6 337.3h1.5M347.6 319.3h1.5M360.1 315h1.5M364.1 333.3h1.5M327.9 323.8h1.5M336.1 340.8h1.5M338.3 314.6h1.5M361.7 328.9h1.5M360.8 325.6h1.5M363.2 337.7h1.5M338.3 312.2h1.5M366.7 321.4h1.5M333.9 316.3h1.5M346.8 336.7h1.5M337.4 333.9h1.5M346.7 330.9h1.5M363.8 320.1h1.5M366.3 315h1.5M339.9 322.1h1.5M346.7 341.1h1.5M335.6 335.3h1.5M360.9 313h1.5M328.5 340.3h1.5M347.2 328.5h1.5M357.8 324.4h1.5M337.3 335.6h1.5M333 320.5h1.5M345 315.1h1.5M355.5 332.6h1.5M344.9 341.7h1.5M365.8 335.5h1.5M357.2 311.3h1.5M326.9 335h1.5M351.9 324.7h1.5M356.1 339.8h1.5M369.1 319.7h1.5M359 327.6h1.5M356.2 335.9h1.5M328.1 325.3h1.5M333.6 319.4h1.5M343.4 317.7h1.5M343.1 326.5h1.5M327.8 316.6h1.5M346.6 335.5h1.5M351.5 341.1h1.5M331.9 315.4h1.5M347.9 322h1.5M352.7 317.6h1.5M332.4 334.2h1.5M356.8 317.4h1.5M334.1 341.2h1.5M358.3 327h1.5M360.4 322.1h1.5M329.2 331.1h1.5M345.6 319h1.5M354.4 337.4h1.5M331.4 330.8h1.5M338.9 319.4h1.5M336.1 338.7h1.5M363.5 316.8h1.5M326.1 335.4h1.5M340.8 322h1.5M340.9 319.1h1.5M334.5 310.1h1.5M358.1 340.4h1.5M328.6 324.8h1.5M334.4 318.6h1.5M337.3 319.1h1.5M364.6 341h1.5M337.3 325.7h1.5M363.5 337.7h1.5M361.2 340.1h1.5M360.9 314.5h1.5M349.9 328.6h1.5M363.6 318.4h1.5M343.8 320.9h1.5M325 335.4h1.5M329 317.9h1.5M336.7 338.1h1.5M348.1 335.4h1.5M324.3 319.2h1.5M358.7 319.1h1.5M347.3 324.6h1.5M350.6 323.3h1.5M352.4 335.9h1.5M343.8 324.8h1.5M324.5 327.3h1.5M340.7 326.2h1.5M327.1 312.1h1.5M329 335.3h1.5M333.5 332.4h1.5M354.9 322h1.5M358.2 329.6h1.5M342.7 328.7h1.5M332.7 330.3h1.5M361 334.7h1.5M342.6 329.9h1.5M347.9 338.8h1.5M334.5 337.2h1.5M353.9 327.9h1.5M339.1 336.9h1.5M350.8 327h1.5M360.6 319.6h1.5M330.7 330.7h1.5M352.1 308.9h1.5M351.6 333.2h1.5M361.3 334.3h1.5M334 317.6h1.5M347.3 325.5h1.5M345.4 326.5h1.5M358 331.5h1.5M348.1 313.6h1.5M353.1 330.1h1.5M351.9 327.1h1.5M359.8 311.9h1.5M355.6 312.2h1.5M347.3 315.1h1.5M346.2 327.8h1.5M343.3 327.6h1.5M332.5 334.4h1.5M361.3 308.1h1.5M332.7 324.3h1.5M346.6 314.3h1.5M335.9 333.2h1.5M328.9 311.9h1.5M351.7 340.2h1.5M342.2 333.4h1.5M346.2 311.9h1.5M356.4 330.7h1.5M325.2 338.8h1.5M338.1 319.5h1.5M359.1 340.3h1.5M338.6 337.7h1.5M342.2 337h1.5M362.4 320.5h1.5M343.4 329.8h1.5M362.3 340.7h1.5M326.9 325.6h1.5M369.6 316.4h1.5M357.7 314.4h1.5M348.3 322.2h1.5M354.4 324.3h1.5M345.5 332.8h1.5M324.5 321.5h1.5M339.6 318.1h1.5M353.6 323.7h1.5M339.7 325.2h1.5M346.1 325h1.5M347.7 328.2h1.5M340.6 333.3h1.5M343.9 320.1h1.5M333.7 341h1.5M348.8 332.2h1.5M343 325.4h1.5M325.1 335.9h1.5M346.7 327h1.5M345.5 341.2h1.5M349.8 324.5h1.5M327.6 336.7h1.5M338.6 316.7h1.5M328.2 341.6h1.5M328.9 340.2h1.5M326.3 320.9h1.5M323.8 329.6h1.5M363.8 336.7h1.5M347.8 318.6h1.5M360.5 335.7h1.5M340.2 323.1h1.5M344.9 333h1.5M327.3 322.4h1.5M335.1 318.2h1.5M333.1 310.8h1.5M352.8 328.3h1.5M355.9 328.5h1.5M357.9 332h1.5M326.4 312.1h1.5M348.1 317.3h1.5M351 323.1h1.5M325.3 319.5h1.5M355.3 316.1h1.5M337.8 338.6h1.5M364.5 340.4h1.5M332.8 340.1h1.5M350.9 337.9h1.5M352.8 317.9h1.5M334.1 329.9h1.5M341.3 335.2h1.5M354.6 330.4h1.5M346.3 318.7h1.5M365.8 328.7h1.5M359.3 312h1.5M329.2 335h1.5M355 311.6h1.5M359.9 331.4h1.5M359.2 340.4h1.5M351.4 319.1h1.5M332.9 320.4h1.5M325.9 324h1.5M358.6 339.2h1.5M355.2 312.9h1.5M343.6 317.4h1.5M357.5 319.5h1.5M325.3 313.1h1.5M358.5 318.4h1.5M343.9 338h1.5M347.5 325.2h1.5M362.9 321.7h1.5M359 340.5h1.5M330.7 323.2h1.5M359.9 335.3h1.5M329.9 328.3h1.5M346.8 316.6h1.5M341.7 338.7h1.5M345.5 316.5h1.5M349.4 339.3h1.5M355.2 332h1.5M336.6 316.7h1.5M363 326.1h1.5M328.3 320.8h1.5M327.9 334.2h1.5M359.7 320.9h1.5M352.6 331h1.5M362.6 327.9h1.5M349.3 332.1h1.5M335.1 338.9h1.5M346.9 316.6h1.5M328.4 332.7h1.5M363.7 341.5h1.5M365.1 321h1.5M325.3 328.3h1.5M345.8 330.5h1.5M333.2 314.5h1.5M343.3 335.3h1.5M338.9 340.3h1.5M363.2 335.8h1.5M337 326.5h1.5M329.8 336.1h1.5M366 327.6h1.5M335.5 326.1h1.5M356.3 332.8h1.5M343.2 328.7h1.5M352.7 313.8h1.5M347.4 318h1.5M356.5 341.4h1.5M330.6 315.2h1.5M366.8 318.4h1.5M337.7 334.2h1.5M361.7 334.7h1.5M325.8 312.4h1.5M350.7 323.8h1.5M341.7 333.3h1.5M327.8 315.4h1.5M360 338.4h1.5M348.7 318.3h1.5M353.7 323.7h1.5M345.6 324.1h1.5M345.7 327.1h1.5M347.2 312h1.5M337.5 326.6h1.5M345.6 335.7h1.5M352.1 336.2h1.5M353 328.5h1.5M329.6 339.5h1.5M359.8 332.3h1.5M343.6 315.3h1.5M353.6 317.8h1.5M344.4 337.1h1.5M335.3 312.3h1.5M363.5 321.9h1.5M363.7 323h1.5M355.8 321h1.5M332.5 312.8h1.5M329.3 317.5h1.5M350 317.2h1.5M355 329.4h1.5M329.4 318.8h1.5M346.9 328.2h1.5M354.7 321.9h1.5M369.4 314.1h1.5M360.6 319.8h1.5M360.1 331.4h1.5M327.9 331.5h1.5M360.4 335h1.5M343.8 312.9h1.5M341.2 336.3h1.5M347.2 333.3h1.5M348.3 313.9h1.5M361.4 325.9h1.5M324.1 331.2h1.5M324.7 341.5h1.5M339.9 332.4h1.5M360.9 339.6h1.5M327.1 318.3h1.5M347.5 325.4h1.5M337.9 315.1h1.5M361.6 326.1h1.5M352 310.6h1.5M334.7 313.1h1.5M368.6 310h1.5M356.4 326.2h1.5M331.9 318.8h1.5M357.4 341h1.5M347.1 316.3h1.5M346.9 319h1.5M342.3 338.5h1.5M343 335.1h1.5M348.6 332h1.5M366 314.1h1.5M361.9 316.2h1.5M342.8 339.9h1.5M341.1 312.4h1.5M362.4 326.6h1.5M340.7 324.9h1.5M339.8 323h1.5M350.6 327.5h1.5M324.8 333h1.5M358 340.5h1.5M332.6 335.7h1.5M343.5 332h1.5M333.3 338.3h1.5M345.5 318.1h1.5M335.2 327.1h1.5M343.8 341.1h1.5M345.8 324.7h1.5M359 315.8h1.5M333.6 330.7h1.5M362 317.5h1.5M365.6 340.9h1.5M360.4 320.3h1.5M340.5 334.5h1.5M350.1 336.2h1.5M346.5 312.8h1.5M356.4 341.3h1.5M352 322.3h1.5M329.3 328.4h1.5M331.5 322.9h1.5M328.7 312.5h1.5M343.5 336.8h1.5M359.9 317.4h1.5M353.6 323.5h1.5M326.2 322.6h1.5M337.2 326.1h1.5M349.2 323.5h1.5M345.9 341h1.5M350.9 317.6h1.5M353.6 326.1h1.5M354.6 338.5h1.5M329.4 335.8h1.5M355.7 337.8h1.5M330.6 327h1.5M342.6 325.3h1.5M334.9 317h1.5M329.8 326.1h1.5M336.3 316.8h1.5M326.2 333h1.5M366.1 322.3h1.5M342.7 323.4h1.5M361.5 322.5h1.5M332.6 333.8h1.5M341.2 322.9h1.5M364.4 328.9h1.5M334.6 322.9h1.5M345 335.3h1.5M343.8 321h1.5M333.6 329.8h1.5M355 327.5h1.5M340.3 310.7h1.5M342.2 336.7h1.5M357.2 340.1h1.5M328.1 335.2h1.5M364.8 316.3h1.5M342.6 339.3h1.5M359.7 336.3h1.5M354.5 340.5h1.5M355.6 327.2h1.5M353 335.5h1.5M355.6 319h1.5M354.5 332.4h1.5M333.7 324.6h1.5M359.9 320h1.5M329.3 336.1h1.5M329.8 315.4h1.5M332.3 313h1.5M343.6 329.3h1.5M363.9 340.1h1.5M329.6 329.6h1.5M371.4 330.8h1.5M333.4 312.8h1.5M342.5 324.4h1.5M336.2 338.2h1.5M352.7 326.4h1.5M347.8 328.7h1.5M332.8 316.8h1.5M343.7 315.2h1.5M345.5 333.5h1.5M336.1 319.2h1.5M332.3 341.7h1.5M335.2 337.1h1.5M326.2 313.7h1.5M328.4 336.2h1.5M327.8 311.4h1.5M335.2 339.4h1.5M331.9 337.5h1.5M353.9 311.3h1.5M353.2 334.4h1.5M367.8 324.9h1.5M358 319h1.5M358.1 325.3h1.5M360.5 325.1h1.5M364.7 338.6h1.5M362 327.5h1.5M326.1 334.3h1.5M356 328.8h1.5M340.4 324.4h1.5M335.2 317.1h1.5M358.4 332.4h1.5M351.1 330.3h1.5M358.3 312h1.5M361.7 318.7h1.5M336.5 325.9h1.5M358.9 316.8h1.5M325.9 316.1h1.5M326.3 340.6h1.5M331.4 338.3h1.5M335.6 330.9h1.5M324.9 333.3h1.5M359 326.9h1.5M351.6 317.7h1.5M347.8 324h1.5M327.7 323h1.5M360.9 336.7h1.5M354.5 318.8h1.5M343.2 332.6h1.5M327.7 316.6h1.5M366.4 332.1h1.5M363.9 310.7h1.5M330.9 328.5h1.5M342.5 314.2h1.5M343.1 321.9h1.5M347.9 339.4h1.5M352.3 334.3h1.5M355.1 338h1.5M338.6 334.2h1.5M338.8 329.7h1.5M328.7 318.5h1.5M347.5 338.6h1.5M353.8 321.8h1.5M334.2 318.9h1.5M344.5 330.6h1.5M326.1 318.7h1.5M333.3 337.4h1.5M346.2 313.7h1.5M324.8 317.8h1.5M347.5 317.9h1.5M334.9 324.6h1.5M337.5 319.3h1.5M356.2 315.1h1.5M343.8 324h1.5M346.2 338.8h1.5M364.4 338.3h1.5M355.7 336.6h1.5M324.3 336.2h1.5M349.5 320.3h1.5M338.6 328.6h1.5M343.5 335.4h1.5M332.3 329.1h1.5M342.6 313.5h1.5M331.4 323.6h1.5M357.9 335.1h1.5M345.4 332.5h1.5M352.8 321.5h1.5M340.9 332.6h1.5M358.7 314.1h1.5M338.9 317.4h1.5M357.7 308.1h1.5M333.7 314.1h1.5M348.1 340.7h1.5M348.7 319.3h1.5M332.6 327.2h1.5M341.2 333.4h1.5M325.2 321.1h1.5M356.6 331.3h1.5M352.2 339.8h1.5M327.9 325.2h1.5M338.6 339.4h1.5M335.2 338.3h1.5M327 323.3h1.5M355.2 320.7h1.5M328.8 339.4h1.5M343.9 325.4h1.5M367.1 337.8h1.5M350 319h1.5M351.9 318.5h1.5M345 316.8h1.5M354.4 338h1.5M350.7 321h1.5M333.7 315.1h1.5M344.6 339.3h1.5M349.3 335.5h1.5M327.1 329.1h1.5M342.1 314.9h1.5M365.7 322.5h1.5M362.4 320.1h1.5M335.1 330.1h1.5M359.9 323.5h1.5M353.8 338.9h1.5M358.9 314.3h1.5M344 319.2h1.5M364.2 330.3h1.5M344.9 317.5h1.5M332.3 313.8h1.5M342.8 328.3h1.5M336 333.3h1.5M342.7 332.6h1.5M366.1 335.3h1.5M331.9 316.3h1.5M343.7 335.1h1.5M365.6 328.4h1.5M360.7 328.8h1.5M328.3 334.3h1.5M358.2 313.1h1.5M330.4 325.8h1.5M332.5 332.4h1.5M323.8 334h1.5M332.4 324.7h1.5M348.4 315.8h1.5M353.6 329.3h1.5M355.8 324.5h1.5M345.6 318.5h1.5M347.3 340h1.5M329.8 325.4h1.5M331.4 326.6h1.5M329.3 340.4h1.5M362.6 316.5h1.5M342.4 315.3h1.5M353.7 322.2h1.5M356.5 337.8h1.5M348.4 332.9h1.5M346.4 335.5h1.5M340.4 325.8h1.5M352.6 318.3h1.5M348.6 319.1h1.5M327.5 327.3h1.5M330.7 314.6h1.5M350.5 328.8h1.5M351.5 332.4h1.5M345.8 322.6h1.5M358.2 333.8h1.5M357.9 323.3h1.5M358.9 331.5h1.5M323.3 313.7h1.5M363 326.4h1.5M362.1 317.5h1.5M353.9 337.4h1.5M363.6 339.9h1.5M347.5 321.8h1.5M352 313.3h1.5M344.9 329.8h1.5M329 307.3h1.5M346.1 331.8h1.5M356.3 310.2h1.5M339.8 331.9h1.5M333 333.4h1.5M364.2 323.5h1.5M368.5 330h1.5M364.2 334.4h1.5M355.3 338.6h1.5M335.3 316.5h1.5M325.5 317.8h1.5M338.1 336.9h1.5M332.7 331.3h1.5M333.5 337.3h1.5M358.3 327.8h1.5M330.7 331.8h1.5M328.5 334.4h1.5M336.6 321.4h1.5M332 335.5h1.5M341.7 335.5h1.5M363.5 337.4h1.5M324.1 330.6h1.5M336 322.4h1.5M361.9 327.8h1.5M330.3 320h1.5M364.5 330.6h1.5M339.1 335.6h1.5M358 322.3h1.5M329.1 341.4h1.5M349.3 335.3h1.5M336 333.6h1.5M352.9 316.2h1.5M323.9 332.3h1.5M342.2 316.1h1.5M341 310h1.5M338.7 323.4h1.5M364.5 319.3h1.5M356.7 336.4h1.5M335.9 334.3h1.5M354.5 336.3h1.5M342.5 340.7h1.5M359.2 311.2h1.5M344.5 333.2h1.5M341.9 324h1.5M325.5 313.1h1.5M333.6 318h1.5M331.6 340.1h1.5M358.6 337.2h1.5M357.1 311.9h1.5M340.9 321.8h1.5M360.1 317.9h1.5M361.8 312.4h1.5M332.1 316.4h1.5M357 311.3h1.5M327.7 312h1.5M332.2 340.8h1.5M329.3 327.3h1.5M338.3 335.4h1.5M324.5 314.3h1.5M338.7 320.7h1.5M351.3 316.1h1.5M362.2 317h1.5M335.8 337.5h1.5M364.9 335.5h1.5M353.7 330.6h1.5M359.7 333.2h1.5M335.9 331h1.5M366.1 317.5h1.5M329.1 311.2h1.5M355.3 336.6h1.5M350.1 334.9h1.5M342.9 331.3h1.5M363.6 329.6h1.5M334.2 325.1h1.5M357.6 341.3h1.5M355.5 321.7h1.5M357.8 339.9h1.5M364.1 329.1h1.5M344.1 325.2h1.5M360 337.3h1.5M358.9 320.2h1.5M348.8 330.2h1.5M358.5 338.5h1.5M346.3 322.1h1.5M344.8 337.6h1.5M340 315.1h1.5M353.8 321.3h1.5M364.7 329.6h1.5M350.8 313.4h1.5M333.7 332.7h1.5M350.3 331.3h1.5M337.4 328.3h1.5M360.3 307.8h1.5M364.4 315.1h1.5M341.2 325.7h1.5M369.7 328.6h1.5M400.3 329.4h1.5M371.2 332.7h1.5M366.9 317.3h1.5M373.6 340.4h1.5M368.5 340.5h1.5M381 324.6h1.5M392.1 330.6h1.5M377.2 328.1h1.5M388.8 338.2h1.5M371.1 316.9h1.5M363.3 335.4h1.5M378 339.6h1.5M377 323.1h1.5M380.6 315.3h1.5M373.6 330.1h1.5M368.1 330.7h1.5M365.9 337.3h1.5M391.9 328.7h1.5M377.4 339.3h1.5M371.3 322.5h1.5M381.8 318.5h1.5M389.2 339.6h1.5M375.9 339.9h1.5M370.7 309.5h1.5M374.1 326h1.5M368.1 336.1h1.5M370.5 328.8h1.5M392.5 333.7h1.5M372.1 324.6h1.5M392.1 325.9h1.5M385.9 323.8h1.5M389 321.7h1.5M378.6 328.8h1.5M370.7 314.2h1.5M392.8 339.8h1.5M376.1 324.7h1.5M394.6 318.5h1.5M376 333.6h1.5M374.2 334h1.5M373 339.3h1.5M373 321.2h1.5M389.4 337.7h1.5M371 338.1h1.5M368.6 340.3h1.5M377.2 328.3h1.5M389.1 340.1h1.5M392.6 336.8h1.5M394.2 332.4h1.5M373.1 315.5h1.5M378.6 322.6h1.5M378.9 326.2h1.5M386.6 341.2h1.5M386.7 317.2h1.5M384.2 335.2h1.5M391 325.5h1.5M383.3 341.3h1.5M376.3 332.7h1.5M391.4 310.8h1.5M386.7 318.4h1.5M394.3 317.4h1.5M399 326h1.5M382.1 324.5h1.5M390.3 335h1.5M367.1 335.8h1.5M386.8 317.8h1.5M399.1 339.9h1.5M381.9 334.4h1.5M379.8 337.9h1.5M372.4 316.5h1.5M381.3 337.6h1.5M367.4 335.2h1.5M364.6 325.5h1.5M379 323.2h1.5M379.7 338.7h1.5M384.5 326.5h1.5M379.7 317.4h1.5M376.2 335.4h1.5M396.6 321.5h1.5M371.8 325.4h1.5M368.6 323.9h1.5M369.3 330.6h1.5M392.1 334.3h1.5M381.9 323.7h1.5M382.1 341h1.5M375.5 336.1h1.5M368.7 316.8h1.5M383.4 316.4h1.5M381.1 314.6h1.5M374.4 329.5h1.5M383.6 331.4h1.5M365.8 339.3h1.5M366.8 334.4h1.5M366.3 338.7h1.5M382.9 324h1.5M393.2 326.4h1.5M395.1 320.8h1.5M367.1 321.7h1.5M379.7 322.8h1.5M388.6 335.2h1.5M372.2 340.7h1.5M368.3 320.8h1.5M390.8 335.7h1.5M375.7 331.4h1.5M383.2 340.7h1.5M389 331.1h1.5M366.3 321.1h1.5M378.3 339.1h1.5M374.2 322.7h1.5M372 332.3h1.5M379.7 318.6h1.5M376.3 330.2h1.5M375.1 332.8h1.5M380.8 328.7h1.5M364.3 322.2h1.5M370 326h1.5M392.2 325.7h1.5M387.5 340.4h1.5M382.1 335.8h1.5M399.4 337.8h1.5M364.6 335.9h1.5M394.1 339.6h1.5M371.2 337.1h1.5M383.2 339.5h1.5M396 314.7h1.5M368.4 338.6h1.5M363.3 333.7h1.5M381.4 340.6h1.5M397.7 340.7h1.5M384.5 316.4h1.5M369.3 334.2h1.5M386 321h1.5M394.8 313.8h1.5M390.5 329.5h1.5M368.9 312.8h1.5M391.9 318.4h1.5M383 329.3h1.5M392.4 336.7h1.5M380 323.3h1.5M368.7 328.2h1.5M365 331.7h1.5M362.5 311.4h1.5M374.9 323.6h1.5M386.5 321.5h1.5M374.9 317.5h1.5M383.8 315.2h1.5M370.3 318.2h1.5M376 322h1.5M387.3 323.1h1.5M396.6 331.9h1.5M384.5 325.1h1.5M389 332.2h1.5M370.6 334.9h1.5M371.4 316.5h1.5M390.9 325.9h1.5M374.7 318.4h1.5M396.2 312.7h1.5M366.9 325.8h1.5M374 340.8h1.5M382.9 334.2h1.5M370.2 340.3h1.5M368.5 318.5h1.5M389.3 337.2h1.5M371.3 314.1h1.5M375.1 335.7h1.5M369.6 320.2h1.5M385.3 323h1.5M367.3 328.2h1.5M373.4 320.6h1.5M374.1 324.1h1.5M390.2 312.1h1.5M376.7 334.4h1.5M387.6 317.8h1.5M385.7 331.3h1.5M374.4 333.5h1.5M377.4 333.6h1.5M390.9 315.8h1.5M381.7 332.7h1.5M382.7 330.1h1.5M361.2 329.3h1.5M392.9 325.2h1.5M387.2 338.4h1.5M369.4 320.2h1.5M388.4 329.4h1.5M376.9 315.7h1.5M364.1 319.3h1.5M380.9 328.3h1.5M375.6 326.2h1.5M387 320.1h1.5M376.7 315.8h1.5M373.1 333.3h1.5M388.7 332.9h1.5M370.5 312.9h1.5M378 331.8h1.5M373.8 339.6h1.5M371 315.6h1.5M367.2 317.1h1.5M396.7 329.4h1.5M368.2 319.5h1.5M387.7 321.7h1.5M375.7 330.9h1.5M394.5 333.1h1.5M389.6 330.8h1.5M378.9 323.2h1.5M387.8 328.1h1.5M390 328.3h1.5M381.7 322.3h1.5M384.4 340.6h1.5M368 318.7h1.5M387.9 315.3h1.5M392.5 336.2h1.5M392.8 318h1.5M374.5 324.3h1.5M391.8 326h1.5M368.7 318.6h1.5M385.1 331.9h1.5M368.6 329.5h1.5M388.8 323.4h1.5M392.8 319.1h1.5M381.2 323.3h1.5M370.1 320.8h1.5M373.1 336.7h1.5M389.6 327.4h1.5M380.2 337.4h1.5M383.1 335h1.5M392 334.8h1.5M378 338h1.5M395.8 321.8h1.5M382.1 332.6h1.5M377.1 335.5h1.5M374.8 315.4h1.5M369.5 314.5h1.5M363.6 314.8h1.5M387.9 329.7h1.5M378.4 326.9h1.5M378.4 325.4h1.5M382.9 332h1.5M374.1 340.9h1.5M383.9 340.4h1.5M383.6 327.7h1.5M397.6 323.7h1.5M378 317.5h1.5M372.9 323.9h1.5M380.8 334.6h1.5M370.8 336.7h1.5M371.7 328.7h1.5M389.3 337.8h1.5M375.5 336.2h1.5M390.4 336.8h1.5M376.7 311.9h1.5M368.1 335.9h1.5M377.1 330.6h1.5M387.5 325.1h1.5M379 321.9h1.5M385.3 334.3h1.5M389.6 327.9h1.5M379.6 318.2h1.5M391.4 336.8h1.5M379.3 323.4h1.5M369.9 330.1h1.5M394.6 319.7h1.5M386.2 333.4h1.5M383.8 324.4h1.5M380.1 337h1.5M371.7 341.4h1.5M368.1 338.1h1.5M364.5 327.6h1.5M387.2 331.1h1.5M376.4 332h1.5M365.7 331.1h1.5M368.8 330.3h1.5M375.9 333.8h1.5M366 328.6h1.5M383.9 328.1h1.5M385.1 314.9h1.5M371.3 336.2h1.5M390.9 322.4h1.5M379.1 333h1.5M386.2 340.1h1.5M390.7 329.7h1.5M385.3 322.2h1.5M376.8 330.2h1.5M379.5 315.3h1.5M384.7 320.3h1.5M369 329h1.5M388.5 340.6h1.5M382.2 323h1.5M379.3 337.6h1.5M377.8 320h1.5M384.9 328.5h1.5M392.9 336.4h1.5M378.6 334.9h1.5M397.8 336.9h1.5M383.5 341.4h1.5M389.6 316.4h1.5M381.4 323.2h1.5M388.3 325.3h1.5M365.1 338.2h1.5M381.3 329.3h1.5M364.6 320.2h1.5M376.1 339.9h1.5M377.8 327.7h1.5M370 338.8h1.5M364.3 319.9h1.5M386.1 330.6h1.5M371.2 328.5h1.5M384 330.5h1.5M376.9 333.2h1.5M393.7 329.8h1.5M388.3 324.7h1.5M380.3 321.4h1.5M368.3 338.1h1.5M393.8 329.1h1.5M372.8 317.3h1.5M397.2 323.7h1.5M372.9 325.1h1.5M387.1 319h1.5M382.5 328.9h1.5M374.7 333.1h1.5M367.5 334.3h1.5M381.3 323.2h1.5M378.7 331.6h1.5M391 320.2h1.5M385.5 321.1h1.5M373.7 328.8h1.5M383.8 316.4h1.5M393.4 324.2h1.5M388.1 313h1.5M380.9 321.1h1.5M362.6 333.4h1.5M468.5 240h1.5M464 246.7h1.5M458.3 242.3h1.5M464.3 241.3h1.5M465.7 243.5h1.5M463.1 244h1.5M462.9 238.3h1.5M465 247.1h1.5M466.2 243.4h1.5M459.6 241h1.5M465.9 243.4h1.5M467.4 241.9h1.5M458.7 239.1h1.5M464.8 244.6h1.5M463.4 243.7h1.5M464.5 244.8h1.5M461.3 240.5h1.5M461.3 243h1.5M464.2 239.3h1.5M464.2 244.2h1.5" stroke="#000" stroke-width="1.5" fill="none"/>
<path d="M322.3 220H511.7V342.8" stroke="#000" stroke-width="1" fill="none"/>
<path d="M322.3 219.5V342.8H512.2" stroke="#000" stroke-width="1.5" fill="none"/>
<path d="M322.3 342.8v4.5M322.3 342.8h-4.5M336.3 342.8v2.5M322.3 333.5h-2.5M344.4 342.8v2.5M322.3 328.1h-2.5M350.2 342.8v2.5M322.3 324.2h-2.5M354.7 342.8v2.5M322.3 321.3h-2.5M358.4 342.8v2.5M322.3 318.8h-2.5M361.5 342.8v2.5M322.3 316.7h-2.5M364.2 342.8v2.5M322.3 315h-2.5M366.6 342.8v2.5M322.3 313.4h-2.5M368.7 342.8v4.5M322.3 312h-4.5M382.7 342.8v2.5M322.3 302.7h-2.5M390.8 342.8v2.5M322.3 297.3h-2.5M396.6 342.8v2.5M322.3 293.4h-2.5M401.1 342.8v2.5M322.3 290.4h-2.5M404.8 342.8v2.5M322.3 288h-2.5M407.9 342.8v2.5M322.3 285.9h-2.5M410.6 342.8v2.5M322.3 284.1h-2.5M413 342.8v2.5M322.3 282.6h-2.5M415.1 342.8v4.5M322.3 281.1h-4.5M429.1 342.8v2.5M322.3 271.9h-2.5M437.2 342.8v2.5M322.3 266.4h-2.5M443 342.8v2.5M322.3 262.6h-2.5M447.5 342.8v2.5M322.3 259.6h-2.5M451.2 342.8v2.5M322.3 257.2h-2.5M454.3 342.8v2.5M322.3 255.1h-2.5M457 342.8v2.5M322.3 253.3h-2.5M459.4 342.8v2.5M322.3 251.7h-2.5M461.5 342.8v4.5M322.3 250.3h-4.5M475.5 342.8v2.5M322.3 241h-2.5M483.6 342.8v2.5M322.3 235.6h-2.5M489.4 342.8v2.5M322.3 231.8h-2.5M493.9 342.8v2.5M322.3 228.8h-2.5M497.6 342.8v2.5M322.3 226.3h-2.5M500.7 342.8v2.5M322.3 224.3h-2.5M503.4 342.8v2.5M322.3 222.5h-2.5M505.8 342.8v2.5M322.3 220.9h-2.5M507.9 342.8v4.5M322.3 220h-4.5" stroke="#000" stroke-width="1" fill="none"/>
<text x="319.1" y="358.3" font-size="10" text-anchor="middle" textLength="9.6" lengthAdjust="spacingAndGlyphs">10</text>
<text x="327.4" y="353.8" font-size="10" text-anchor="middle" textLength="5" lengthAdjust="spacingAndGlyphs">0</text>
<text x="313" y="345.9" font-size="10" text-anchor="middle" transform="rotate(-90 313 345.9)" textLength="8" lengthAdjust="spacingAndGlyphs">10</text>
<text x="308" y="337.4" font-size="10" text-anchor="middle" transform="rotate(-90 308 337.4)" textLength="5" lengthAdjust="spacingAndGlyphs">0</text>
<text x="365.5" y="358.3" font-size="10" text-anchor="middle" textLength="9.6" lengthAdjust="spacingAndGlyphs">10</text>
<text x="373.8" y="353.8" font-size="10" text-anchor="middle" textLength="5" lengthAdjust="spacingAndGlyphs">1</text>
<text x="313" y="315.1" font-size="10" text-anchor="middle" transform="rotate(-90 313 315.1)" textLength="8" lengthAdjust="spacingAndGlyphs">10</text>
<text x="308" y="306.6" font-size="10" text-anchor="middle" transform="rotate(-90 308 306.6)" textLength="5" lengthAdjust="spacingAndGlyphs">1</text>
<text x="411.9" y="358.3" font-size="10" text-anchor="middle" textLength="9.6" lengthAdjust="spacingAndGlyphs">10</text>
<text x="420.2" y="353.8" font-size="10" text-anchor="middle" textLength="5" lengthAdjust="spacingAndGlyphs">2</text>
<text x="313" y="284.2" font-size="10" text-anchor="middle" transform="rotate(-90 313 284.2)" textLength="8" lengthAdjust="spacingAndGlyphs">10</text>
<text x="308" y="275.8" font-size="10" text-anchor="middle" transform="rotate(-90 308 275.8)" textLength="5" lengthAdjust="spacingAndGlyphs">2</text>
<text x="458.3" y="358.3" font-size="10" text-anchor="middle" textLength="9.6" lengthAdjust="spacingAndGlyphs">10</text>
<text x="466.6" y="353.8" font-size="10" text-anchor="middle" textLength="5" lengthAdjust="spacingAndGlyphs">3</text>
<text x="313" y="253.4" font-size="10" text-anchor="middle" transform="rotate(-90 313 253.4)" textLength="8" lengthAdjust="spacingAndGlyphs">10</text>
<text x="308" y="244.9" font-size="10" text-anchor="middle" transform="rotate(-90 308 244.9)" textLength="5" lengthAdjust="spacingAndGlyphs">3</text>
<text x="504.7" y="358.3" font-size="10" text-anchor="middle" textLength="9.6" lengthAdjust="spacingAndGlyphs">10</text>
<text x="513" y="353.8" font-size="10" text-anchor="middle" textLength="5" lengthAdjust="spacingAndGlyphs">4</text>
<text x="313" y="222.6" font-size="10" text-anchor="middle" transform="rotate(-90 313 222.6)" textLength="8" lengthAdjust="spacingAndGlyphs">10</text>
<text x="308" y="214.1" font-size="10" text-anchor="middle" transform="rotate(-90 308 214.1)" textLength="5" lengthAdjust="spacingAndGlyphs">4</text>
<text x="415.2" y="367.8" font-size="10.6" text-anchor="middle" textLength="50" lengthAdjust="spacingAndGlyphs">CD11CPE</text>
<text x="299.2" y="282.1" font-size="11.2" text-anchor="middle" transform="rotate(-90 299.2 282.1)" textLength="68" lengthAdjust="spacingAndGlyphs">HLADR PERCP</text>
<rect x="430.3" y="225.7" width="57.1" height="36.8" stroke="#000" stroke-width="1.3" fill="none"/>
<text x="383.3" y="241.9" font-size="12.9" font-family='"Liberation Serif", serif' font-weight="bold">0.09%</text>
<rect x="29.5" y="404" width="131.5" height="80" stroke="#888" stroke-width="0.9" fill="none"/>
<text x="25.5" y="485.2" font-size="5" font-weight="bold" text-anchor="end" fill="#222">0.0</text>
<text x="25.5" y="473.1" font-size="5" font-weight="bold" text-anchor="end" fill="#222">0.1</text>
<text x="25.5" y="461" font-size="5" font-weight="bold" text-anchor="end" fill="#222">0.2</text>
<text x="25.5" y="448.9" font-size="5" font-weight="bold" text-anchor="end" fill="#222">0.3</text>
<text x="25.5" y="436.8" font-size="5" font-weight="bold" text-anchor="end" fill="#222">0.4</text>
<text x="25.5" y="424.7" font-size="5" font-weight="bold" text-anchor="end" fill="#222">0.5</text>
<text x="25.5" y="412.6" font-size="5" font-weight="bold" text-anchor="end" fill="#222">0.6</text>
<path d="M29.5 483.5h-2M29.5 471.4h-2M29.5 459.3h-2M29.5 447.2h-2M29.5 435.1h-2M29.5 423h-2M29.5 410.9h-2" stroke="#555" stroke-width="0.8"/>
<text x="7" y="443.7" font-size="6" font-weight="bold" text-anchor="middle" fill="#111" transform="rotate(-90 7 443.7)" textLength="66" lengthAdjust="spacingAndGlyphs">% of CD123 positive cells</text>
<path d="M64.8 447.2V433.9M62.8 433.9h4" stroke="#888" stroke-width="0.9"/>
<rect x="59.8" y="447.2" width="9.5" height="36.8" fill="#080808" stroke="#333" stroke-width="0.8"/>
<text x="60.6" y="494.5" font-size="6.3" font-weight="bold" text-anchor="end" fill="#111" transform="rotate(-45 60.6 494.5)" textLength="34" lengthAdjust="spacingAndGlyphs">Control (n=6)</text>
<path d="M80.3 438.1V413.9M78.3 413.9h4" stroke="#888" stroke-width="0.9"/>
<rect x="75.3" y="438.1" width="9.5" height="45.9" fill="#a6a6a6" stroke="#333" stroke-width="0.8"/>
<text x="78.2" y="495.5" font-size="6.3" font-weight="bold" text-anchor="end" fill="#111" transform="rotate(-45 78.2 495.5)" textLength="43" lengthAdjust="spacingAndGlyphs">MF patients (n=4)</text>
<path d="M96 460.5V452M94 452h4" stroke="#888" stroke-width="0.9"/>
<rect x="91" y="460.5" width="9.5" height="23.5" fill="#6b6b6b" stroke="#333" stroke-width="0.8"/>
<text x="92.8" y="494.5" font-size="6.3" font-weight="bold" text-anchor="end" fill="#111" transform="rotate(-45 92.8 494.5)" textLength="62" lengthAdjust="spacingAndGlyphs">Low SzS patients (n=12)</text>
<path d="M111.5 477.4V473.8M109.5 473.8h4" stroke="#888" stroke-width="0.9"/>
<rect x="106.5" y="477.4" width="9.5" height="6.6" fill="#dedede" stroke="#333" stroke-width="0.8"/>
<text x="107" y="496.7" font-size="6.3" font-weight="bold" text-anchor="end" fill="#111" transform="rotate(-45 107 496.7)" textLength="42.5" lengthAdjust="spacingAndGlyphs">Medium SzS (n=4)</text>
<path d="M127.8 473.2V471.4M125.8 471.4h4" stroke="#888" stroke-width="0.9"/>
<rect x="122.8" y="473.2" width="9.5" height="10.8" fill="#3b3b3b" stroke="#333" stroke-width="0.8"/>
<text x="128.8" y="496.2" font-size="6.3" font-weight="bold" text-anchor="end" fill="#111" transform="rotate(-45 128.8 496.2)" textLength="59.5" lengthAdjust="spacingAndGlyphs">High SzS patients (n=5)</text>
<text x="98" y="445.5" font-size="9" font-weight="bold" text-anchor="middle" fill="#222">***</text>
<text x="111.5" y="467" font-size="9" font-weight="bold" text-anchor="middle" fill="#222">*</text>
<text x="127.5" y="467" font-size="9" font-weight="bold" text-anchor="middle" fill="#222">*</text>
<rect x="207" y="403.8" width="132.5" height="80.5" stroke="#888" stroke-width="0.9" fill="none"/>
<text x="203" y="485.7" font-size="5" font-weight="bold" text-anchor="end" fill="#222">0.0</text>
<text x="203" y="471.1" font-size="5" font-weight="bold" text-anchor="end" fill="#222">0.1</text>
<text x="203" y="456.5" font-size="5" font-weight="bold" text-anchor="end" fill="#222">0.2</text>
<text x="203" y="441.9" font-size="5" font-weight="bold" text-anchor="end" fill="#222">0.3</text>
<text x="203" y="427.3" font-size="5" font-weight="bold" text-anchor="end" fill="#222">0.4</text>
<text x="203" y="412.7" font-size="5" font-weight="bold" text-anchor="end" fill="#222">0.5</text>
<path d="M207 484h-2M207 469.4h-2M207 454.8h-2M207 440.2h-2M207 425.6h-2M207 411h-2" stroke="#555" stroke-width="0.8"/>
<text x="183.5" y="442.3" font-size="6" font-weight="bold" text-anchor="middle" fill="#111" transform="rotate(-90 183.5 442.3)" textLength="70" lengthAdjust="spacingAndGlyphs">% of CD11c positive cells</text>
<path d="M242 432.9V415.4M240 415.4h4" stroke="#888" stroke-width="0.9"/>
<rect x="237" y="432.9" width="9.5" height="51.4" fill="#080808" stroke="#333" stroke-width="0.8"/>
<text x="237.8" y="494.8" font-size="6.3" font-weight="bold" text-anchor="end" fill="#111" transform="rotate(-45 237.8 494.8)" textLength="34" lengthAdjust="spacingAndGlyphs">Control (n=6)</text>
<path d="M257.5 431.4V412.5M255.5 412.5h4" stroke="#888" stroke-width="0.9"/>
<rect x="252.5" y="431.4" width="9.5" height="52.8" fill="#a6a6a6" stroke="#333" stroke-width="0.8"/>
<text x="255.4" y="495.8" font-size="6.3" font-weight="bold" text-anchor="end" fill="#111" transform="rotate(-45 255.4 495.8)" textLength="43" lengthAdjust="spacingAndGlyphs">MF patients (n=4)</text>
<path d="M273.2 441.7V416.8M271.2 416.8h4" stroke="#888" stroke-width="0.9"/>
<rect x="268.2" y="441.7" width="9.5" height="42.6" fill="#6b6b6b" stroke="#333" stroke-width="0.8"/>
<text x="270" y="494.8" font-size="6.3" font-weight="bold" text-anchor="end" fill="#111" transform="rotate(-45 270 494.8)" textLength="62" lengthAdjust="spacingAndGlyphs">Low SzS patients (n=12)</text>
<path d="M289.2 470.9V454.8M287.2 454.8h4" stroke="#888" stroke-width="0.9"/>
<rect x="284.2" y="470.9" width="9.5" height="13.4" fill="#dedede" stroke="#333" stroke-width="0.8"/>
<text x="284.7" y="496.9" font-size="6.3" font-weight="bold" text-anchor="end" fill="#111" transform="rotate(-45 284.7 496.9)" textLength="42.5" lengthAdjust="spacingAndGlyphs">Medium SzS (n=4)</text>
<path d="M305.2 469.4V461.4M303.2 461.4h4" stroke="#888" stroke-width="0.9"/>
<rect x="300.2" y="469.4" width="9.5" height="14.9" fill="#3b3b3b" stroke="#333" stroke-width="0.8"/>
<text x="306.2" y="496.4" font-size="6.3" font-weight="bold" text-anchor="end" fill="#111" transform="rotate(-45 306.2 496.4)" textLength="59.5" lengthAdjust="spacingAndGlyphs">High SzS patients (n=5)</text>
<text x="290.5" y="453.5" font-size="9" font-weight="bold" text-anchor="middle" fill="#222">**</text>
<text x="305" y="453.5" font-size="9" font-weight="bold" text-anchor="middle" fill="#222">*</text>
<rect x="385" y="403.5" width="133.5" height="80.8" stroke="#888" stroke-width="0.9" fill="none"/>
<text x="381" y="486" font-size="5" font-weight="bold" text-anchor="end" fill="#222">0</text>
<text x="381" y="472.6" font-size="5" font-weight="bold" text-anchor="end" fill="#222">5</text>
<text x="381" y="459.1" font-size="5" font-weight="bold" text-anchor="end" fill="#222">10</text>
<text x="381" y="445.7" font-size="5" font-weight="bold" text-anchor="end" fill="#222">15</text>
<text x="381" y="432.3" font-size="5" font-weight="bold" text-anchor="end" fill="#222">20</text>
<text x="381" y="418.9" font-size="5" font-weight="bold" text-anchor="end" fill="#222">25</text>
<text x="381" y="405.4" font-size="5" font-weight="bold" text-anchor="end" fill="#222">30</text>
<path d="M385 484.3h-2M385 470.9h-2M385 457.4h-2M385 444h-2M385 430.6h-2M385 417.2h-2M385 403.8h-2" stroke="#555" stroke-width="0.8"/>
<text x="362.5" y="441.5" font-size="6" font-weight="bold" text-anchor="middle" fill="#111" transform="rotate(-90 362.5 441.5)" textLength="62" lengthAdjust="spacingAndGlyphs">% of CD14 positive cells</text>
<path d="M421.2 438.7V421.2M419.2 421.2h4" stroke="#888" stroke-width="0.9"/>
<rect x="416.2" y="438.7" width="9.5" height="45.6" fill="#080808" stroke="#333" stroke-width="0.8"/>
<text x="417" y="494.8" font-size="6.3" font-weight="bold" text-anchor="end" fill="#111" transform="rotate(-45 417 494.8)" textLength="34" lengthAdjust="spacingAndGlyphs">Control (n=6)</text>
<path d="M436.6 439.5V427.9M434.6 427.9h4" stroke="#888" stroke-width="0.9"/>
<rect x="431.6" y="439.5" width="9.5" height="44.8" fill="#a6a6a6" stroke="#333" stroke-width="0.8"/>
<text x="434.5" y="495.8" font-size="6.3" font-weight="bold" text-anchor="end" fill="#111" transform="rotate(-45 434.5 495.8)" textLength="43" lengthAdjust="spacingAndGlyphs">MF patients (n=4)</text>
<path d="M452.5 434.6V411.8M450.5 411.8h4" stroke="#888" stroke-width="0.9"/>
<rect x="447.5" y="434.6" width="9.5" height="49.7" fill="#6b6b6b" stroke="#333" stroke-width="0.8"/>
<text x="449.3" y="494.8" font-size="6.3" font-weight="bold" text-anchor="end" fill="#111" transform="rotate(-45 449.3 494.8)" textLength="62" lengthAdjust="spacingAndGlyphs">Low SzS patients (n=12)</text>
<path d="M468.2 449.4V437.3M466.2 437.3h4" stroke="#888" stroke-width="0.9"/>
<rect x="463.2" y="449.4" width="9.5" height="34.9" fill="#dedede" stroke="#333" stroke-width="0.8"/>
<text x="463.7" y="497" font-size="6.3" font-weight="bold" text-anchor="end" fill="#111" transform="rotate(-45 463.7 497)" textLength="42.5" lengthAdjust="spacingAndGlyphs">Medium SzS (n=4)</text>
<path d="M484.3 457.4V444M482.3 444h4" stroke="#888" stroke-width="0.9"/>
<rect x="479.3" y="457.4" width="9.5" height="26.9" fill="#3b3b3b" stroke="#333" stroke-width="0.8"/>
<text x="485.3" y="496.5" font-size="6.3" font-weight="bold" text-anchor="end" fill="#111" transform="rotate(-45 485.3 496.5)" textLength="59.5" lengthAdjust="spacingAndGlyphs">High SzS patients (n=5)</text></svg>
</body></html>
